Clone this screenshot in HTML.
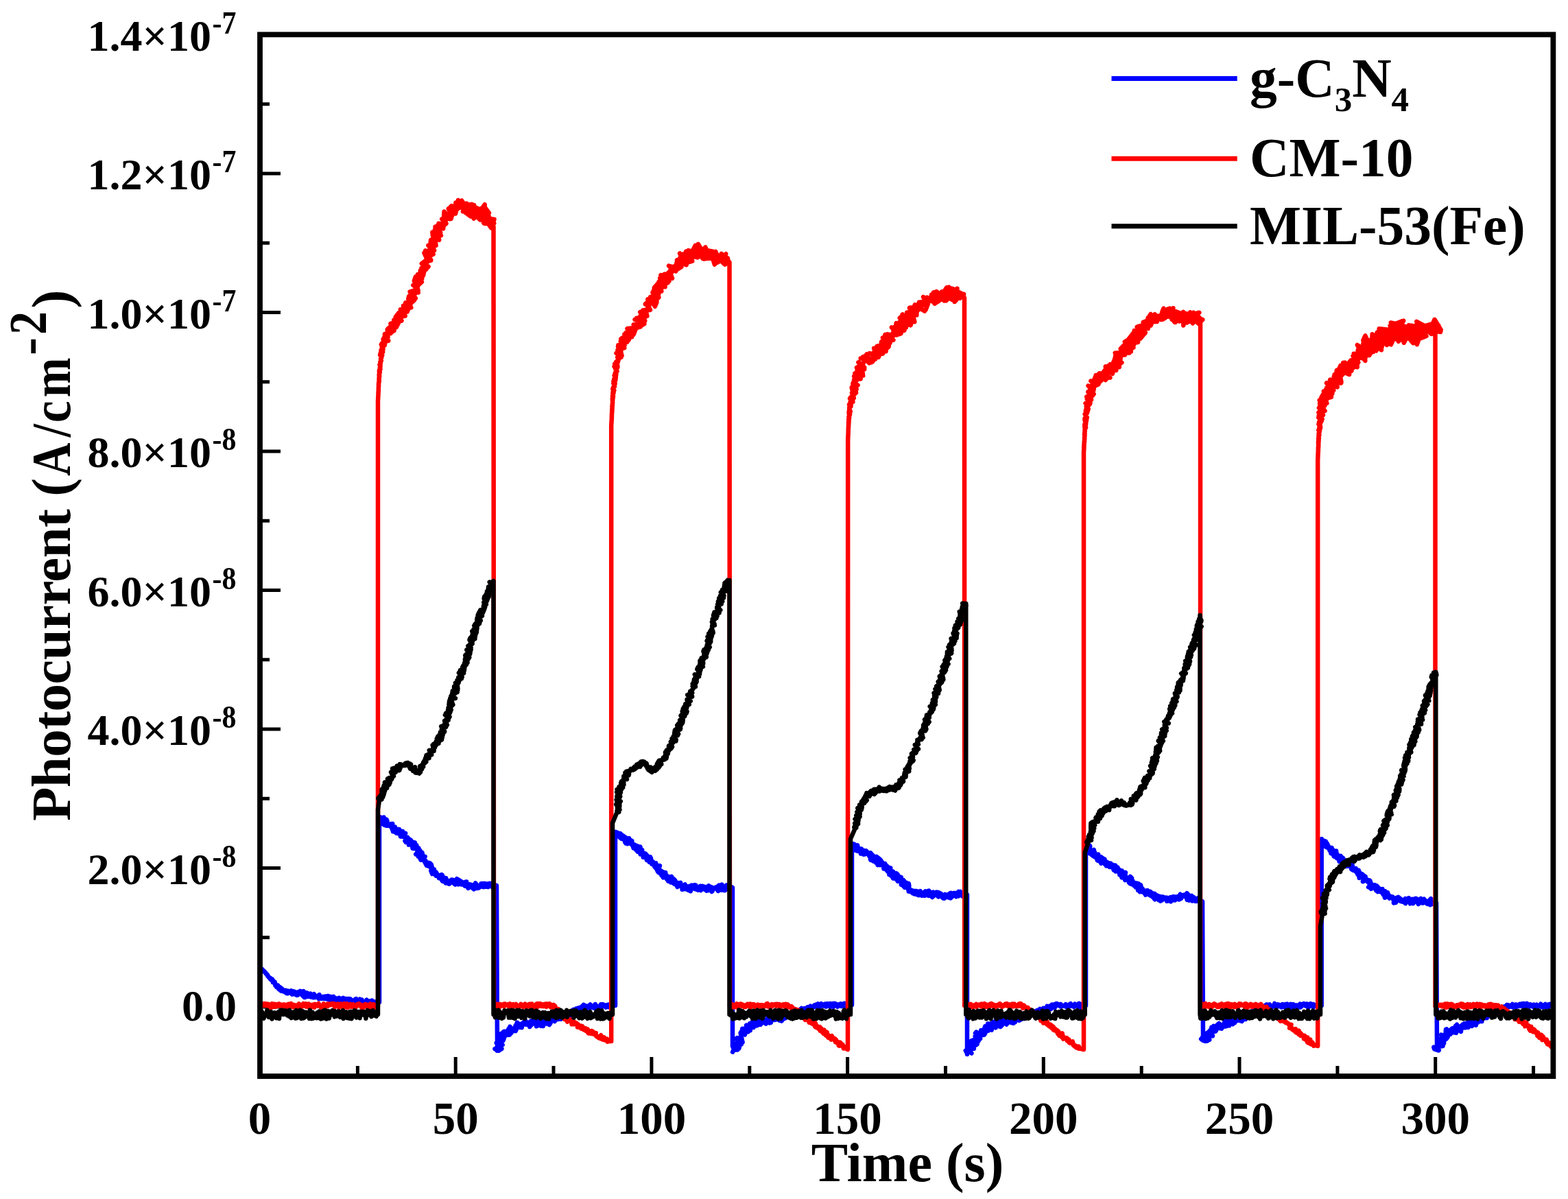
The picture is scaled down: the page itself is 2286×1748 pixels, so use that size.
<!DOCTYPE html>
<html><head><meta charset="utf-8"><title>Photocurrent</title>
<style>
html,body{margin:0;padding:0;background:#fff;}
svg{display:block;}
text{font-family:'Liberation Serif','Times New Roman',serif;font-weight:bold;fill:#000;}
</style></head><body>
<svg width="2286" height="1748" viewBox="0 0 2286 1748">
<rect width="2286" height="1748" fill="#fff"/>
<path d="M378.5 1569.0 V1541 M521.4 1569.0 V1554 M664.2 1569.0 V1541 M807.0 1569.0 V1554 M949.9 1569.0 V1541 M1092.8 1569.0 V1554 M1235.6 1569.0 V1541 M1378.5 1569.0 V1554 M1521.3 1569.0 V1541 M1664.2 1569.0 V1554 M1807.0 1569.0 V1541 M1949.9 1569.0 V1554 M2092.7 1569.0 V1541 M2235.6 1569.0 V1554 M379 1468.0 H409 M379 1366.8 H393 M379 1265.5 H409 M379 1164.2 H393 M379 1063.0 H409 M379 961.8 H393 M379 860.5 H409 M379 759.2 H393 M379 658.0 H409 M379 556.8 H393 M379 455.5 H409 M379 354.2 H393 M379 253.0 H409 M379 151.8 H393 M379 50.5 H409" stroke="#000" stroke-width="5" fill="none"/>
<defs><clipPath id="pc"><rect x="379" y="50" width="1886" height="1519"/></clipPath></defs>
<g fill="none" stroke-linejoin="round" stroke-linecap="butt" clip-path="url(#pc)">
<path d="M379.0 1410.0 L379.5 1410.7 L380.3 1411.4 L381.0 1411.9 L380.7 1412.5 L381.6 1412.5 L382.4 1413.1 L382.9 1413.9 L383.2 1414.7 L384.1 1414.9 L384.4 1416.2 L385.4 1416.0 L386.3 1417.7 L386.6 1418.0 L386.8 1417.7 L387.5 1418.4 L387.4 1419.4 L388.0 1419.6 L388.5 1420.4 L389.7 1420.8 L390.7 1422.5 L390.2 1422.9 L390.7 1423.0 L391.4 1424.2 L392.0 1424.9 L393.8 1425.5 L393.5 1425.5 L393.4 1426.4 L394.0 1427.5 L395.7 1427.5 L396.7 1427.6 L395.5 1428.8 L397.3 1429.5 L397.8 1428.8 L397.7 1431.2 L398.6 1429.9 L398.0 1432.4 L399.5 1431.6 L400.7 1431.8 L399.9 1433.2 L400.5 1432.5 L402.1 1435.6 L401.8 1434.9 L402.6 1435.5 L401.4 1436.8 L405.0 1436.4 L405.2 1438.7 L403.2 1439.1 L405.9 1438.6 L407.0 1440.6 L405.8 1440.7 L406.3 1441.8 L408.4 1439.2 L408.3 1440.0 L410.6 1441.0 L408.7 1444.1 L412.3 1443.6 L410.1 1441.5 L410.8 1445.0 L413.2 1443.9 L414.6 1446.0 L412.9 1443.2 L411.8 1444.5 L414.1 1444.3 L416.7 1443.8 L416.9 1447.4 L419.8 1444.8 L419.2 1447.6 L419.8 1447.6 L418.6 1447.7 L418.5 1448.4 L419.9 1448.2 L425.5 1444.9 L425.7 1445.7 L426.3 1446.7 L424.1 1444.5 L425.7 1449.6 L427.9 1446.3 L426.9 1445.1 L425.8 1447.0 L430.1 1449.3 L429.2 1445.6 L434.0 1447.9 L428.6 1449.4 L432.5 1449.1 L434.3 1446.4 L432.8 1451.0 L434.5 1450.4 L434.6 1450.3 L437.6 1444.8 L440.3 1446.3 L441.1 1451.1 L439.7 1449.7 L437.7 1448.6 L437.3 1447.1 L441.7 1452.2 L442.5 1445.0 L445.7 1450.3 L443.8 1454.1 L447.8 1452.5 L443.4 1452.7 L445.1 1454.0 L447.6 1451.6 L451.8 1449.9 L447.3 1447.4 L449.2 1452.9 L451.6 1450.7 L450.4 1450.4 L452.9 1453.4 L455.2 1450.0 L454.6 1453.1 L452.4 1448.7 L456.3 1454.3 L458.8 1454.3 L456.7 1453.6 L454.5 1452.5 L457.8 1449.2 L455.2 1453.1 L460.2 1451.7 L460.4 1453.1 L460.2 1451.8 L464.7 1455.4 L464.3 1451.3 L466.4 1455.2 L465.5 1450.1 L466.8 1455.4 L464.8 1456.4 L467.7 1454.8 L469.5 1455.5 L466.3 1453.0 L467.0 1455.6 L473.1 1455.9 L473.0 1453.2 L474.9 1452.5 L469.3 1453.6 L470.3 1453.0 L474.1 1455.9 L475.8 1453.9 L473.9 1456.0 L478.8 1456.6 L478.2 1452.0 L480.6 1452.9 L480.2 1457.0 L478.6 1452.3 L479.2 1457.4 L482.0 1454.3 L483.1 1453.4 L481.9 1457.8 L483.6 1453.3 L482.4 1458.8 L482.8 1457.9 L486.3 1452.9 L485.1 1458.5 L489.1 1455.3 L487.3 1459.7 L489.6 1457.7 L493.5 1457.7 L487.7 1456.4 L489.0 1456.4 L490.3 1456.4 L494.2 1456.8 L494.8 1458.3 L493.0 1455.3 L494.5 1454.7 L499.6 1458.9 L497.2 1458.2 L499.8 1460.5 L499.1 1455.5 L498.2 1457.9 L500.3 1454.9 L499.0 1458.5 L503.8 1457.8 L501.5 1455.5 L503.4 1456.5 L505.1 1456.1 L506.7 1457.1 L503.3 1459.4 L507.7 1456.1 L510.0 1458.0 L508.6 1458.5 L506.3 1458.9 L511.8 1461.3 L510.4 1456.9 L509.5 1461.0 L510.4 1456.2 L513.7 1459.4 L513.2 1458.6 L514.7 1460.9 L517.6 1460.1 L518.1 1456.5 L514.9 1460.0 L516.5 1458.2 L520.7 1459.0 L519.1 1456.2 L523.0 1460.8 L520.6 1460.4 L521.0 1460.0 L524.4 1456.8 L524.2 1462.7 L525.9 1459.9 L526.8 1460.3 L525.3 1462.0 L524.4 1458.8 L526.8 1462.2 L527.4 1457.4 L526.6 1460.4 L529.5 1462.1 L530.2 1460.2 L532.6 1462.4 L534.5 1458.1 L534.4 1457.6 L535.0 1462.2 L534.7 1458.7 L538.0 1462.3 L536.3 1460.6 L535.7 1459.4 L538.6 1459.6 L540.3 1459.6 L539.0 1462.3 L541.7 1460.4 L542.3 1458.6 L541.3 1460.5 L545.4 1460.5 L545.9 1462.6 L546.2 1460.9 L547.3 1460.4 L547.5 1461.2 L546.6 1463.5 L546.7 1462.2 L549.8 1460.5 L550.3 1460.1 L550.5 1460.6 L551.1 1461.0 L552.0 1461.0 L553.0 1461.0 L553.0 1192.0 L553.5 1197.2 L551.7 1191.6 L554.3 1191.2 L558.7 1196.2 L560.3 1196.5 L554.4 1198.3 L559.0 1196.4 L559.5 1191.4 L559.5 1193.4 L563.5 1194.9 L559.3 1201.0 L563.9 1197.6 L559.1 1194.9 L558.0 1201.4 L564.5 1196.6 L564.4 1198.3 L562.9 1200.3 L566.5 1203.8 L560.7 1203.0 L563.9 1202.9 L563.0 1203.8 L567.2 1202.8 L570.4 1206.1 L569.2 1201.3 L572.3 1201.0 L571.7 1204.5 L566.9 1202.5 L573.9 1205.7 L571.9 1208.9 L576.0 1205.8 L575.0 1207.7 L576.8 1209.6 L572.2 1208.4 L572.9 1212.3 L573.0 1208.9 L574.8 1210.0 L575.2 1212.9 L579.4 1213.7 L577.3 1209.1 L581.8 1209.1 L579.6 1209.6 L577.6 1214.4 L579.7 1210.9 L577.5 1213.2 L581.0 1209.9 L579.7 1215.1 L581.6 1214.2 L587.2 1212.1 L580.5 1213.0 L586.1 1217.8 L586.1 1211.8 L586.1 1213.8 L583.8 1219.6 L583.8 1219.0 L591.2 1214.9 L588.0 1220.1 L594.1 1220.8 L587.7 1219.9 L588.0 1217.1 L589.2 1216.6 L592.1 1221.4 L591.7 1222.2 L592.3 1222.3 L594.7 1226.7 L590.4 1225.9 L591.8 1227.9 L591.6 1223.8 L596.3 1223.0 L596.4 1226.3 L598.9 1224.7 L600.8 1227.9 L596.0 1226.1 L601.9 1231.0 L595.9 1231.6 L596.6 1231.1 L603.4 1229.9 L604.8 1228.4 L600.1 1227.3 L603.7 1232.2 L600.4 1228.5 L601.5 1236.5 L605.7 1232.5 L607.4 1234.7 L602.8 1237.2 L606.2 1235.5 L607.2 1232.1 L605.6 1237.1 L606.2 1236.0 L607.9 1234.1 L610.5 1241.9 L608.3 1239.9 L610.4 1236.4 L609.2 1244.3 L612.5 1244.6 L612.5 1242.2 L606.2 1245.3 L612.1 1239.5 L614.9 1243.9 L615.5 1243.0 L616.3 1247.8 L613.3 1250.3 L611.7 1249.1 L618.1 1249.2 L616.4 1250.4 L609.9 1248.9 L611.2 1248.9 L613.5 1253.7 L616.0 1247.7 L619.7 1248.8 L618.6 1249.9 L613.9 1250.9 L615.3 1252.1 L619.6 1254.8 L620.9 1256.6 L619.3 1254.3 L616.9 1253.3 L620.2 1254.5 L617.9 1254.3 L619.5 1257.0 L621.8 1261.5 L623.9 1257.7 L626.7 1258.2 L623.5 1262.4 L627.4 1262.2 L622.2 1261.0 L628.1 1260.5 L623.5 1260.1 L627.2 1259.9 L629.8 1264.1 L628.7 1260.2 L629.3 1266.5 L627.3 1264.1 L630.8 1266.8 L632.9 1267.4 L628.3 1269.5 L632.8 1268.5 L631.3 1271.6 L629.3 1271.1 L630.9 1272.9 L633.1 1270.4 L629.2 1271.8 L633.8 1272.5 L630.0 1274.1 L635.8 1271.5 L638.7 1277.3 L632.8 1273.5 L635.8 1276.9 L635.3 1272.7 L634.9 1273.8 L641.1 1278.1 L639.4 1276.8 L643.5 1275.2 L640.6 1276.9 L640.0 1280.2 L643.2 1277.4 L644.7 1275.7 L646.0 1278.8 L641.8 1279.2 L645.1 1284.7 L647.7 1283.0 L647.8 1285.6 L646.4 1283.8 L644.9 1279.6 L650.2 1280.2 L649.9 1287.4 L651.2 1286.9 L651.6 1286.1 L650.1 1285.8 L649.1 1281.4 L652.6 1287.0 L649.4 1285.3 L654.5 1286.4 L651.7 1283.8 L655.6 1284.5 L654.2 1284.6 L655.2 1288.7 L654.2 1288.6 L655.6 1284.9 L663.9 1285.3 L656.2 1284.6 L658.5 1282.4 L666.5 1284.6 L663.6 1289.5 L660.2 1286.7 L664.8 1283.1 L664.6 1283.1 L662.9 1286.7 L666.1 1281.2 L672.3 1285.1 L668.0 1289.4 L665.3 1285.2 L665.6 1286.5 L673.6 1285.8 L668.3 1285.0 L674.4 1287.6 L676.1 1287.7 L672.0 1287.3 L671.8 1286.9 L672.7 1289.5 L677.9 1287.7 L680.5 1287.2 L676.2 1290.2 L678.4 1285.8 L680.2 1285.6 L680.3 1289.4 L679.3 1291.1 L679.3 1291.8 L678.0 1291.8 L686.7 1289.6 L680.7 1288.6 L682.5 1294.8 L686.3 1291.1 L683.2 1290.0 L687.0 1290.8 L686.0 1289.7 L690.8 1290.6 L688.9 1294.7 L691.0 1296.3 L688.5 1292.0 L695.4 1294.9 L693.2 1289.5 L692.3 1292.3 L693.2 1287.4 L698.2 1294.4 L693.0 1295.0 L692.3 1292.2 L692.9 1292.0 L699.6 1293.3 L702.2 1292.3 L701.2 1289.8 L703.0 1288.4 L699.6 1291.3 L704.8 1293.1 L705.2 1289.8 L699.7 1290.7 L707.0 1288.0 L701.5 1288.2 L706.9 1290.0 L707.1 1292.7 L706.0 1290.6 L705.1 1291.6 L711.5 1293.1 L706.2 1289.6 L712.3 1288.2 L715.9 1288.3 L716.9 1292.4 L710.6 1291.3 L714.1 1287.9 L717.9 1293.7 L719.1 1289.5 L712.3 1291.5 L715.9 1290.5 L719.0 1286.7 L719.0 1290.0 L724.0 1291.0 L725.0 1530.0 L724.8 1531.8 L731.5 1528.9 L729.7 1530.3 L721.4 1529.2 L727.3 1531.7 L727.4 1530.8 L728.0 1525.1 L725.8 1524.8 L723.7 1527.6 L732.6 1523.2 L723.7 1520.3 L726.5 1519.6 L726.5 1523.3 L726.7 1513.8 L730.6 1519.4 L729.1 1518.7 L734.2 1515.6 L733.6 1511.3 L730.6 1513.0 L725.4 1515.3 L726.3 1510.4 L732.2 1515.3 L730.6 1511.3 L735.9 1508.4 L734.1 1511.6 L733.6 1516.9 L736.7 1508.1 L735.7 1507.9 L730.5 1507.1 L741.0 1508.8 L733.4 1505.0 L732.3 1506.9 L738.4 1508.9 L742.9 1508.7 L739.2 1507.7 L734.7 1503.7 L743.9 1503.8 L741.3 1508.6 L744.3 1499.9 L738.8 1504.3 L747.2 1501.9 L745.3 1506.1 L741.9 1505.3 L743.5 1496.6 L744.1 1500.0 L743.0 1497.7 L741.2 1500.5 L746.1 1503.7 L745.0 1498.6 L749.5 1502.8 L744.3 1498.2 L750.2 1501.5 L755.5 1494.4 L751.8 1503.1 L751.4 1495.8 L753.8 1496.0 L751.4 1500.6 L753.1 1492.5 L753.9 1497.6 L754.0 1490.7 L760.7 1498.0 L757.6 1497.7 L757.8 1493.8 L763.3 1492.2 L763.9 1491.8 L756.7 1493.5 L758.5 1494.5 L756.6 1494.2 L763.0 1493.9 L762.1 1491.7 L760.6 1494.2 L766.1 1487.7 L768.1 1493.7 L763.1 1490.4 L763.2 1493.2 L767.7 1493.5 L765.2 1489.8 L771.3 1493.8 L765.7 1491.3 L771.3 1490.5 L776.6 1488.4 L775.3 1488.1 L772.7 1493.0 L772.3 1497.0 L777.5 1490.7 L781.8 1492.6 L776.2 1491.7 L774.1 1488.2 L783.6 1495.5 L781.9 1496.1 L782.8 1494.7 L785.5 1493.0 L779.5 1487.9 L783.8 1486.0 L785.1 1490.4 L788.9 1489.8 L789.3 1493.5 L788.7 1495.8 L781.4 1489.8 L782.3 1491.5 L787.0 1488.2 L784.7 1492.3 L787.6 1492.5 L791.9 1495.9 L789.6 1491.0 L797.2 1492.7 L796.7 1490.1 L794.8 1487.5 L798.0 1492.2 L798.9 1487.3 L801.9 1491.9 L794.0 1486.8 L796.3 1486.6 L801.0 1494.0 L800.0 1490.0 L802.6 1491.6 L802.6 1488.0 L799.8 1488.9 L800.3 1488.9 L801.9 1487.9 L804.2 1488.6 L805.9 1487.9 L804.3 1485.1 L807.5 1486.3 L808.1 1485.4 L806.2 1485.1 L808.7 1489.1 L806.9 1485.3 L812.0 1483.4 L809.9 1486.4 L813.7 1486.1 L811.6 1482.1 L811.4 1484.0 L817.0 1485.6 L814.3 1482.2 L813.4 1483.7 L816.8 1485.0 L815.8 1485.3 L820.5 1481.0 L818.2 1485.6 L821.3 1483.6 L822.0 1482.8 L823.2 1481.0 L819.9 1483.4 L824.0 1480.3 L823.7 1480.1 L826.7 1481.6 L822.9 1477.6 L823.7 1480.7 L823.8 1479.1 L829.4 1477.4 L829.6 1479.0 L826.8 1476.3 L831.6 1479.5 L830.7 1477.5 L828.8 1477.9 L832.5 1480.2 L834.5 1477.8 L832.7 1474.0 L833.6 1474.8 L835.7 1472.8 L837.7 1474.3 L833.1 1474.1 L837.4 1471.7 L835.9 1471.9 L837.1 1474.8 L839.7 1471.9 L838.6 1475.6 L843.0 1473.7 L840.3 1472.8 L842.3 1471.4 L840.7 1472.6 L840.0 1470.3 L841.2 1471.5 L846.4 1469.6 L843.3 1469.5 L847.1 1471.1 L845.2 1468.9 L844.5 1469.8 L848.6 1467.9 L849.5 1467.0 L848.9 1466.8 L849.9 1468.2 L850.9 1464.9 L849.8 1468.0 L850.4 1466.7 L854.8 1466.4 L855.0 1467.9 L853.4 1468.8 L858.3 1467.5 L854.7 1468.8 L856.3 1469.8 L857.2 1468.7 L858.4 1469.1 L857.4 1468.2 L859.8 1469.4 L859.2 1466.0 L860.5 1464.5 L864.7 1467.8 L864.3 1467.6 L865.0 1467.9 L863.9 1468.9 L866.4 1469.7 L867.5 1468.1 L867.2 1465.5 L868.5 1469.0 L868.0 1464.0 L868.5 1465.2 L868.5 1467.5 L871.1 1467.2 L870.3 1468.7 L875.5 1467.8 L876.0 1464.3 L873.6 1467.9 L875.7 1468.7 L877.5 1467.5 L874.7 1466.2 L881.2 1465.6 L881.7 1465.3 L882.6 1466.8 L881.7 1466.1 L879.1 1464.3 L879.8 1467.3 L884.2 1467.9 L883.4 1468.6 L885.3 1465.4 L887.1 1464.5 L884.6 1465.4 L887.8 1464.7 L886.9 1465.0 L887.5 1468.3 L888.5 1466.2 L891.1 1464.0 L891.6 1467.4 L892.4 1464.4 L891.6 1464.9 L893.9 1466.3 L891.5 1466.1 L895.0 1466.0 L897.0 1466.0 L897.0 1213.0 L896.4 1213.6 L895.4 1216.6 L896.9 1215.7 L903.9 1215.4 L897.3 1212.8 L901.3 1218.3 L904.4 1215.2 L899.9 1219.5 L900.2 1215.8 L906.5 1217.9 L907.1 1221.5 L909.2 1218.9 L906.6 1219.6 L903.9 1217.0 L904.9 1216.0 L911.6 1220.8 L904.1 1221.3 L913.7 1222.7 L905.7 1222.7 L908.8 1223.7 L910.1 1222.4 L911.2 1221.4 L911.8 1222.1 L912.2 1220.8 L912.4 1229.5 L911.2 1227.9 L917.1 1222.0 L912.2 1224.0 L918.3 1225.7 L921.4 1226.0 L918.7 1225.5 L920.2 1225.2 L914.6 1230.2 L920.2 1226.6 L916.2 1229.0 L925.1 1231.4 L920.8 1231.1 L922.8 1230.2 L923.7 1231.0 L924.8 1234.2 L922.1 1229.3 L922.0 1231.8 L928.6 1232.9 L922.6 1233.7 L923.8 1236.7 L930.2 1238.1 L931.4 1234.3 L924.5 1235.4 L931.5 1238.6 L928.4 1237.1 L933.5 1234.6 L931.1 1236.4 L927.5 1239.5 L934.1 1243.6 L930.3 1239.8 L929.8 1241.8 L936.2 1239.0 L932.4 1243.0 L933.4 1242.2 L933.7 1245.6 L933.1 1243.2 L938.1 1243.5 L935.6 1243.4 L939.9 1249.3 L939.5 1246.5 L940.9 1244.4 L943.6 1247.4 L938.4 1246.9 L940.7 1249.6 L937.7 1249.8 L940.6 1247.5 L941.5 1249.2 L946.9 1252.1 L942.9 1253.9 L941.6 1248.5 L941.7 1248.9 L946.6 1254.3 L947.9 1249.2 L945.9 1254.2 L945.0 1254.7 L943.9 1253.1 L949.0 1251.2 L947.3 1254.2 L946.8 1257.0 L948.5 1254.0 L951.8 1256.0 L950.6 1260.0 L956.3 1258.4 L955.2 1258.6 L953.9 1259.7 L955.7 1261.0 L956.4 1264.7 L958.9 1261.8 L954.3 1263.5 L954.6 1263.0 L956.3 1260.5 L960.4 1263.1 L959.8 1268.3 L961.9 1262.1 L955.3 1264.9 L958.6 1267.9 L960.8 1268.7 L958.9 1270.5 L957.4 1265.9 L965.5 1270.6 L958.0 1268.6 L963.2 1273.2 L960.2 1272.2 L960.6 1268.4 L964.2 1272.7 L969.5 1272.0 L962.2 1271.1 L964.6 1276.3 L963.8 1273.7 L971.4 1275.6 L968.0 1277.8 L968.6 1278.6 L969.7 1277.6 L967.0 1279.4 L970.2 1272.0 L969.0 1276.2 L972.4 1277.3 L975.5 1280.5 L969.8 1278.6 L973.0 1282.8 L971.3 1276.3 L975.8 1278.8 L974.4 1284.8 L979.1 1277.9 L981.3 1283.4 L977.9 1286.4 L976.8 1278.5 L981.8 1281.1 L984.1 1283.3 L976.3 1281.9 L979.1 1280.9 L978.7 1285.0 L983.2 1288.8 L984.5 1284.0 L982.3 1282.3 L980.4 1286.7 L983.2 1284.4 L985.3 1288.1 L987.6 1293.0 L989.9 1290.5 L988.8 1287.2 L988.8 1288.8 L992.2 1286.8 L992.3 1289.3 L988.0 1291.6 L987.1 1289.7 L995.4 1293.9 L993.1 1292.0 L994.6 1290.6 L996.9 1291.7 L996.8 1296.4 L994.5 1296.7 L1000.0 1294.9 L998.7 1289.4 L997.1 1290.6 L1001.1 1296.3 L999.8 1291.9 L1003.1 1297.7 L999.1 1295.7 L1002.8 1295.8 L1005.1 1298.4 L1006.9 1299.1 L1005.8 1291.7 L1002.8 1294.9 L1002.7 1292.2 L1010.0 1294.8 L1010.2 1294.5 L1006.3 1296.3 L1007.9 1292.7 L1008.6 1290.5 L1013.1 1294.4 L1007.8 1294.3 L1016.2 1297.0 L1014.4 1290.5 L1012.4 1290.3 L1014.0 1294.0 L1014.0 1292.2 L1013.9 1294.4 L1014.6 1291.6 L1017.5 1297.7 L1020.2 1295.4 L1020.9 1291.7 L1024.0 1296.4 L1024.0 1291.7 L1026.8 1292.8 L1021.7 1298.1 L1024.1 1295.0 L1028.2 1294.2 L1023.3 1294.4 L1028.7 1297.4 L1026.5 1295.8 L1029.1 1295.4 L1029.4 1293.1 L1034.1 1295.9 L1032.9 1291.3 L1030.1 1298.7 L1035.9 1297.3 L1033.9 1295.0 L1035.7 1294.3 L1038.6 1296.8 L1034.5 1294.5 L1035.3 1294.3 L1037.5 1299.9 L1038.6 1299.1 L1035.6 1292.6 L1036.5 1293.0 L1041.1 1294.9 L1036.8 1295.2 L1038.1 1295.7 L1038.6 1294.6 L1040.9 1295.1 L1046.5 1295.3 L1047.4 1292.6 L1046.9 1299.0 L1043.7 1293.3 L1043.9 1295.8 L1047.0 1291.7 L1044.6 1294.3 L1048.1 1290.8 L1050.6 1296.2 L1049.9 1296.6 L1051.4 1297.6 L1052.6 1289.6 L1053.0 1291.5 L1057.2 1298.1 L1059.2 1293.1 L1058.4 1292.0 L1055.3 1297.8 L1058.6 1292.1 L1056.9 1296.3 L1059.1 1290.4 L1064.3 1291.3 L1063.1 1297.3 L1064.9 1293.5 L1061.6 1295.1 L1061.6 1293.6 L1063.4 1291.7 L1065.3 1296.2 L1066.0 1293.0 L1068.0 1294.0 L1068.0 1525.0 L1070.0 1530.0 L1068.1 1533.7 L1071.3 1527.8 L1075.0 1524.3 L1071.4 1530.5 L1075.1 1530.5 L1069.1 1521.0 L1077.1 1526.6 L1070.5 1525.9 L1077.4 1528.4 L1078.2 1525.2 L1074.5 1516.4 L1075.0 1516.3 L1075.6 1523.5 L1074.7 1519.9 L1076.9 1521.2 L1078.9 1517.7 L1075.9 1523.4 L1080.7 1522.5 L1076.3 1518.3 L1082.7 1519.2 L1073.6 1514.0 L1076.4 1519.3 L1080.6 1514.7 L1074.9 1513.1 L1082.1 1517.6 L1081.6 1515.0 L1079.6 1506.0 L1081.3 1508.2 L1080.9 1510.1 L1082.8 1506.1 L1080.9 1503.8 L1085.9 1508.5 L1082.1 1502.6 L1084.5 1505.9 L1080.9 1510.0 L1082.5 1501.5 L1082.2 1499.8 L1086.8 1499.6 L1091.0 1504.2 L1083.7 1505.1 L1085.4 1504.4 L1087.7 1504.4 L1093.3 1497.8 L1092.3 1497.3 L1088.5 1499.9 L1092.3 1494.5 L1093.7 1502.3 L1088.0 1494.8 L1090.4 1502.0 L1091.9 1496.6 L1097.3 1494.4 L1095.2 1491.4 L1095.7 1491.3 L1098.4 1495.2 L1093.1 1492.1 L1099.7 1495.6 L1097.4 1488.6 L1098.6 1498.0 L1099.8 1488.4 L1104.0 1489.4 L1101.1 1490.0 L1101.1 1491.1 L1106.3 1493.4 L1101.2 1487.9 L1108.9 1493.7 L1105.9 1486.8 L1107.1 1489.4 L1103.1 1495.4 L1108.8 1492.5 L1105.4 1491.5 L1113.3 1488.0 L1113.8 1488.5 L1108.1 1486.3 L1111.0 1489.5 L1112.5 1489.9 L1116.7 1492.6 L1110.2 1488.3 L1118.5 1489.5 L1114.1 1486.7 L1119.0 1490.4 L1113.7 1491.1 L1123.1 1489.7 L1120.4 1488.9 L1123.3 1486.5 L1123.8 1490.8 L1117.8 1490.6 L1119.7 1481.3 L1121.9 1491.5 L1119.0 1486.0 L1120.3 1485.0 L1122.9 1487.2 L1120.5 1489.6 L1126.1 1481.7 L1126.4 1480.3 L1126.7 1482.0 L1126.4 1483.6 L1129.5 1485.9 L1128.5 1487.0 L1135.9 1485.5 L1136.3 1487.7 L1138.0 1482.6 L1135.7 1480.2 L1128.5 1485.9 L1140.2 1485.0 L1132.4 1479.3 L1139.5 1487.7 L1135.5 1482.9 L1136.2 1478.7 L1136.5 1481.7 L1139.5 1488.5 L1145.7 1481.1 L1136.6 1484.0 L1138.2 1482.8 L1144.7 1482.8 L1145.1 1484.4 L1140.7 1485.7 L1140.0 1479.0 L1150.5 1477.6 L1142.0 1482.4 L1144.9 1479.4 L1150.0 1477.4 L1148.4 1479.3 L1150.0 1480.0 L1149.1 1480.5 L1153.9 1479.0 L1150.3 1481.3 L1156.1 1477.6 L1151.7 1477.2 L1155.0 1476.3 L1155.6 1475.1 L1154.0 1474.8 L1154.4 1475.7 L1156.6 1476.4 L1158.8 1476.5 L1156.9 1477.6 L1158.9 1475.5 L1160.2 1474.3 L1161.8 1476.0 L1164.6 1473.2 L1163.0 1473.7 L1161.4 1474.0 L1166.7 1473.8 L1163.5 1473.1 L1168.0 1473.1 L1168.0 1471.4 L1168.5 1469.9 L1166.2 1472.5 L1171.4 1474.2 L1171.5 1472.1 L1168.6 1472.4 L1174.4 1470.2 L1170.3 1471.4 L1173.1 1470.0 L1175.0 1472.9 L1177.5 1471.4 L1174.0 1470.6 L1178.2 1472.6 L1177.3 1468.3 L1179.4 1468.9 L1178.5 1469.9 L1180.3 1467.8 L1179.5 1468.1 L1183.7 1468.3 L1184.3 1469.4 L1182.7 1470.5 L1183.1 1469.2 L1181.4 1466.6 L1184.4 1468.7 L1186.1 1467.0 L1183.4 1467.6 L1190.0 1466.5 L1187.7 1468.1 L1187.5 1465.5 L1186.8 1465.9 L1187.2 1465.5 L1189.9 1464.4 L1194.6 1466.9 L1193.8 1467.7 L1190.7 1467.1 L1192.6 1463.4 L1192.1 1464.4 L1198.1 1465.5 L1194.9 1468.3 L1198.2 1465.4 L1198.8 1465.5 L1197.2 1463.2 L1197.2 1463.9 L1198.2 1464.2 L1202.6 1466.5 L1199.5 1466.6 L1201.9 1465.3 L1203.6 1467.4 L1202.3 1463.7 L1206.5 1463.2 L1204.1 1466.3 L1205.6 1467.3 L1209.9 1463.8 L1208.1 1463.9 L1210.8 1465.7 L1210.6 1463.0 L1212.8 1465.5 L1210.6 1468.0 L1214.1 1463.2 L1214.4 1464.9 L1213.9 1467.6 L1213.1 1465.1 L1215.2 1467.7 L1216.1 1464.9 L1216.5 1462.9 L1219.5 1463.9 L1219.3 1465.7 L1219.4 1465.3 L1221.0 1467.7 L1223.8 1465.4 L1222.8 1465.2 L1225.8 1466.6 L1221.3 1465.2 L1225.9 1463.3 L1227.9 1464.4 L1228.6 1463.9 L1227.6 1464.3 L1229.5 1464.4 L1231.5 1464.6 L1227.4 1467.0 L1230.8 1462.9 L1230.4 1465.0 L1231.5 1462.8 L1231.3 1464.0 L1231.5 1467.0 L1236.5 1463.6 L1233.2 1464.8 L1237.1 1463.2 L1236.4 1466.7 L1236.4 1463.4 L1239.6 1464.9 L1238.9 1462.8 L1240.0 1465.0 L1242.0 1465.0 L1242.0 1230.0 L1245.7 1231.0 L1240.6 1229.7 L1245.4 1231.3 L1241.1 1232.9 L1245.4 1233.2 L1244.4 1230.6 L1244.7 1233.6 L1245.0 1232.9 L1244.0 1233.9 L1245.7 1231.9 L1248.6 1234.1 L1250.2 1232.4 L1247.9 1240.0 L1251.9 1241.1 L1255.9 1237.4 L1248.6 1239.2 L1250.1 1238.2 L1254.4 1241.6 L1251.9 1236.3 L1255.2 1240.7 L1255.0 1244.6 L1254.4 1239.4 L1260.1 1240.1 L1261.3 1245.0 L1259.8 1244.0 L1258.7 1245.6 L1263.0 1240.4 L1262.0 1243.6 L1260.8 1245.3 L1260.5 1245.0 L1262.4 1241.8 L1268.2 1244.4 L1262.3 1243.1 L1263.6 1244.8 L1269.1 1243.4 L1267.3 1248.3 L1265.6 1242.9 L1271.6 1249.3 L1272.2 1248.5 L1270.3 1244.5 L1272.6 1248.9 L1274.7 1249.2 L1268.8 1252.5 L1273.1 1247.5 L1269.6 1254.0 L1275.7 1250.9 L1271.2 1252.4 L1274.5 1249.1 L1270.9 1253.1 L1272.7 1255.2 L1278.0 1250.0 L1277.8 1248.8 L1280.1 1250.5 L1283.3 1253.3 L1276.8 1257.4 L1279.7 1255.6 L1283.6 1256.2 L1279.7 1261.2 L1286.6 1257.7 L1283.2 1255.0 L1281.4 1254.8 L1286.7 1260.7 L1284.8 1255.0 L1282.1 1258.6 L1281.4 1260.6 L1283.1 1261.3 L1286.6 1257.4 L1288.1 1259.3 L1286.9 1260.0 L1291.3 1261.3 L1290.3 1259.0 L1288.4 1266.5 L1288.2 1262.8 L1290.5 1265.0 L1296.3 1267.6 L1288.6 1264.3 L1292.4 1262.1 L1294.0 1263.3 L1296.8 1270.0 L1298.3 1265.3 L1296.6 1272.9 L1293.0 1269.2 L1294.1 1270.2 L1300.8 1270.1 L1302.0 1270.5 L1300.9 1275.7 L1296.4 1275.0 L1296.7 1271.2 L1299.5 1277.1 L1298.7 1276.6 L1297.8 1274.4 L1306.5 1274.7 L1305.8 1275.4 L1299.4 1275.1 L1306.4 1273.0 L1301.7 1279.9 L1302.1 1280.5 L1308.4 1274.4 L1304.5 1279.9 L1306.0 1281.5 L1310.0 1277.0 L1310.1 1280.0 L1305.5 1279.1 L1308.9 1284.8 L1313.7 1278.7 L1308.4 1282.2 L1312.0 1285.0 L1309.8 1279.8 L1311.2 1281.3 L1315.9 1284.4 L1311.9 1283.6 L1313.1 1284.9 L1315.5 1288.7 L1313.7 1289.6 L1317.0 1282.9 L1320.5 1288.1 L1314.0 1286.7 L1317.3 1285.3 L1322.3 1287.3 L1320.4 1289.7 L1317.4 1292.4 L1324.8 1288.1 L1325.4 1291.7 L1319.1 1294.0 L1324.7 1289.4 L1324.5 1291.7 L1324.1 1296.3 L1325.4 1294.8 L1322.9 1294.3 L1328.1 1299.4 L1324.7 1297.7 L1324.7 1299.5 L1330.0 1300.2 L1327.4 1297.1 L1331.6 1301.2 L1328.9 1297.7 L1331.1 1298.7 L1332.8 1303.2 L1334.1 1301.4 L1331.0 1302.0 L1336.2 1299.0 L1330.3 1298.8 L1330.1 1301.8 L1330.7 1302.2 L1337.0 1299.5 L1334.0 1303.6 L1340.9 1301.3 L1335.2 1303.4 L1339.4 1305.2 L1340.1 1299.5 L1338.1 1302.7 L1338.7 1301.2 L1345.0 1305.2 L1343.9 1305.6 L1341.7 1299.1 L1344.5 1304.8 L1343.8 1304.9 L1349.0 1299.4 L1343.2 1305.3 L1348.4 1305.8 L1351.3 1301.8 L1347.9 1303.7 L1351.0 1301.1 L1348.0 1303.1 L1351.0 1301.9 L1353.3 1299.7 L1352.9 1298.9 L1353.8 1305.6 L1358.1 1304.3 L1354.5 1298.7 L1354.0 1306.0 L1355.7 1303.1 L1360.9 1306.4 L1358.0 1302.3 L1360.3 1300.6 L1363.3 1303.6 L1359.1 1308.0 L1358.8 1302.3 L1363.9 1301.3 L1365.1 1300.6 L1361.8 1304.3 L1361.9 1302.7 L1366.0 1304.0 L1368.3 1307.4 L1363.2 1303.3 L1367.9 1300.8 L1372.2 1303.1 L1369.2 1306.1 L1369.3 1303.7 L1373.6 1305.7 L1373.0 1307.0 L1369.6 1306.5 L1377.1 1305.9 L1374.5 1309.2 L1376.8 1306.3 L1374.7 1307.0 L1375.1 1306.4 L1377.6 1304.0 L1376.6 1309.9 L1380.7 1305.5 L1379.4 1304.5 L1376.9 1306.0 L1384.6 1309.1 L1386.1 1303.2 L1386.1 1301.7 L1381.1 1305.0 L1381.9 1308.2 L1388.3 1305.6 L1388.1 1306.7 L1385.9 1309.3 L1391.2 1304.4 L1385.5 1306.4 L1388.9 1305.9 L1393.2 1303.8 L1394.7 1304.0 L1394.8 1305.2 L1397.3 1306.4 L1390.5 1301.9 L1396.1 1302.0 L1398.8 1303.8 L1399.8 1302.8 L1394.0 1307.2 L1397.5 1299.9 L1402.7 1304.4 L1400.0 1299.8 L1402.3 1304.8 L1400.1 1303.2 L1403.0 1302.2 L1406.0 1303.3 L1400.1 1305.1 L1402.7 1304.2 L1407.8 1300.3 L1404.1 1307.1 L1407.0 1303.0 L1410.0 1304.0 L1410.0 1537.0 L1409.9 1535.5 L1407.8 1531.6 L1413.2 1529.9 L1413.6 1529.9 L1414.0 1532.7 L1416.4 1535.5 L1411.2 1530.1 L1416.2 1530.0 L1410.4 1530.9 L1417.9 1528.3 L1416.9 1527.1 L1410.1 1526.3 L1419.5 1523.9 L1410.5 1525.6 L1416.2 1527.6 L1419.9 1528.9 L1414.0 1528.9 L1418.8 1520.9 L1417.4 1518.0 L1414.0 1521.9 L1423.6 1519.4 L1422.8 1523.6 L1424.5 1522.3 L1418.4 1518.2 L1419.9 1516.6 L1422.8 1522.8 L1426.4 1517.8 L1425.9 1516.6 L1416.2 1517.3 L1426.9 1513.6 L1426.6 1517.5 L1421.6 1510.8 L1424.8 1516.7 L1426.0 1516.0 L1427.2 1514.5 L1425.4 1516.4 L1429.1 1514.3 L1422.0 1506.3 L1423.8 1507.6 L1423.0 1506.1 L1424.4 1508.9 L1423.5 1504.4 L1426.7 1510.1 L1434.2 1508.9 L1425.4 1506.3 L1434.1 1506.2 L1431.9 1504.0 L1430.4 1509.1 L1435.9 1506.0 L1433.6 1502.7 L1435.1 1508.7 L1437.0 1504.8 L1431.3 1502.3 L1430.1 1502.1 L1441.5 1501.7 L1441.0 1502.5 L1436.2 1498.9 L1439.6 1499.0 L1439.9 1500.3 L1434.2 1502.7 L1436.2 1496.3 L1439.4 1500.2 L1440.9 1494.3 L1440.0 1492.4 L1439.9 1497.5 L1445.7 1501.6 L1441.1 1493.6 L1450.3 1496.4 L1440.2 1496.2 L1448.1 1491.1 L1445.0 1493.5 L1447.4 1491.0 L1443.7 1496.7 L1449.1 1491.6 L1445.0 1491.7 L1455.4 1491.8 L1450.1 1490.5 L1451.5 1498.4 L1450.6 1498.0 L1448.5 1489.7 L1458.8 1488.4 L1451.5 1496.0 L1452.4 1489.8 L1452.0 1494.4 L1458.6 1497.0 L1460.9 1494.6 L1458.4 1493.4 L1458.6 1490.2 L1456.8 1493.4 L1456.2 1488.8 L1466.4 1492.6 L1466.3 1490.3 L1465.1 1487.7 L1462.6 1488.2 L1463.5 1486.0 L1468.7 1484.1 L1472.5 1487.5 L1471.3 1488.3 L1467.4 1493.5 L1465.7 1487.6 L1474.4 1491.1 L1468.0 1482.7 L1467.6 1490.0 L1469.1 1489.3 L1468.2 1488.8 L1477.4 1483.2 L1476.3 1486.8 L1477.4 1491.8 L1471.6 1489.2 L1479.7 1486.1 L1474.5 1483.4 L1479.8 1485.5 L1481.6 1483.0 L1479.8 1490.2 L1477.5 1486.6 L1480.5 1489.4 L1478.8 1484.1 L1480.5 1485.2 L1478.8 1483.5 L1483.9 1484.6 L1486.0 1487.7 L1482.8 1481.5 L1488.6 1485.9 L1493.0 1484.6 L1493.4 1485.3 L1485.2 1480.6 L1487.6 1478.8 L1488.7 1486.4 L1492.3 1482.5 L1488.1 1477.5 L1489.4 1483.9 L1493.0 1477.1 L1495.0 1480.0 L1497.9 1478.5 L1495.9 1480.5 L1499.6 1477.7 L1498.7 1476.8 L1498.3 1477.9 L1499.1 1476.7 L1501.2 1479.8 L1501.0 1476.3 L1504.4 1476.2 L1504.8 1478.2 L1503.6 1480.0 L1501.8 1477.0 L1507.4 1477.0 L1506.0 1474.8 L1508.4 1474.6 L1504.8 1475.2 L1511.6 1475.6 L1507.2 1474.8 L1510.5 1474.5 L1509.7 1474.2 L1510.3 1475.7 L1511.8 1476.4 L1512.4 1472.9 L1516.1 1475.1 L1517.1 1475.6 L1515.1 1474.9 L1514.2 1473.3 L1519.4 1474.7 L1516.0 1471.0 L1517.5 1473.7 L1520.8 1470.8 L1517.2 1472.4 L1520.2 1472.4 L1518.9 1472.7 L1521.0 1469.8 L1522.7 1470.6 L1525.9 1472.6 L1525.9 1469.0 L1523.8 1470.1 L1524.4 1469.5 L1525.8 1471.6 L1526.6 1466.8 L1526.8 1472.2 L1527.8 1470.9 L1528.0 1471.2 L1531.9 1471.1 L1531.2 1470.9 L1530.3 1470.6 L1530.2 1466.8 L1532.1 1467.3 L1533.5 1464.7 L1532.7 1466.2 L1537.8 1469.1 L1535.1 1464.7 L1536.8 1469.1 L1535.7 1466.0 L1541.0 1466.1 L1538.8 1463.5 L1539.8 1463.2 L1543.5 1465.5 L1541.0 1463.3 L1541.1 1466.0 L1544.5 1465.6 L1542.4 1464.4 L1546.4 1463.9 L1546.1 1466.3 L1546.0 1465.0 L1546.5 1464.8 L1546.3 1467.6 L1550.7 1466.1 L1547.6 1466.6 L1553.3 1466.4 L1553.1 1466.0 L1555.8 1466.9 L1551.9 1466.3 L1554.9 1468.4 L1553.6 1464.0 L1558.7 1467.8 L1558.3 1467.0 L1558.1 1467.7 L1558.7 1465.5 L1559.2 1464.3 L1560.9 1463.2 L1560.5 1465.7 L1559.7 1463.8 L1560.3 1467.1 L1560.5 1465.4 L1562.2 1466.0 L1565.8 1468.0 L1567.1 1463.7 L1569.1 1466.2 L1567.5 1464.0 L1567.0 1466.0 L1566.4 1465.4 L1571.6 1466.2 L1571.9 1468.3 L1568.9 1465.6 L1574.2 1467.8 L1572.9 1462.8 L1575.0 1468.7 L1572.6 1467.9 L1574.5 1463.5 L1578.1 1465.3 L1574.9 1466.4 L1579.4 1468.2 L1577.1 1468.6 L1581.2 1468.4 L1579.2 1465.4 L1581.0 1466.0 L1583.0 1466.0 L1583.0 1233.0 L1581.4 1234.4 L1583.8 1232.0 L1583.1 1230.9 L1586.9 1235.8 L1589.0 1237.6 L1582.5 1235.2 L1588.9 1232.8 L1589.3 1234.1 L1587.2 1241.4 L1588.3 1237.5 L1586.6 1236.3 L1586.5 1240.8 L1587.1 1243.6 L1592.6 1240.4 L1594.8 1239.0 L1587.7 1243.9 L1590.7 1242.7 L1590.6 1245.4 L1593.8 1248.0 L1595.4 1248.9 L1596.1 1242.7 L1595.1 1243.2 L1593.9 1247.4 L1596.7 1249.9 L1601.2 1245.6 L1600.2 1251.6 L1597.6 1248.6 L1594.9 1247.7 L1604.1 1249.1 L1599.7 1254.0 L1603.5 1251.6 L1601.4 1247.8 L1603.1 1253.7 L1605.6 1249.5 L1606.4 1254.5 L1604.6 1255.6 L1601.1 1255.0 L1607.8 1251.1 L1603.8 1254.5 L1605.3 1258.6 L1605.5 1251.7 L1606.4 1252.9 L1610.5 1252.6 L1609.2 1252.2 L1609.2 1252.7 L1612.9 1259.0 L1610.4 1259.5 L1612.5 1256.8 L1609.7 1258.2 L1617.5 1259.8 L1614.2 1257.0 L1615.9 1258.3 L1619.3 1258.7 L1612.9 1262.3 L1614.7 1261.4 L1613.9 1261.7 L1622.8 1260.9 L1615.2 1261.1 L1615.9 1262.1 L1617.6 1264.1 L1626.1 1262.3 L1618.8 1261.8 L1621.4 1262.9 L1623.8 1268.6 L1624.1 1268.6 L1624.1 1268.7 L1626.2 1261.5 L1626.8 1264.9 L1627.1 1269.5 L1625.1 1265.6 L1630.1 1270.8 L1629.0 1268.9 L1626.4 1270.3 L1629.5 1264.5 L1628.3 1267.6 L1630.0 1268.6 L1632.3 1274.1 L1635.1 1273.8 L1628.7 1269.9 L1631.6 1267.8 L1634.3 1270.2 L1632.4 1275.5 L1636.0 1269.5 L1637.2 1277.8 L1641.0 1272.0 L1640.5 1273.6 L1635.6 1279.5 L1639.0 1278.2 L1641.6 1279.3 L1639.9 1274.8 L1640.2 1277.3 L1640.6 1275.2 L1639.6 1279.1 L1644.8 1279.5 L1640.3 1283.1 L1646.3 1279.3 L1641.7 1280.1 L1643.6 1282.4 L1647.8 1277.9 L1650.1 1280.3 L1649.2 1283.7 L1646.6 1282.1 L1645.8 1286.6 L1649.6 1288.5 L1646.3 1286.9 L1650.4 1283.7 L1651.4 1284.0 L1647.5 1288.1 L1652.9 1290.1 L1652.0 1285.8 L1650.6 1286.9 L1653.6 1291.4 L1654.7 1287.1 L1656.9 1292.1 L1658.3 1293.7 L1657.6 1292.4 L1657.6 1287.5 L1658.4 1291.1 L1660.2 1288.5 L1656.0 1293.7 L1659.4 1294.5 L1659.1 1297.9 L1663.0 1290.1 L1664.3 1298.1 L1663.6 1292.3 L1662.7 1298.2 L1662.6 1295.9 L1664.7 1300.0 L1662.9 1295.2 L1665.6 1295.6 L1661.8 1300.2 L1664.8 1297.8 L1669.1 1300.6 L1664.0 1297.9 L1668.5 1302.2 L1672.8 1298.1 L1667.5 1299.0 L1668.5 1301.3 L1670.2 1304.7 L1668.6 1300.6 L1673.7 1302.6 L1675.5 1304.8 L1671.5 1300.7 L1678.0 1300.6 L1676.4 1299.7 L1677.8 1302.6 L1673.5 1301.7 L1674.0 1303.2 L1680.5 1307.6 L1678.8 1302.1 L1683.7 1303.0 L1684.3 1304.9 L1684.7 1306.8 L1679.5 1306.0 L1683.7 1311.3 L1683.9 1306.8 L1686.0 1306.2 L1687.9 1311.0 L1686.7 1305.2 L1689.2 1308.4 L1688.5 1310.0 L1687.0 1305.8 L1692.8 1307.4 L1692.4 1309.8 L1689.0 1312.0 L1689.5 1311.1 L1691.8 1313.6 L1689.9 1307.6 L1696.6 1308.0 L1694.5 1311.7 L1695.4 1307.4 L1694.2 1312.4 L1696.3 1308.5 L1695.9 1308.6 L1703.2 1309.6 L1700.6 1308.6 L1704.8 1311.9 L1699.8 1310.7 L1701.0 1313.8 L1707.4 1312.3 L1708.5 1311.3 L1708.7 1309.1 L1709.4 1307.7 L1709.4 1309.1 L1706.8 1314.4 L1712.0 1307.8 L1707.5 1311.4 L1706.2 1308.1 L1706.6 1311.7 L1713.2 1312.4 L1714.2 1307.6 L1715.2 1307.7 L1710.2 1307.2 L1717.5 1308.9 L1716.4 1307.2 L1721.0 1307.4 L1719.6 1307.3 L1715.9 1310.4 L1720.8 1303.8 L1718.8 1311.6 L1721.2 1309.0 L1722.2 1309.6 L1720.7 1310.5 L1724.5 1305.4 L1726.7 1306.8 L1724.1 1306.4 L1724.6 1306.1 L1725.4 1306.3 L1723.3 1305.1 L1728.9 1304.3 L1730.4 1302.1 L1733.9 1305.9 L1727.3 1306.1 L1731.5 1304.2 L1731.9 1309.3 L1729.3 1306.7 L1730.7 1312.0 L1733.7 1308.3 L1738.4 1310.9 L1732.6 1306.5 L1734.1 1312.7 L1740.5 1307.9 L1733.4 1307.4 L1736.9 1307.2 L1737.5 1306.0 L1737.1 1312.6 L1738.4 1313.5 L1743.4 1311.8 L1744.0 1313.8 L1742.3 1313.3 L1741.3 1312.6 L1740.0 1310.6 L1742.5 1313.7 L1747.6 1308.6 L1743.5 1311.8 L1748.8 1314.9 L1750.3 1313.7 L1751.7 1313.4 L1750.0 1313.0 L1753.0 1314.0 L1754.0 1517.0 L1751.1 1514.7 L1755.2 1513.8 L1752.8 1512.4 L1757.3 1510.9 L1760.3 1517.5 L1756.9 1517.9 L1754.3 1516.7 L1761.2 1512.9 L1763.3 1515.8 L1762.2 1509.9 L1758.9 1511.3 L1758.9 1506.4 L1766.4 1508.5 L1764.6 1510.5 L1765.1 1508.3 L1760.6 1505.5 L1768.0 1510.3 L1766.3 1504.5 L1760.8 1508.6 L1766.5 1505.8 L1763.5 1502.8 L1764.7 1504.1 L1772.1 1503.6 L1764.5 1504.6 L1767.4 1497.7 L1763.8 1503.7 L1766.5 1498.7 L1773.1 1498.8 L1766.3 1497.8 L1765.9 1500.2 L1769.3 1495.8 L1776.9 1499.1 L1769.7 1498.9 L1776.1 1493.0 L1773.0 1502.4 L1773.0 1499.2 L1772.4 1499.2 L1773.7 1497.6 L1781.1 1499.7 L1777.0 1492.0 L1779.0 1499.0 L1778.5 1496.3 L1776.2 1498.4 L1777.5 1492.6 L1783.1 1495.6 L1786.5 1492.9 L1778.6 1496.2 L1786.2 1496.5 L1785.3 1489.2 L1788.9 1495.6 L1785.5 1490.3 L1782.8 1496.1 L1783.5 1496.4 L1788.9 1493.3 L1787.8 1486.7 L1789.7 1493.6 L1787.1 1492.0 L1792.4 1490.8 L1791.9 1495.3 L1792.1 1490.2 L1792.7 1484.6 L1798.5 1486.1 L1799.9 1491.4 L1793.1 1487.8 L1797.6 1492.9 L1798.6 1487.6 L1796.8 1493.2 L1801.9 1485.3 L1798.2 1486.3 L1802.9 1486.0 L1806.3 1485.6 L1798.3 1486.8 L1800.7 1489.4 L1809.3 1485.3 L1809.3 1482.9 L1802.8 1482.3 L1800.6 1487.9 L1808.3 1479.7 L1805.3 1487.4 L1810.7 1488.9 L1809.9 1487.2 L1811.3 1483.0 L1813.0 1478.3 L1811.1 1479.2 L1807.3 1485.0 L1815.7 1486.0 L1811.8 1485.0 L1812.3 1479.3 L1815.0 1482.0 L1815.9 1483.2 L1817.1 1478.4 L1817.8 1477.9 L1816.6 1480.7 L1819.8 1477.5 L1818.0 1480.1 L1822.7 1479.7 L1820.9 1477.6 L1819.3 1479.7 L1820.1 1478.1 L1824.9 1479.1 L1824.4 1475.1 L1825.0 1475.4 L1824.5 1474.4 L1829.1 1476.1 L1827.6 1476.2 L1828.1 1473.9 L1830.7 1477.3 L1831.3 1476.7 L1828.6 1477.3 L1830.5 1476.6 L1829.7 1472.1 L1832.1 1472.3 L1833.4 1472.4 L1834.0 1470.9 L1836.9 1472.8 L1832.6 1473.3 L1833.7 1471.3 L1836.1 1473.6 L1838.6 1469.1 L1836.9 1468.4 L1837.1 1472.4 L1838.0 1468.5 L1840.3 1467.2 L1840.8 1472.0 L1842.0 1469.0 L1840.9 1470.6 L1842.6 1469.0 L1843.6 1471.7 L1845.0 1465.6 L1843.4 1466.5 L1845.6 1466.2 L1849.4 1466.8 L1846.4 1468.8 L1846.4 1464.5 L1848.2 1464.8 L1850.5 1467.2 L1847.9 1466.7 L1852.2 1468.8 L1852.6 1468.2 L1850.9 1464.4 L1852.5 1467.3 L1855.2 1467.4 L1854.6 1468.5 L1855.7 1466.7 L1859.4 1465.8 L1856.4 1467.1 L1858.3 1462.9 L1857.9 1467.3 L1861.3 1467.2 L1859.9 1464.3 L1861.0 1466.2 L1861.8 1465.2 L1862.7 1464.4 L1862.1 1467.6 L1867.0 1466.9 L1865.0 1465.0 L1868.7 1468.2 L1870.4 1464.4 L1866.6 1465.5 L1868.1 1468.3 L1869.8 1464.1 L1868.9 1466.9 L1873.5 1467.6 L1871.9 1468.1 L1872.0 1465.8 L1871.5 1465.6 L1873.8 1464.0 L1877.8 1465.8 L1878.0 1466.1 L1876.5 1463.7 L1876.6 1467.2 L1879.0 1467.9 L1881.6 1463.8 L1879.0 1465.3 L1882.8 1467.6 L1879.5 1465.5 L1885.7 1464.3 L1883.6 1469.0 L1885.0 1465.0 L1885.0 1465.0 L1885.8 1464.7 L1887.6 1466.4 L1884.8 1465.7 L1890.7 1465.6 L1889.8 1468.8 L1888.2 1467.8 L1890.2 1468.0 L1891.3 1467.4 L1893.3 1467.5 L1891.3 1468.1 L1895.1 1463.8 L1896.5 1468.2 L1898.7 1464.7 L1895.2 1468.6 L1895.6 1463.7 L1897.9 1466.4 L1896.5 1465.3 L1900.7 1463.0 L1903.6 1465.6 L1903.0 1465.0 L1902.3 1465.8 L1902.1 1466.0 L1905.8 1466.9 L1905.3 1463.5 L1905.5 1467.5 L1903.5 1465.5 L1907.0 1466.4 L1907.4 1469.1 L1907.1 1466.5 L1910.6 1463.2 L1909.3 1464.3 L1911.6 1466.2 L1910.6 1464.5 L1913.9 1466.3 L1914.7 1468.7 L1915.0 1466.4 L1915.0 1466.9 L1914.6 1464.0 L1915.1 1465.8 L1915.9 1465.1 L1917.6 1465.3 L1919.2 1466.0 L1918.6 1465.5 L1919.5 1466.5 L1920.5 1464.7 L1924.0 1463.7 L1920.2 1466.9 L1924.0 1466.0 L1926.7 1466.0 L1926.7 1223.0 L1925.1 1226.5 L1925.1 1224.2 L1932.7 1226.6 L1926.9 1229.3 L1928.9 1230.0 L1925.7 1227.0 L1927.7 1228.4 L1931.1 1228.4 L1935.3 1231.1 L1930.4 1226.9 L1933.2 1229.8 L1935.0 1230.3 L1930.6 1229.9 L1937.0 1234.1 L1934.4 1229.4 L1934.5 1229.2 L1938.1 1237.0 L1932.8 1234.6 L1936.5 1234.5 L1935.5 1235.5 L1938.7 1238.8 L1934.5 1234.2 L1935.2 1235.5 L1941.5 1236.1 L1938.6 1240.2 L1938.2 1238.7 L1943.3 1239.1 L1941.0 1243.3 L1941.0 1237.0 L1940.3 1244.2 L1945.6 1245.8 L1944.3 1247.0 L1948.2 1245.4 L1948.0 1240.5 L1946.0 1245.1 L1948.2 1240.8 L1947.7 1243.0 L1947.6 1249.7 L1944.7 1248.5 L1949.8 1245.5 L1949.5 1251.6 L1948.7 1245.1 L1950.5 1251.4 L1954.6 1247.9 L1951.9 1251.0 L1955.8 1249.7 L1957.9 1250.8 L1956.2 1253.9 L1955.8 1253.1 L1958.4 1251.9 L1952.5 1256.0 L1954.6 1248.8 L1957.9 1252.7 L1960.0 1253.7 L1959.5 1253.5 L1955.3 1254.7 L1957.3 1255.7 L1956.1 1254.6 L1956.0 1255.5 L1964.3 1260.5 L1958.5 1255.2 L1960.2 1262.0 L1964.4 1255.6 L1962.1 1260.9 L1961.7 1256.2 L1968.3 1260.6 L1962.0 1262.9 L1964.5 1262.8 L1967.8 1260.3 L1971.7 1261.5 L1970.2 1266.2 L1971.9 1263.4 L1969.3 1264.1 L1970.9 1266.1 L1968.8 1263.3 L1972.1 1264.6 L1973.3 1268.9 L1971.0 1266.4 L1970.3 1267.1 L1972.8 1268.9 L1977.3 1269.9 L1976.8 1265.9 L1978.2 1272.0 L1979.6 1271.7 L1978.7 1270.5 L1979.0 1274.0 L1980.0 1273.1 L1981.5 1275.5 L1980.7 1268.8 L1977.2 1271.4 L1981.7 1271.0 L1984.7 1276.0 L1984.3 1277.8 L1983.7 1278.3 L1981.1 1273.0 L1981.7 1280.0 L1983.0 1277.3 L1980.4 1276.0 L1985.7 1274.3 L1989.5 1277.4 L1986.1 1274.5 L1989.8 1283.1 L1987.0 1277.9 L1990.6 1278.0 L1986.8 1285.1 L1988.3 1280.3 L1988.4 1282.6 L1988.5 1284.5 L1988.6 1280.7 L1995.3 1285.6 L1991.1 1280.4 L1989.5 1282.3 L1996.5 1283.4 L1991.4 1283.3 L1995.7 1287.1 L1997.6 1284.2 L1996.6 1291.0 L1998.2 1286.0 L1999.9 1292.3 L1998.2 1291.8 L1998.2 1294.5 L1995.0 1293.3 L1997.6 1292.5 L2001.3 1290.8 L2000.1 1292.8 L2004.3 1293.5 L2004.4 1293.1 L1998.9 1295.8 L2007.3 1291.6 L2003.6 1290.1 L2001.4 1294.7 L2002.4 1292.9 L2008.4 1300.0 L2007.2 1291.6 L2009.6 1294.0 L2006.5 1298.6 L2012.8 1296.7 L2011.3 1295.9 L2014.0 1296.4 L2010.0 1296.4 L2015.4 1296.1 L2014.9 1296.1 L2009.8 1298.7 L2012.1 1300.1 L2019.3 1299.2 L2015.3 1302.1 L2017.6 1299.6 L2017.2 1300.0 L2016.6 1304.2 L2021.7 1306.2 L2018.5 1306.9 L2023.6 1305.4 L2020.3 1308.1 L2018.9 1308.7 L2025.7 1305.7 L2019.5 1302.0 L2023.1 1301.3 L2023.9 1305.2 L2025.6 1309.6 L2023.0 1303.3 L2028.6 1308.9 L2030.3 1309.5 L2029.7 1309.2 L2028.1 1307.0 L2031.3 1309.2 L2030.3 1307.4 L2027.7 1307.0 L2033.3 1313.6 L2035.5 1309.1 L2033.6 1314.8 L2032.9 1313.4 L2031.9 1316.4 L2032.1 1311.7 L2035.6 1311.3 L2034.7 1316.1 L2037.7 1311.7 L2038.2 1307.9 L2040.7 1311.7 L2043.2 1313.1 L2038.7 1307.9 L2042.6 1311.1 L2039.4 1309.6 L2042.8 1313.3 L2047.7 1312.9 L2046.1 1313.5 L2047.4 1315.4 L2041.7 1313.9 L2050.2 1310.5 L2049.1 1317.1 L2049.0 1310.0 L2051.6 1311.8 L2047.9 1310.9 L2050.2 1310.5 L2049.1 1314.1 L2054.1 1309.4 L2053.8 1314.6 L2054.0 1310.8 L2053.8 1309.2 L2055.9 1317.4 L2059.6 1313.3 L2054.7 1311.5 L2058.5 1310.9 L2056.6 1314.1 L2060.2 1317.2 L2057.1 1315.7 L2061.9 1314.1 L2063.6 1310.0 L2065.3 1310.5 L2064.2 1309.7 L2060.7 1311.1 L2067.0 1316.6 L2067.9 1314.9 L2065.5 1314.7 L2065.2 1312.8 L2067.8 1318.1 L2071.5 1309.9 L2068.2 1312.8 L2072.7 1314.8 L2072.2 1316.1 L2072.8 1314.1 L2076.1 1310.8 L2078.0 1316.1 L2075.3 1313.6 L2074.0 1316.6 L2072.5 1313.5 L2078.9 1316.5 L2077.7 1312.7 L2083.3 1315.5 L2077.4 1314.1 L2078.0 1314.6 L2081.0 1317.9 L2080.7 1315.3 L2085.7 1317.9 L2085.0 1311.3 L2082.5 1317.6 L2086.2 1310.2 L2084.7 1319.3 L2083.8 1315.8 L2084.6 1311.8 L2085.0 1314.5 L2086.6 1318.5 L2091.0 1316.5 L2091.0 1315.0 L2094.0 1316.0 L2095.0 1530.0 L2097.9 1531.0 L2090.3 1526.6 L2091.1 1529.4 L2097.3 1531.5 L2092.1 1529.2 L2097.3 1522.0 L2103.5 1525.1 L2094.6 1526.4 L2093.9 1526.2 L2096.5 1523.4 L2099.4 1525.7 L2096.9 1526.0 L2098.9 1525.5 L2101.2 1518.3 L2099.8 1514.5 L2103.8 1523.1 L2104.2 1514.5 L2098.0 1514.6 L2105.2 1521.0 L2104.1 1515.0 L2103.7 1516.2 L2103.0 1511.1 L2107.9 1510.3 L2104.2 1519.1 L2107.6 1514.7 L2108.6 1514.0 L2101.0 1508.6 L2110.6 1512.0 L2107.3 1515.6 L2109.0 1514.2 L2109.9 1510.8 L2107.4 1512.1 L2107.8 1502.7 L2111.1 1508.5 L2106.1 1508.2 L2107.3 1508.0 L2112.5 1506.4 L2108.1 1500.6 L2109.1 1500.3 L2114.5 1507.9 L2108.2 1502.4 L2114.3 1507.4 L2119.0 1502.6 L2117.4 1499.1 L2115.1 1501.2 L2117.9 1505.3 L2115.7 1503.9 L2115.1 1504.3 L2123.0 1505.9 L2115.5 1503.2 L2117.2 1504.0 L2124.6 1498.6 L2122.1 1495.5 L2122.6 1495.7 L2124.1 1493.8 L2121.8 1504.1 L2128.4 1496.9 L2130.9 1495.3 L2124.1 1500.5 L2130.0 1503.8 L2130.2 1500.1 L2126.9 1499.3 L2126.9 1498.3 L2130.7 1498.0 L2136.1 1498.2 L2136.3 1494.2 L2138.2 1494.6 L2128.8 1496.2 L2135.9 1496.0 L2138.4 1491.6 L2139.0 1497.7 L2132.3 1493.6 L2141.0 1497.5 L2134.9 1492.3 L2143.8 1491.1 L2141.2 1492.3 L2138.3 1495.1 L2143.2 1489.8 L2146.3 1494.6 L2145.9 1495.9 L2145.0 1492.5 L2141.5 1493.1 L2145.9 1491.8 L2141.0 1489.8 L2141.5 1489.4 L2145.9 1485.1 L2152.3 1491.4 L2150.1 1487.7 L2148.8 1494.2 L2149.5 1487.3 L2151.8 1494.6 L2146.6 1487.2 L2154.4 1490.6 L2158.6 1485.6 L2155.0 1490.1 L2156.1 1489.3 L2153.8 1488.2 L2155.5 1483.9 L2157.4 1489.0 L2160.4 1489.1 L2160.4 1486.1 L2160.0 1485.0 L2160.6 1484.5 L2160.8 1484.4 L2160.0 1482.0 L2161.6 1484.6 L2162.8 1485.1 L2164.9 1483.5 L2165.6 1483.7 L2167.5 1483.3 L2167.5 1484.2 L2166.7 1479.4 L2168.1 1478.9 L2166.3 1481.7 L2171.2 1480.8 L2168.7 1482.1 L2172.7 1480.6 L2173.1 1478.5 L2174.0 1477.2 L2173.5 1481.6 L2175.4 1477.4 L2173.7 1477.1 L2172.7 1478.3 L2178.5 1476.7 L2179.9 1475.6 L2178.4 1479.2 L2179.4 1476.3 L2176.4 1475.1 L2183.0 1474.7 L2182.4 1474.9 L2182.3 1476.3 L2184.0 1474.4 L2181.2 1476.6 L2184.8 1471.8 L2186.9 1471.7 L2185.5 1475.0 L2188.1 1471.8 L2188.5 1470.5 L2186.1 1471.9 L2185.5 1470.3 L2190.0 1468.6 L2188.9 1469.0 L2188.0 1471.6 L2192.0 1468.1 L2194.9 1469.6 L2191.8 1467.8 L2194.8 1467.3 L2192.6 1469.1 L2195.4 1466.9 L2198.3 1468.2 L2197.0 1468.6 L2197.4 1465.0 L2199.4 1468.0 L2196.7 1465.1 L2199.0 1468.4 L2200.2 1467.9 L2198.7 1468.0 L2199.0 1465.2 L2202.1 1467.5 L2204.9 1464.0 L2205.8 1468.5 L2206.2 1467.0 L2204.6 1466.9 L2208.8 1464.6 L2208.7 1467.9 L2209.3 1467.5 L2207.3 1465.2 L2210.7 1468.0 L2211.8 1465.0 L2209.2 1464.5 L2211.5 1467.7 L2215.7 1466.3 L2216.2 1465.3 L2216.9 1466.8 L2215.4 1465.4 L2214.9 1466.6 L2215.7 1463.7 L2217.0 1464.4 L2215.5 1466.6 L2218.5 1464.1 L2219.0 1463.2 L2221.5 1463.0 L2221.7 1469.1 L2223.2 1468.5 L2222.8 1466.9 L2223.3 1469.0 L2226.6 1465.2 L2225.9 1462.8 L2227.4 1464.3 L2228.2 1466.1 L2227.8 1466.7 L2230.0 1464.8 L2231.1 1464.3 L2229.0 1467.6 L2233.2 1466.5 L2234.3 1465.3 L2235.9 1464.7 L2232.9 1466.4 L2236.3 1468.4 L2235.7 1466.8 L2236.2 1465.1 L2239.7 1465.8 L2237.6 1465.3 L2239.9 1468.6 L2240.3 1465.9 L2242.8 1467.2 L2240.3 1464.8 L2240.7 1466.5 L2243.7 1466.7 L2241.3 1465.4 L2247.2 1466.1 L2246.8 1466.8 L2247.1 1468.0 L2248.5 1465.6 L2246.2 1463.8 L2249.1 1468.4 L2251.7 1465.5 L2250.4 1465.2 L2251.3 1467.8 L2253.1 1463.9 L2252.8 1467.2 L2253.8 1468.2 L2256.2 1465.9 L2254.3 1466.2 L2256.3 1467.2 L2258.7 1465.2 L2255.1 1465.2 L2259.7 1463.9 L2257.2 1468.7 L2260.8 1465.3 L2262.2 1464.3 L2261.5 1464.8 L2262.0 1466.0" stroke="#0000ff" stroke-width="6.5"/>
<path d="M379.0 1466.0 L379.8 1464.9 L380.6 1463.9 L381.4 1466.9 L382.2 1463.4 L383.0 1466.2 L383.8 1465.2 L384.6 1463.3 L385.4 1466.0 L386.2 1463.2 L387.0 1465.6 L387.8 1463.4 L388.6 1463.5 L389.4 1465.5 L390.2 1468.0 L391.0 1463.7 L391.8 1464.3 L392.6 1466.8 L393.4 1468.7 L394.2 1466.5 L395.0 1465.4 L395.8 1468.9 L396.6 1463.3 L397.4 1468.2 L398.2 1464.7 L399.0 1463.9 L399.8 1463.7 L400.6 1464.9 L401.4 1467.9 L402.2 1464.1 L403.0 1466.5 L403.8 1466.8 L404.6 1465.2 L405.4 1466.3 L406.2 1463.4 L407.0 1463.4 L407.8 1464.2 L408.6 1467.1 L409.4 1465.6 L410.2 1464.9 L411.0 1466.5 L411.8 1465.7 L412.6 1464.8 L413.4 1467.8 L414.2 1467.2 L415.0 1464.5 L415.8 1466.4 L416.6 1466.2 L417.4 1468.3 L418.2 1467.4 L419.0 1464.7 L419.8 1468.9 L420.6 1463.7 L421.4 1465.5 L422.2 1467.5 L423.0 1463.9 L423.8 1465.9 L424.6 1463.2 L425.4 1467.0 L426.2 1467.6 L427.0 1466.4 L427.8 1468.3 L428.6 1464.9 L429.4 1467.2 L430.2 1466.6 L431.0 1466.5 L431.8 1465.7 L432.6 1468.0 L433.4 1468.7 L434.2 1465.8 L435.0 1467.0 L435.8 1463.4 L436.6 1467.2 L437.4 1466.9 L438.2 1469.0 L439.0 1467.9 L439.8 1464.7 L440.6 1465.3 L441.4 1467.0 L442.2 1463.1 L443.0 1465.8 L443.8 1464.0 L444.6 1463.7 L445.4 1463.4 L446.2 1467.6 L447.0 1463.8 L447.8 1464.5 L448.6 1465.3 L449.4 1468.2 L450.2 1463.5 L451.0 1465.7 L451.8 1466.3 L452.6 1468.3 L453.4 1467.9 L454.2 1468.2 L455.0 1464.7 L455.8 1465.5 L456.6 1465.2 L457.4 1468.3 L458.2 1468.7 L459.0 1463.9 L459.8 1464.1 L460.6 1464.4 L461.4 1464.4 L462.2 1465.9 L463.0 1466.5 L463.8 1464.6 L464.6 1463.0 L465.4 1465.5 L466.2 1465.2 L467.0 1466.4 L467.8 1468.7 L468.6 1467.1 L469.4 1466.1 L470.2 1466.7 L471.0 1467.1 L471.8 1463.3 L472.6 1468.4 L473.4 1467.7 L474.2 1468.2 L475.0 1467.8 L475.8 1465.4 L476.6 1465.4 L477.4 1463.6 L478.2 1466.8 L479.0 1463.4 L479.8 1463.4 L480.6 1464.3 L481.4 1464.0 L482.2 1465.0 L483.0 1463.3 L483.8 1463.0 L484.6 1463.9 L485.4 1463.6 L486.2 1465.2 L487.0 1463.2 L487.8 1468.2 L488.6 1466.7 L489.4 1463.9 L490.2 1464.5 L491.0 1465.1 L491.8 1465.2 L492.6 1463.7 L493.4 1468.1 L494.2 1469.0 L495.0 1465.8 L495.8 1465.9 L496.6 1463.5 L497.4 1463.6 L498.2 1465.1 L499.0 1464.6 L499.8 1468.0 L500.6 1464.0 L501.4 1463.1 L502.2 1468.7 L503.0 1466.2 L503.8 1463.9 L504.6 1466.3 L505.4 1463.2 L506.2 1466.2 L507.0 1468.9 L507.8 1468.2 L508.6 1467.2 L509.4 1464.6 L510.2 1465.2 L511.0 1464.0 L511.8 1467.6 L512.6 1466.2 L513.4 1467.7 L514.2 1465.0 L515.0 1464.3 L515.8 1467.9 L516.6 1468.9 L517.4 1468.1 L518.2 1467.8 L519.0 1467.9 L519.8 1467.4 L520.6 1464.4 L521.4 1466.1 L522.2 1465.1 L523.0 1463.2 L523.8 1463.2 L524.6 1464.7 L525.4 1464.6 L526.2 1467.2 L527.0 1468.7 L527.8 1465.7 L528.6 1468.6 L529.4 1468.9 L530.2 1468.7 L531.0 1465.2 L531.8 1464.3 L532.6 1464.4 L533.4 1464.2 L534.2 1464.2 L535.0 1466.7 L535.8 1468.4 L536.6 1468.0 L537.4 1465.9 L538.2 1466.9 L539.0 1467.8 L539.8 1463.5 L540.6 1467.0 L541.4 1468.5 L542.2 1467.7 L543.0 1467.5 L543.8 1465.9 L544.6 1464.1 L545.4 1467.7 L546.2 1465.0 L547.0 1467.8 L547.8 1468.8 L548.6 1465.4 L549.4 1465.4 L550.2 1468.7 L551.0 1466.0 L551.0 620.0 L551.0 585.0 L551.0 584.2 L551.1 583.4 L551.1 582.6 L551.2 581.8 L551.2 581.0 L551.2 580.2 L551.3 579.4 L551.3 578.5 L551.4 577.8 L551.4 577.0 L551.5 576.3 L551.5 575.5 L551.5 574.6 L551.5 573.8 L551.6 573.0 L551.5 572.2 L551.8 571.3 L551.8 570.5 L551.6 569.8 L551.9 569.0 L551.9 568.3 L551.9 567.4 L551.8 566.6 L551.8 565.7 L551.9 565.0 L552.1 564.0 L552.0 563.4 L552.1 562.7 L551.9 561.8 L552.2 560.8 L552.0 560.3 L552.0 559.4 L552.2 558.4 L552.1 557.8 L552.6 556.9 L552.7 556.0 L552.5 555.8 L552.8 554.5 L552.8 554.1 L552.5 553.0 L552.6 552.3 L552.6 551.3 L553.0 550.4 L552.7 549.6 L553.0 549.3 L553.3 548.1 L553.1 547.3 L552.6 546.6 L553.2 545.4 L552.8 545.1 L552.9 544.5 L553.1 543.6 L553.8 542.6 L552.9 541.9 L553.4 541.0 L552.9 540.1 L553.8 539.3 L554.4 538.4 L553.7 538.0 L553.8 536.7 L554.2 536.4 L554.5 534.9 L554.0 535.4 L554.5 533.4 L554.0 532.0 L554.6 532.1 L553.5 531.7 L554.8 530.3 L554.9 528.6 L554.9 528.5 L554.9 527.7 L554.3 528.0 L555.8 525.9 L555.5 526.1 L555.1 525.8 L555.4 524.4 L555.3 523.4 L555.0 523.2 L555.0 522.9 L556.0 521.8 L556.5 520.0 L556.5 519.1 L554.2 517.7 L554.9 517.6 L557.3 517.8 L554.3 516.5 L556.7 513.8 L554.9 514.2 L558.2 513.2 L557.3 511.5 L555.5 510.3 L556.1 512.4 L557.7 510.7 L557.4 508.7 L558.4 509.9 L558.4 507.2 L556.7 504.6 L558.4 508.0 L556.8 506.0 L557.5 505.2 L560.7 503.5 L555.8 502.1 L561.1 502.0 L558.3 503.2 L559.7 500.9 L557.2 500.0 L558.5 499.2 L560.7 498.8 L560.0 498.6 L562.2 497.2 L562.0 498.8 L558.6 495.0 L560.2 491.6 L565.6 491.4 L561.7 496.1 L566.3 496.7 L561.1 488.7 L564.6 490.4 L561.0 487.0 L566.5 485.6 L563.1 488.8 L567.4 485.0 L568.1 483.2 L569.5 484.2 L564.8 481.7 L569.6 486.0 L565.8 486.4 L568.5 482.3 L564.8 480.1 L566.4 478.3 L573.0 482.1 L569.2 475.9 L565.6 479.7 L574.6 481.9 L570.6 484.4 L570.9 480.2 L572.9 482.8 L577.1 476.4 L569.3 479.4 L571.2 472.1 L569.4 471.7 L578.0 476.8 L574.1 476.1 L572.9 478.0 L579.6 472.8 L575.4 473.3 L574.2 466.5 L575.2 475.2 L572.7 470.7 L580.3 471.8 L579.5 473.8 L583.7 465.4 L577.9 467.2 L584.4 465.3 L579.1 469.7 L582.6 464.1 L578.1 463.0 L578.8 463.4 L585.5 467.5 L576.7 462.2 L581.0 456.5 L585.4 459.5 L587.8 461.3 L583.8 460.0 L583.4 463.2 L584.0 460.6 L587.5 455.3 L586.3 457.2 L590.8 460.6 L586.0 450.6 L586.4 461.1 L585.5 457.3 L583.8 451.2 L586.1 455.3 L592.9 454.1 L591.4 450.9 L593.9 450.6 L591.2 454.2 L593.6 454.6 L596.0 449.0 L595.0 444.0 L597.3 446.0 L587.9 446.0 L598.7 448.6 L589.1 447.9 L591.2 441.4 L598.0 445.8 L599.3 448.4 L593.1 446.9 L595.6 439.2 L595.7 448.1 L594.8 446.0 L593.0 443.3 L598.5 441.9 L599.9 437.3 L598.6 442.7 L604.2 437.3 L601.2 440.1 L601.2 437.5 L602.3 437.3 L599.2 437.7 L603.5 430.6 L595.2 436.0 L596.2 431.7 L598.6 435.1 L600.8 432.5 L606.0 434.8 L598.4 425.9 L603.4 434.8 L602.4 431.4 L598.6 428.6 L606.9 421.0 L609.7 426.6 L603.4 423.7 L597.6 425.3 L609.7 423.5 L608.6 420.8 L608.9 417.0 L605.4 428.1 L606.9 422.4 L603.8 415.1 L605.0 412.3 L607.0 412.6 L602.3 415.9 L607.4 415.3 L610.3 414.3 L605.8 420.4 L607.9 416.9 L606.5 408.3 L610.7 413.9 L604.5 409.6 L609.9 415.6 L614.9 410.9 L606.0 410.7 L605.8 403.6 L603.9 409.3 L610.7 410.9 L609.0 400.2 L615.1 406.5 L609.3 400.8 L611.6 409.0 L617.2 401.1 L615.7 403.7 L609.2 404.1 L614.9 406.9 L612.9 394.4 L615.0 404.7 L611.3 405.5 L615.0 404.7 L614.7 394.3 L618.5 395.7 L617.0 400.6 L612.5 397.0 L621.1 392.8 L613.9 395.5 L619.5 392.5 L619.1 393.1 L615.6 392.6 L622.1 386.3 L623.5 389.9 L614.6 395.2 L620.8 387.3 L624.3 388.9 L614.5 390.9 L616.8 390.0 L622.0 385.5 L617.2 387.7 L624.6 388.8 L621.8 389.8 L622.1 378.7 L614.8 384.3 L619.3 381.2 L624.8 378.1 L619.4 381.7 L628.2 379.9 L623.6 373.8 L628.2 378.7 L623.7 376.9 L622.5 382.4 L627.9 371.3 L622.8 378.2 L618.5 368.8 L623.1 369.1 L623.5 375.8 L624.5 370.7 L620.3 365.4 L631.7 370.6 L621.9 369.4 L632.1 366.1 L625.8 371.7 L621.5 366.8 L629.1 372.0 L626.2 358.8 L627.9 358.0 L624.7 368.4 L624.9 365.8 L633.2 365.0 L628.1 358.2 L631.5 361.9 L627.4 359.4 L632.9 358.5 L635.7 357.8 L632.6 359.3 L627.5 356.8 L624.4 357.9 L627.4 357.0 L628.1 349.6 L634.5 348.8 L635.4 357.0 L629.9 358.5 L628.3 355.4 L634.2 356.6 L632.7 353.6 L635.0 347.5 L630.8 353.4 L638.0 347.7 L634.5 352.1 L630.7 341.3 L640.2 349.9 L637.0 340.6 L640.8 340.9 L635.2 344.8 L636.8 345.0 L630.3 338.6 L631.9 346.1 L630.7 342.6 L637.9 336.3 L642.9 343.3 L634.0 334.6 L636.0 340.0 L639.3 339.4 L636.0 334.0 L640.8 340.8 L639.2 335.3 L642.2 339.2 L641.3 336.9 L634.6 330.6 L642.3 332.7 L637.0 329.6 L646.2 333.2 L640.9 326.8 L641.2 333.1 L646.2 326.9 L639.4 325.7 L639.8 328.8 L650.6 325.9 L645.8 329.5 L646.7 330.6 L645.8 323.8 L647.9 319.1 L649.8 319.6 L649.4 326.4 L646.5 321.2 L652.8 317.6 L646.7 318.6 L644.2 319.4 L648.6 321.7 L654.6 315.7 L647.7 317.7 L657.4 315.5 L653.5 318.7 L659.1 314.4 L657.2 316.7 L646.9 319.1 L647.6 308.5 L657.4 319.0 L655.3 319.2 L657.4 307.5 L658.0 317.6 L652.5 312.6 L651.8 313.6 L656.7 311.9 L662.5 304.6 L656.3 307.4 L664.8 308.9 L664.0 311.5 L653.7 304.3 L657.8 311.2 L656.2 302.5 L658.3 300.2 L656.9 305.6 L661.2 302.3 L663.1 307.6 L664.4 295.6 L665.8 305.7 L668.1 303.8 L662.4 301.1 L663.3 300.2 L670.8 300.1 L671.3 301.0 L668.0 291.7 L672.2 298.7 L664.6 300.8 L673.7 303.0 L676.7 297.8 L673.2 292.4 L674.7 298.2 L677.4 297.4 L676.8 305.7 L680.2 296.5 L673.3 301.5 L679.2 306.2 L674.9 308.3 L681.6 306.8 L683.0 298.1 L678.1 305.4 L676.6 307.4 L680.7 303.6 L684.2 300.9 L687.7 297.9 L683.1 299.2 L679.6 302.8 L678.5 310.0 L675.3 300.8 L691.1 299.0 L689.4 304.7 L679.7 310.6 L686.4 315.6 L677.9 300.5 L689.5 299.2 L693.1 313.8 L700.4 310.1 L690.8 318.6 L701.9 306.6 L687.4 299.5 L700.6 308.3 L695.5 310.3 L685.4 312.8 L703.1 303.0 L697.1 313.7 L707.9 310.6 L697.5 309.9 L696.0 312.9 L694.0 306.5 L703.3 319.9 L690.4 311.8 L706.5 308.3 L706.7 315.9 L700.7 307.3 L706.8 298.1 L704.2 319.8 L704.6 310.5 L700.0 320.5 L696.4 316.7 L705.7 300.8 L712.9 310.5 L705.3 314.3 L709.1 323.5 L709.5 313.1 L708.2 316.3 L717.4 326.6 L706.3 314.6 L705.7 312.1 L716.3 328.6 L710.0 326.0 L714.4 319.0 L710.9 311.6 L714.0 321.1 L705.0 324.5 L705.8 325.8 L718.9 326.8 L720.3 325.5 L716.0 319.2 L720.5 319.8 L716.4 332.4 L713.6 328.8 L714.2 327.3 L717.6 327.4 L719.3 330.7 L719.5 330.0 L720.0 1466.0 L723.6 1466.3 L721.7 1467.5 L724.8 1465.1 L722.0 1468.3 L722.7 1468.5 L726.0 1465.2 L724.8 1463.8 L728.9 1465.7 L728.3 1464.3 L729.6 1464.0 L728.5 1464.0 L728.8 1468.1 L729.5 1465.0 L732.0 1465.6 L733.2 1466.2 L733.7 1465.6 L734.8 1467.4 L735.0 1466.1 L733.6 1464.1 L735.9 1463.5 L736.2 1465.6 L738.4 1464.4 L740.6 1464.3 L739.8 1465.4 L742.8 1465.0 L741.2 1466.9 L742.7 1466.2 L743.6 1463.4 L744.4 1463.9 L743.6 1468.3 L745.7 1466.5 L746.4 1468.5 L745.0 1466.8 L747.3 1466.4 L747.8 1464.4 L748.2 1467.6 L746.8 1465.9 L748.5 1464.1 L750.9 1466.3 L752.4 1464.0 L752.5 1464.3 L754.2 1468.2 L756.9 1467.5 L756.7 1468.4 L756.2 1466.1 L759.6 1465.6 L757.6 1466.0 L759.2 1464.0 L758.1 1466.0 L761.1 1464.5 L762.4 1465.5 L762.1 1467.6 L760.1 1466.0 L762.8 1465.2 L764.4 1465.2 L765.6 1463.6 L764.3 1467.9 L765.1 1467.2 L769.8 1467.5 L771.0 1466.4 L768.9 1467.4 L767.0 1466.0 L772.0 1464.8 L770.0 1466.4 L772.3 1463.8 L771.5 1463.9 L773.0 1467.6 L775.3 1465.0 L775.3 1463.6 L775.1 1466.5 L774.7 1464.7 L776.8 1466.3 L778.9 1468.8 L779.1 1467.2 L781.7 1463.9 L781.7 1467.0 L781.2 1467.3 L783.8 1467.8 L784.1 1467.6 L783.9 1463.1 L786.0 1465.8 L785.2 1466.6 L787.5 1463.1 L785.2 1467.0 L787.5 1465.0 L789.4 1466.9 L791.8 1466.4 L791.2 1464.2 L789.0 1466.0 L790.0 1466.5 L792.2 1465.3 L793.8 1464.1 L792.2 1467.2 L795.5 1463.7 L796.6 1467.9 L799.0 1464.3 L797.1 1463.5 L797.6 1463.5 L797.3 1466.7 L799.2 1464.8 L800.4 1466.5 L801.4 1463.4 L802.8 1468.4 L801.7 1466.5 L802.4 1467.3 L807.4 1465.0 L805.3 1464.9 L804.6 1468.3 L809.2 1466.8 L807.2 1467.5 L808.6 1467.1 L806.0 1468.5 L808.7 1468.9 L809.6 1467.8 L809.3 1468.8 L808.6 1470.7 L813.7 1471.0 L811.9 1470.9 L813.2 1470.9 L814.7 1473.2 L815.9 1474.5 L813.5 1475.3 L815.1 1475.1 L815.3 1473.7 L816.4 1477.9 L817.0 1475.2 L814.8 1476.7 L818.7 1476.4 L819.3 1480.2 L819.6 1477.8 L818.3 1477.4 L818.7 1479.2 L822.6 1480.3 L820.7 1479.8 L823.5 1479.2 L822.4 1484.2 L825.1 1484.4 L822.5 1485.6 L824.4 1486.7 L825.3 1486.4 L826.7 1486.9 L826.5 1485.5 L827.1 1487.8 L826.0 1487.0 L827.0 1485.8 L827.2 1489.7 L831.2 1486.1 L830.3 1488.4 L831.3 1486.6 L832.0 1488.8 L834.5 1490.3 L833.2 1490.4 L833.6 1493.3 L834.9 1492.0 L835.3 1490.2 L836.8 1493.4 L837.2 1489.6 L838.1 1492.0 L838.4 1490.8 L840.6 1492.0 L840.8 1491.6 L839.6 1493.0 L840.7 1492.4 L843.0 1493.7 L842.0 1497.6 L843.9 1496.9 L845.6 1496.9 L845.6 1498.1 L843.0 1496.9 L847.2 1495.6 L846.7 1497.4 L845.4 1497.2 L849.3 1496.3 L847.1 1499.6 L852.0 1500.5 L848.6 1497.7 L850.5 1499.6 L853.8 1499.2 L854.0 1500.4 L850.9 1501.2 L856.5 1502.0 L852.7 1499.9 L856.3 1500.7 L854.1 1502.7 L856.9 1500.6 L856.1 1503.6 L856.2 1502.8 L858.1 1506.4 L857.3 1505.7 L860.0 1506.6 L863.1 1504.5 L862.3 1502.9 L861.7 1507.1 L861.7 1505.1 L864.4 1503.9 L864.5 1506.0 L862.6 1506.2 L865.8 1507.9 L866.9 1507.9 L865.3 1506.2 L868.8 1506.0 L866.8 1506.9 L868.0 1507.4 L868.3 1508.0 L871.7 1512.2 L869.5 1510.7 L874.7 1512.0 L874.5 1511.1 L876.3 1509.8 L873.1 1513.3 L876.1 1509.2 L876.1 1514.4 L875.5 1513.3 L876.1 1513.6 L880.6 1512.3 L878.5 1513.3 L880.3 1514.4 L878.1 1513.1 L878.6 1515.6 L881.7 1515.2 L884.9 1514.5 L880.6 1516.1 L885.9 1517.2 L885.7 1518.7 L887.1 1516.8 L886.6 1516.8 L888.5 1517.1 L888.8 1517.0 L889.0 1518.0 L891.2 1518.0 L891.2 620.0 L891.3 619.2 L891.3 618.4 L891.4 617.6 L891.4 616.7 L891.5 615.9 L891.5 615.1 L891.5 614.2 L891.6 613.5 L891.7 612.7 L891.8 611.9 L891.7 611.0 L891.8 610.3 L891.8 609.3 L891.9 608.6 L892.0 607.8 L891.8 606.9 L891.9 606.0 L892.0 605.3 L891.9 604.4 L891.9 603.8 L892.1 602.8 L892.2 601.9 L892.1 601.5 L892.3 600.5 L892.4 599.4 L892.2 598.7 L892.5 597.8 L892.3 597.4 L892.6 596.3 L892.4 595.4 L892.7 594.6 L892.5 594.3 L892.6 593.2 L892.4 592.2 L893.0 591.3 L892.8 590.6 L893.0 589.6 L892.7 589.4 L893.0 587.9 L893.2 587.2 L893.2 586.8 L893.1 585.5 L893.0 584.8 L893.1 584.7 L892.9 583.0 L893.3 583.0 L893.3 581.4 L892.8 581.1 L893.5 579.9 L893.6 580.0 L894.0 578.1 L892.9 577.6 L893.2 576.5 L893.9 576.4 L893.7 574.9 L893.4 574.2 L893.4 573.5 L894.4 572.9 L893.4 572.7 L893.9 570.9 L894.8 571.2 L893.8 570.3 L895.3 568.8 L894.7 567.9 L893.4 567.2 L894.5 567.3 L893.6 566.0 L894.9 563.3 L896.1 563.5 L895.6 563.2 L895.2 562.8 L895.4 561.5 L895.9 559.7 L896.2 559.4 L896.7 559.6 L894.3 558.9 L895.9 557.2 L894.6 556.2 L896.9 555.3 L894.4 555.8 L896.3 555.1 L897.5 553.2 L896.7 552.7 L895.3 552.4 L897.5 549.8 L897.8 550.5 L895.7 547.4 L898.0 548.2 L896.7 548.0 L898.3 546.0 L896.1 547.8 L896.9 543.3 L896.5 545.1 L897.9 544.4 L898.0 544.3 L898.1 542.9 L899.6 541.3 L898.3 542.5 L898.2 539.3 L899.1 538.2 L900.1 536.1 L897.0 537.5 L899.1 535.9 L896.3 533.4 L897.3 536.5 L895.6 534.3 L900.4 535.1 L900.3 532.8 L896.2 530.5 L900.0 529.7 L897.6 530.8 L899.2 530.5 L897.7 531.2 L898.1 527.5 L901.5 525.4 L901.2 525.6 L900.8 524.4 L901.0 527.4 L899.8 526.2 L901.3 524.7 L903.5 521.7 L905.0 519.1 L901.1 521.6 L905.6 521.0 L900.8 522.4 L906.6 518.4 L900.1 520.7 L904.3 516.4 L898.5 514.9 L901.1 515.7 L904.2 518.6 L905.9 516.1 L904.0 510.4 L905.4 515.8 L905.4 511.7 L900.4 510.3 L905.4 512.0 L903.8 504.6 L901.0 505.4 L907.6 508.0 L901.7 508.8 L910.3 507.1 L903.5 509.0 L909.8 500.0 L910.6 503.5 L901.3 503.2 L906.5 507.0 L908.5 498.5 L909.4 503.1 L904.9 497.3 L908.0 498.6 L904.8 497.6 L908.9 495.2 L913.6 492.4 L909.4 492.5 L910.8 491.3 L912.3 493.5 L905.2 494.2 L907.4 492.4 L917.5 493.3 L914.2 498.7 L915.9 493.1 L915.4 487.5 L915.5 490.7 L916.9 495.0 L914.6 488.1 L910.3 487.2 L921.3 491.1 L915.3 479.8 L918.4 487.1 L912.3 485.3 L921.1 487.5 L921.8 487.8 L923.0 478.7 L916.8 481.3 L923.5 487.9 L927.3 478.6 L916.8 483.2 L914.5 479.1 L927.1 477.9 L919.3 485.1 L921.6 481.9 L929.4 477.4 L930.9 473.7 L929.5 471.0 L924.1 476.1 L933.7 472.6 L923.6 477.0 L923.5 479.4 L933.6 476.5 L923.7 473.3 L930.3 473.7 L931.4 464.5 L925.5 466.0 L936.7 466.4 L939.3 472.2 L931.9 476.4 L932.0 475.8 L938.6 465.9 L933.8 474.2 L928.9 469.6 L932.8 474.1 L932.4 462.3 L933.2 463.6 L928.2 463.8 L932.3 464.7 L940.3 467.8 L939.2 464.5 L934.1 464.1 L938.3 465.3 L936.3 459.7 L933.3 455.0 L935.9 454.1 L938.9 454.8 L935.1 456.0 L934.5 458.1 L941.3 460.7 L937.8 455.2 L937.7 452.3 L941.9 454.8 L943.4 460.9 L937.3 453.1 L948.0 451.7 L944.7 447.1 L947.5 452.0 L938.1 452.7 L943.9 450.6 L945.3 443.3 L946.5 450.4 L946.0 439.3 L945.3 449.0 L945.1 441.4 L951.3 439.8 L940.8 443.4 L948.1 436.6 L941.9 443.8 L947.3 435.2 L954.9 446.8 L957.4 440.7 L944.3 436.2 L956.2 437.8 L945.8 441.3 L956.4 432.6 L947.3 441.2 L947.0 437.6 L950.8 442.0 L948.3 433.0 L951.2 438.5 L957.9 427.5 L948.8 434.5 L953.3 435.1 L952.1 429.7 L960.4 433.6 L952.2 436.5 L959.8 422.7 L958.6 435.7 L961.2 424.7 L957.9 427.0 L951.5 426.1 L959.1 417.7 L964.3 424.6 L953.0 423.3 L954.0 427.6 L955.6 419.8 L964.7 420.3 L953.8 420.1 L959.1 422.3 L956.5 417.8 L966.4 414.8 L954.0 419.1 L958.7 413.8 L958.4 424.1 L966.0 410.7 L962.5 418.9 L968.3 407.5 L969.6 418.2 L962.3 406.0 L973.5 412.4 L958.9 416.1 L965.7 414.9 L960.7 410.6 L969.0 413.6 L962.3 405.2 L973.5 408.6 L975.6 409.9 L970.5 401.8 L967.8 402.1 L969.8 406.5 L963.4 401.1 L973.4 411.7 L965.3 401.9 L969.0 399.6 L979.0 402.5 L966.9 405.7 L975.0 404.0 L980.1 405.7 L975.6 402.6 L977.6 393.3 L977.7 391.8 L977.9 398.2 L972.3 404.8 L971.6 403.1 L976.5 399.9 L979.9 393.6 L973.6 400.6 L973.5 398.3 L980.5 391.9 L986.5 390.8 L975.0 387.6 L984.9 392.7 L986.5 383.1 L985.6 386.7 L978.6 397.8 L989.5 386.7 L989.2 385.8 L979.3 390.7 L985.3 395.4 L988.4 382.5 L986.9 379.2 L988.0 390.0 L988.6 390.7 L984.3 394.4 L993.3 389.1 L982.4 388.5 L994.9 385.7 L991.1 379.2 L990.2 388.3 L989.6 386.1 L996.3 382.1 L987.1 387.9 L991.3 375.9 L992.7 382.8 L1000.7 386.2 L998.1 372.3 L1000.3 386.3 L994.6 371.1 L1002.9 375.4 L1001.9 375.1 L998.9 384.0 L1003.5 381.2 L998.5 384.6 L991.0 369.4 L1000.7 381.1 L1003.3 382.3 L1009.3 380.7 L995.0 371.0 L1004.1 367.0 L1000.3 366.5 L1001.6 379.5 L1011.3 374.9 L1008.9 367.2 L1003.6 365.1 L1004.1 368.6 L1001.7 369.7 L1014.6 371.8 L1010.7 375.1 L1009.8 364.9 L1006.6 371.8 L1013.8 357.8 L1019.6 359.9 L1013.1 371.4 L1013.7 365.5 L1010.0 374.1 L1012.3 360.6 L1017.0 375.4 L1011.6 374.0 L1022.1 373.6 L1022.4 363.4 L1017.8 355.8 L1022.8 366.0 L1022.8 370.0 L1017.8 370.3 L1022.0 368.7 L1027.0 374.8 L1015.6 363.6 L1024.6 376.8 L1022.9 362.4 L1032.2 369.0 L1028.4 360.5 L1032.7 371.3 L1021.4 364.8 L1029.1 372.9 L1030.5 368.2 L1034.1 369.5 L1038.0 376.2 L1025.8 377.3 L1036.2 366.2 L1037.4 375.8 L1026.1 377.5 L1031.6 365.1 L1039.6 366.6 L1029.1 376.2 L1036.5 372.0 L1031.5 373.8 L1045.4 381.4 L1048.0 377.1 L1043.3 366.8 L1036.0 373.5 L1035.2 367.4 L1042.7 383.3 L1041.8 377.7 L1046.3 382.5 L1049.0 380.6 L1041.3 368.1 L1046.8 381.9 L1039.9 379.4 L1041.8 385.6 L1053.4 373.3 L1045.9 375.9 L1053.0 371.9 L1051.8 369.9 L1049.8 374.3 L1044.6 380.6 L1058.3 370.3 L1053.5 382.6 L1056.9 385.6 L1055.4 382.2 L1055.3 375.1 L1063.1 384.8 L1053.1 381.3 L1061.5 384.7 L1061.8 381.0 L1060.9 376.4 L1061.6 380.5 L1061.2 381.1 L1063.5 382.0 L1064.0 1466.0 L1063.8 1466.1 L1066.3 1467.8 L1068.6 1466.1 L1065.4 1463.7 L1070.2 1465.1 L1068.8 1468.4 L1070.6 1467.1 L1070.5 1465.5 L1070.4 1468.6 L1071.2 1465.0 L1075.3 1464.8 L1073.9 1464.8 L1074.3 1463.3 L1075.9 1467.6 L1074.9 1468.5 L1075.1 1465.4 L1078.6 1464.4 L1079.9 1466.4 L1077.7 1464.4 L1079.3 1463.4 L1083.6 1465.0 L1079.6 1466.0 L1082.1 1467.1 L1085.3 1467.1 L1085.4 1468.1 L1086.9 1465.6 L1086.6 1466.2 L1087.2 1467.9 L1089.9 1466.0 L1089.8 1463.8 L1086.5 1467.2 L1088.9 1464.6 L1088.6 1467.0 L1089.7 1466.7 L1093.3 1463.8 L1094.4 1468.5 L1092.2 1466.6 L1093.2 1467.8 L1096.5 1466.7 L1094.5 1466.4 L1099.4 1464.4 L1100.5 1465.6 L1096.4 1464.0 L1101.9 1467.0 L1098.3 1464.4 L1099.5 1465.3 L1098.9 1466.4 L1101.8 1468.3 L1104.7 1464.8 L1104.4 1466.5 L1102.7 1466.8 L1105.3 1465.3 L1105.0 1465.1 L1105.5 1465.6 L1106.4 1467.4 L1109.4 1466.9 L1107.1 1465.2 L1111.3 1465.2 L1112.7 1466.8 L1112.2 1468.2 L1111.0 1465.3 L1112.6 1465.4 L1113.6 1465.9 L1117.5 1467.1 L1118.0 1466.9 L1118.3 1464.5 L1117.4 1463.8 L1120.6 1467.7 L1118.9 1463.1 L1120.7 1465.2 L1122.0 1467.7 L1119.2 1464.9 L1124.4 1468.0 L1125.9 1466.9 L1123.3 1467.0 L1124.8 1465.8 L1125.5 1467.3 L1124.4 1467.1 L1125.4 1464.0 L1125.7 1464.9 L1131.1 1463.9 L1129.9 1464.8 L1130.9 1464.3 L1132.6 1463.8 L1131.6 1466.8 L1135.6 1465.2 L1136.4 1466.7 L1136.6 1467.4 L1136.3 1463.9 L1137.2 1465.5 L1137.1 1468.5 L1136.7 1466.4 L1136.4 1464.7 L1140.6 1466.1 L1140.7 1465.1 L1139.9 1465.6 L1141.3 1464.5 L1143.9 1467.5 L1140.8 1465.3 L1145.3 1463.7 L1148.1 1466.3 L1147.0 1467.4 L1148.3 1464.5 L1150.2 1466.6 L1148.9 1464.8 L1147.3 1467.5 L1151.1 1467.7 L1148.5 1468.2 L1149.2 1465.2 L1151.6 1468.2 L1153.7 1467.0 L1155.5 1469.0 L1153.1 1469.8 L1152.8 1468.4 L1154.1 1471.3 L1155.7 1470.2 L1158.3 1471.0 L1159.2 1471.1 L1158.3 1472.2 L1158.2 1474.6 L1157.6 1472.7 L1158.4 1472.5 L1162.6 1473.0 L1164.1 1474.7 L1162.1 1472.3 L1162.9 1472.3 L1161.5 1473.7 L1163.4 1477.8 L1166.3 1474.5 L1163.9 1474.3 L1165.9 1475.8 L1163.8 1477.7 L1165.6 1480.3 L1165.9 1480.1 L1168.0 1479.9 L1170.7 1479.7 L1168.3 1481.8 L1170.5 1482.2 L1172.2 1482.5 L1171.8 1481.5 L1170.4 1482.8 L1172.2 1484.8 L1174.7 1483.6 L1173.7 1485.1 L1172.5 1483.3 L1174.0 1487.0 L1173.7 1483.6 L1177.3 1486.3 L1179.8 1485.8 L1178.5 1484.7 L1180.2 1485.5 L1178.7 1487.5 L1179.7 1490.7 L1182.3 1488.6 L1181.3 1490.0 L1182.6 1491.8 L1183.4 1491.6 L1185.0 1488.5 L1184.9 1493.0 L1187.3 1490.6 L1187.5 1492.8 L1188.0 1490.2 L1187.9 1493.9 L1186.1 1492.8 L1186.2 1491.4 L1189.4 1496.9 L1189.3 1492.8 L1188.0 1496.4 L1189.3 1497.6 L1190.6 1496.4 L1191.4 1496.0 L1190.8 1497.1 L1193.0 1499.8 L1195.8 1498.2 L1191.7 1497.4 L1197.8 1500.0 L1195.2 1497.2 L1197.7 1501.0 L1197.6 1501.4 L1199.7 1502.4 L1195.7 1502.8 L1196.9 1500.8 L1198.1 1500.6 L1198.9 1505.0 L1200.5 1506.1 L1201.5 1501.5 L1200.9 1507.0 L1205.1 1504.6 L1202.8 1507.5 L1205.8 1505.2 L1205.5 1506.6 L1203.8 1505.3 L1203.9 1509.5 L1206.7 1511.0 L1209.1 1509.9 L1207.8 1509.4 L1207.4 1509.5 L1209.7 1512.0 L1207.4 1512.7 L1210.5 1512.0 L1212.9 1510.3 L1212.4 1512.2 L1212.0 1515.1 L1209.5 1513.0 L1211.8 1515.5 L1211.1 1514.7 L1215.8 1513.5 L1214.9 1514.0 L1215.2 1514.9 L1217.5 1514.6 L1216.2 1516.2 L1219.2 1516.1 L1216.1 1515.4 L1218.7 1519.4 L1218.0 1519.1 L1220.4 1520.4 L1219.0 1517.5 L1222.9 1519.9 L1220.6 1519.9 L1223.3 1520.1 L1222.8 1524.3 L1224.9 1519.7 L1223.6 1523.9 L1226.6 1521.7 L1225.1 1522.4 L1224.0 1524.7 L1228.6 1523.0 L1228.5 1524.1 L1228.5 1523.7 L1229.9 1528.5 L1232.2 1526.4 L1230.0 1527.0 L1236.0 1530.0 L1236.2 640.0 L1236.3 639.2 L1236.3 638.4 L1236.4 637.6 L1236.4 636.7 L1236.4 636.0 L1236.5 635.2 L1236.5 634.3 L1236.6 633.5 L1236.7 632.7 L1236.6 631.8 L1236.7 631.1 L1236.7 630.4 L1236.8 629.5 L1236.7 628.6 L1236.8 627.8 L1236.7 627.0 L1236.7 626.3 L1236.8 625.3 L1236.9 624.5 L1237.1 623.9 L1236.8 623.0 L1236.8 622.4 L1237.2 621.3 L1237.0 620.2 L1237.2 619.9 L1237.3 619.0 L1237.1 618.1 L1237.0 617.2 L1237.5 616.5 L1237.1 615.4 L1237.0 614.8 L1237.7 614.0 L1237.3 612.8 L1237.3 612.7 L1237.7 611.6 L1237.2 611.0 L1237.7 610.3 L1238.2 609.2 L1238.1 608.2 L1237.5 607.4 L1237.9 607.3 L1238.3 606.2 L1238.3 604.4 L1239.0 604.7 L1237.9 604.3 L1237.6 602.5 L1239.1 601.9 L1238.6 601.2 L1237.6 600.3 L1239.8 599.6 L1238.5 598.3 L1238.1 598.8 L1238.1 598.0 L1238.4 595.7 L1238.7 596.8 L1238.1 594.5 L1238.9 593.5 L1240.4 592.7 L1239.5 591.2 L1238.5 591.8 L1240.5 591.5 L1238.1 589.7 L1238.7 589.0 L1240.5 590.4 L1241.0 586.8 L1239.7 585.6 L1242.7 584.6 L1243.4 585.9 L1242.1 583.0 L1243.3 585.5 L1241.6 584.1 L1241.2 582.9 L1239.1 581.0 L1244.0 581.7 L1244.5 579.7 L1239.7 579.9 L1243.4 575.8 L1244.8 580.0 L1240.9 579.0 L1243.4 578.7 L1242.1 577.1 L1246.1 574.6 L1242.0 572.7 L1244.4 573.7 L1243.5 575.7 L1244.4 573.7 L1248.1 572.7 L1247.1 566.6 L1242.9 569.8 L1241.7 565.0 L1248.2 568.0 L1243.2 569.0 L1244.5 569.9 L1243.9 562.0 L1243.3 568.0 L1243.4 561.6 L1248.7 567.5 L1245.6 556.0 L1245.4 557.7 L1250.6 561.5 L1243.9 562.8 L1243.5 558.5 L1248.5 551.6 L1247.6 556.2 L1244.5 557.0 L1243.8 558.3 L1252.8 551.5 L1245.0 553.8 L1252.0 548.4 L1249.7 546.3 L1254.6 552.4 L1245.1 548.6 L1251.7 543.6 L1251.7 551.4 L1252.3 546.4 L1253.8 548.7 L1246.4 544.2 L1251.7 544.4 L1246.6 545.8 L1252.4 542.8 L1249.2 541.3 L1256.6 536.2 L1258.2 547.6 L1250.0 540.9 L1255.1 540.6 L1254.5 543.8 L1255.0 543.3 L1248.9 536.0 L1251.0 540.2 L1255.5 538.5 L1258.6 529.4 L1256.4 542.4 L1260.2 535.7 L1253.3 537.9 L1252.3 533.4 L1253.9 536.7 L1260.3 538.2 L1251.4 528.2 L1258.1 531.7 L1254.2 532.4 L1256.7 533.9 L1260.9 523.8 L1258.9 522.8 L1254.7 522.6 L1266.3 523.9 L1265.8 521.9 L1260.9 525.9 L1269.4 526.6 L1270.6 527.4 L1267.2 529.3 L1258.1 520.3 L1258.8 522.8 L1263.6 516.4 L1268.3 526.0 L1272.4 527.1 L1270.6 528.2 L1271.3 521.8 L1276.6 517.7 L1267.7 515.1 L1274.6 516.7 L1275.6 523.9 L1271.9 516.2 L1274.0 516.0 L1274.2 521.3 L1271.8 522.0 L1278.5 520.9 L1272.1 522.3 L1280.7 520.9 L1284.3 513.2 L1282.6 514.7 L1274.8 509.0 L1274.9 511.4 L1276.8 512.5 L1273.4 514.5 L1286.0 515.5 L1286.9 515.8 L1290.3 509.5 L1274.1 507.8 L1280.4 512.5 L1276.0 508.3 L1291.6 512.3 L1289.1 502.3 L1278.7 504.6 L1287.6 507.7 L1290.0 502.0 L1288.0 512.5 L1295.7 505.4 L1294.5 501.5 L1293.1 500.4 L1295.5 503.8 L1284.1 502.5 L1289.2 495.7 L1290.8 495.8 L1294.8 500.9 L1296.4 502.0 L1292.8 491.0 L1285.0 498.5 L1290.5 496.0 L1290.9 493.2 L1290.2 493.2 L1289.7 497.9 L1297.7 499.7 L1297.8 491.4 L1297.7 487.7 L1286.9 492.4 L1298.6 492.6 L1302.4 495.7 L1290.4 487.9 L1294.0 489.3 L1293.9 487.2 L1293.8 492.3 L1295.4 489.3 L1302.3 489.5 L1303.1 482.7 L1305.7 481.3 L1302.3 484.6 L1303.5 478.2 L1299.8 477.4 L1303.1 479.0 L1303.4 486.7 L1303.1 483.5 L1303.2 488.7 L1313.5 486.1 L1307.0 488.3 L1308.5 473.1 L1315.1 483.1 L1304.2 476.7 L1318.2 481.5 L1306.6 471.2 L1305.1 485.6 L1301.8 479.6 L1320.9 477.5 L1303.4 481.5 L1317.9 479.1 L1312.5 470.1 L1318.5 481.5 L1318.0 478.7 L1315.6 478.0 L1321.3 472.0 L1318.7 462.2 L1309.3 471.8 L1325.0 466.0 L1311.7 463.6 L1315.0 466.6 L1321.2 459.8 L1318.9 465.7 L1323.5 473.7 L1315.7 458.3 L1327.5 474.2 L1331.1 462.7 L1322.2 455.5 L1326.2 455.9 L1315.8 468.1 L1326.2 454.5 L1321.5 473.1 L1314.7 460.8 L1333.4 469.2 L1328.6 451.4 L1329.5 456.4 L1328.8 465.2 L1328.3 466.9 L1334.4 455.1 L1326.6 450.1 L1330.7 451.5 L1326.0 448.8 L1334.9 447.7 L1336.5 459.4 L1335.6 448.3 L1326.9 451.4 L1334.9 445.1 L1332.2 453.5 L1334.4 453.7 L1326.0 456.7 L1326.9 453.7 L1336.3 456.6 L1339.0 445.6 L1334.3 457.6 L1336.6 452.5 L1329.8 452.1 L1341.1 441.0 L1337.5 445.0 L1340.5 445.9 L1339.7 451.5 L1334.6 454.2 L1345.2 443.2 L1348.4 441.0 L1336.6 445.3 L1333.8 444.4 L1347.9 453.6 L1349.6 451.7 L1352.8 443.4 L1350.1 441.5 L1349.3 436.2 L1344.5 446.0 L1345.3 440.7 L1339.9 440.7 L1355.3 438.6 L1346.0 433.0 L1349.5 438.9 L1358.4 438.8 L1349.9 435.4 L1348.4 445.3 L1351.5 433.6 L1346.4 439.6 L1361.6 438.4 L1358.0 437.1 L1350.5 436.1 L1358.5 432.4 L1358.1 429.8 L1367.6 439.7 L1364.1 441.5 L1368.3 431.5 L1359.1 434.8 L1369.5 438.2 L1363.4 430.0 L1362.7 442.7 L1362.8 442.8 L1359.4 437.8 L1360.7 426.4 L1363.1 425.9 L1373.4 431.7 L1365.4 425.1 L1371.7 436.6 L1373.1 425.2 L1365.4 438.5 L1367.4 430.5 L1376.7 438.4 L1376.6 437.5 L1378.6 431.6 L1370.0 433.2 L1384.6 426.9 L1374.0 433.1 L1379.7 438.2 L1371.7 430.7 L1377.7 431.7 L1373.8 432.3 L1378.4 438.1 L1384.3 424.9 L1384.8 421.1 L1383.4 418.6 L1386.2 431.7 L1374.1 428.3 L1380.3 419.1 L1383.5 435.4 L1391.5 423.1 L1384.6 434.5 L1386.7 435.8 L1397.3 429.9 L1379.5 423.7 L1395.5 425.7 L1390.4 434.1 L1388.1 428.0 L1387.4 420.6 L1394.9 422.9 L1391.8 433.3 L1402.5 428.4 L1391.4 422.4 L1387.7 436.9 L1395.5 420.6 L1391.7 435.7 L1391.7 440.0 L1401.3 429.1 L1392.8 431.5 L1405.2 428.9 L1399.6 434.8 L1400.5 433.7 L1404.5 430.7 L1401.1 432.1 L1403.0 433.0 L1405.5 433.3 L1406.0 434.0 L1406.2 1466.0 L1408.5 1463.7 L1407.3 1465.0 L1406.1 1466.0 L1411.8 1464.3 L1411.4 1463.7 L1412.8 1464.3 L1411.6 1465.0 L1410.8 1464.4 L1414.9 1466.6 L1415.4 1463.9 L1415.5 1467.5 L1417.1 1466.8 L1419.2 1465.6 L1415.8 1468.1 L1420.6 1467.1 L1417.9 1468.4 L1419.8 1465.9 L1420.6 1467.1 L1420.9 1466.2 L1423.1 1463.9 L1423.4 1465.5 L1424.1 1467.0 L1423.5 1468.0 L1424.0 1465.3 L1426.8 1464.7 L1427.9 1464.8 L1425.4 1465.4 L1428.9 1465.5 L1429.1 1466.0 L1432.2 1466.8 L1430.8 1463.6 L1430.2 1467.3 L1431.0 1464.9 L1434.6 1464.9 L1435.4 1463.2 L1433.8 1468.6 L1438.7 1467.3 L1438.2 1467.5 L1436.8 1464.2 L1436.0 1466.7 L1439.9 1467.6 L1439.7 1467.9 L1440.8 1464.7 L1439.7 1466.8 L1442.1 1464.7 L1443.2 1467.3 L1443.4 1463.9 L1444.9 1463.0 L1448.3 1464.6 L1446.0 1463.5 L1447.5 1466.7 L1448.3 1465.7 L1447.2 1464.1 L1448.8 1467.2 L1449.7 1465.1 L1450.3 1468.8 L1452.4 1466.6 L1454.4 1464.9 L1451.2 1466.7 L1455.3 1466.6 L1455.6 1464.8 L1458.2 1465.9 L1457.8 1463.2 L1458.7 1464.1 L1459.4 1466.7 L1457.2 1465.9 L1460.2 1467.4 L1461.4 1465.8 L1464.2 1465.1 L1459.9 1467.1 L1461.5 1467.7 L1465.7 1463.7 L1466.1 1466.1 L1464.6 1465.3 L1468.5 1466.1 L1468.1 1463.3 L1470.2 1466.5 L1466.3 1465.4 L1469.5 1466.7 L1472.5 1464.4 L1470.1 1464.4 L1472.3 1467.4 L1471.0 1467.9 L1473.1 1465.5 L1475.0 1467.0 L1473.8 1465.0 L1475.7 1463.7 L1478.9 1466.8 L1480.3 1466.8 L1477.1 1467.2 L1479.0 1463.6 L1479.5 1464.8 L1478.7 1466.4 L1482.9 1465.4 L1484.9 1466.9 L1485.0 1465.9 L1483.2 1466.9 L1486.4 1463.6 L1485.8 1463.6 L1487.3 1466.3 L1488.5 1463.2 L1488.9 1466.2 L1490.5 1465.4 L1489.3 1464.8 L1488.8 1464.3 L1491.1 1469.8 L1493.1 1467.6 L1494.7 1469.5 L1492.5 1465.5 L1494.4 1467.6 L1493.4 1469.2 L1495.5 1468.9 L1498.3 1468.9 L1496.6 1470.6 L1498.2 1469.2 L1496.3 1470.3 L1499.2 1470.0 L1500.0 1472.9 L1499.3 1475.3 L1502.4 1473.7 L1503.7 1474.5 L1502.8 1472.0 L1503.9 1476.4 L1503.8 1477.8 L1505.3 1477.2 L1501.6 1475.6 L1506.6 1477.9 L1507.2 1475.3 L1508.6 1479.5 L1506.5 1480.1 L1509.3 1480.9 L1510.7 1479.0 L1511.6 1479.9 L1510.3 1480.8 L1508.3 1479.3 L1508.9 1481.8 L1510.2 1480.5 L1514.4 1481.0 L1513.7 1480.2 L1515.1 1480.7 L1516.8 1484.1 L1516.4 1482.1 L1517.0 1483.2 L1517.4 1484.6 L1516.3 1483.6 L1517.1 1487.4 L1517.4 1488.0 L1518.0 1487.2 L1517.8 1484.9 L1520.4 1485.0 L1523.6 1488.2 L1521.1 1491.4 L1520.9 1490.1 L1522.8 1490.2 L1525.9 1488.9 L1524.3 1489.0 L1526.8 1489.5 L1522.8 1491.1 L1526.5 1491.3 L1525.5 1491.4 L1525.6 1492.7 L1529.6 1496.1 L1527.4 1492.3 L1531.4 1493.7 L1531.6 1494.0 L1533.1 1495.0 L1531.5 1496.9 L1533.2 1495.6 L1532.5 1497.3 L1535.7 1497.3 L1532.7 1498.5 L1533.5 1496.2 L1535.1 1496.4 L1535.7 1501.0 L1536.2 1499.5 L1536.9 1501.9 L1535.8 1498.7 L1537.0 1499.6 L1538.1 1499.8 L1541.1 1503.1 L1541.0 1503.1 L1541.9 1504.9 L1540.4 1504.0 L1541.0 1501.8 L1542.9 1503.4 L1544.4 1506.2 L1542.6 1506.9 L1542.3 1507.3 L1547.4 1508.4 L1544.3 1509.9 L1549.2 1508.5 L1547.6 1511.2 L1548.7 1506.4 L1548.0 1511.9 L1549.2 1510.3 L1551.3 1512.9 L1548.3 1509.7 L1552.0 1513.7 L1552.6 1512.7 L1550.1 1514.5 L1550.7 1512.0 L1554.8 1514.1 L1554.4 1513.7 L1555.9 1514.3 L1555.1 1513.2 L1556.4 1514.4 L1555.7 1517.1 L1559.0 1517.9 L1558.4 1515.6 L1557.5 1518.6 L1559.7 1520.6 L1560.2 1519.8 L1559.3 1520.4 L1558.8 1519.9 L1564.5 1520.9 L1563.7 1518.4 L1564.5 1521.3 L1565.2 1522.8 L1563.9 1520.0 L1565.7 1523.1 L1566.6 1524.8 L1564.9 1524.0 L1567.8 1524.4 L1565.8 1524.8 L1565.4 1524.0 L1569.0 1526.3 L1567.1 1525.0 L1572.8 1525.8 L1572.9 1528.8 L1568.5 1527.0 L1572.0 1528.0 L1580.0 1530.0 L1580.0 660.0 L1580.0 659.2 L1580.1 658.4 L1580.1 657.6 L1580.1 656.8 L1580.3 656.0 L1580.2 655.2 L1580.3 654.3 L1580.4 653.6 L1580.2 652.7 L1580.5 651.9 L1580.3 651.1 L1580.5 650.3 L1580.4 649.4 L1580.5 648.6 L1580.5 647.7 L1580.7 646.9 L1580.7 646.0 L1580.6 645.6 L1580.9 644.8 L1580.7 643.7 L1581.1 643.1 L1581.0 642.2 L1581.1 641.5 L1581.0 640.4 L1581.3 639.6 L1581.0 638.7 L1581.1 638.1 L1581.0 637.3 L1581.4 636.4 L1581.5 635.7 L1581.3 635.2 L1581.4 634.4 L1580.9 633.4 L1581.6 632.4 L1581.2 631.8 L1581.3 630.6 L1581.4 630.1 L1581.7 629.0 L1581.6 628.4 L1581.4 627.7 L1581.6 626.2 L1581.9 626.3 L1582.2 625.1 L1582.2 624.6 L1581.4 623.1 L1583.1 623.1 L1582.5 622.4 L1581.3 621.4 L1583.0 619.7 L1583.1 618.6 L1582.3 620.1 L1581.3 618.6 L1582.9 616.8 L1583.2 616.3 L1582.5 616.3 L1584.0 613.3 L1581.7 613.6 L1583.5 611.3 L1581.4 612.0 L1583.1 612.1 L1581.6 609.7 L1584.8 608.6 L1584.0 611.0 L1583.8 607.7 L1584.1 608.9 L1583.4 608.5 L1582.7 606.6 L1582.8 603.2 L1583.6 603.3 L1581.6 603.6 L1584.5 600.2 L1583.6 601.7 L1583.3 598.5 L1585.0 602.2 L1584.8 596.3 L1582.9 599.1 L1585.3 600.7 L1586.7 596.3 L1585.1 599.3 L1583.1 597.6 L1585.4 591.6 L1585.5 595.0 L1585.2 594.6 L1586.0 592.6 L1583.6 592.5 L1584.9 590.0 L1582.6 587.9 L1585.5 586.6 L1587.6 590.6 L1589.5 587.7 L1588.6 589.6 L1589.5 585.2 L1589.0 581.6 L1584.7 581.5 L1591.1 582.6 L1587.7 580.5 L1587.5 584.5 L1584.2 578.4 L1591.2 577.0 L1589.3 583.1 L1587.6 578.5 L1587.8 582.3 L1590.0 577.1 L1588.0 574.2 L1588.9 575.9 L1588.4 572.0 L1594.7 574.6 L1591.1 572.4 L1592.9 576.9 L1586.3 571.1 L1586.9 572.5 L1589.8 574.1 L1591.6 570.0 L1592.8 569.9 L1589.5 563.1 L1592.4 563.8 L1588.9 570.9 L1594.0 569.8 L1586.6 562.4 L1593.9 565.3 L1589.1 567.0 L1594.5 568.4 L1596.2 555.7 L1592.6 559.9 L1594.0 557.2 L1597.0 553.1 L1598.6 560.7 L1590.3 555.5 L1597.4 559.9 L1601.4 560.2 L1597.5 562.0 L1593.9 556.9 L1597.2 548.7 L1598.7 552.7 L1598.6 557.5 L1597.8 546.9 L1606.4 548.9 L1600.2 556.0 L1601.9 559.0 L1603.6 554.9 L1607.4 544.0 L1611.9 548.6 L1602.1 557.8 L1604.9 544.5 L1604.8 547.8 L1609.9 549.6 L1611.9 554.0 L1615.4 541.3 L1611.5 553.8 L1606.5 546.9 L1605.8 551.9 L1602.7 544.2 L1618.5 550.6 L1610.1 546.2 L1612.5 550.8 L1614.6 551.3 L1608.1 543.4 L1615.2 533.6 L1608.9 543.4 L1624.0 536.9 L1621.9 544.9 L1611.8 534.4 L1621.9 540.1 L1625.6 532.9 L1614.3 538.4 L1615.9 544.5 L1618.9 533.8 L1611.3 539.1 L1617.6 536.9 L1623.4 533.8 L1620.4 536.1 L1627.3 539.8 L1624.9 534.0 L1618.5 531.2 L1627.4 539.3 L1623.8 526.6 L1620.6 535.5 L1624.6 532.8 L1631.9 535.1 L1625.1 523.2 L1633.2 522.4 L1632.6 525.0 L1625.1 533.1 L1626.0 519.3 L1633.2 530.5 L1632.1 523.1 L1629.9 520.8 L1629.3 528.0 L1625.3 523.1 L1635.4 528.6 L1627.2 528.1 L1631.0 516.7 L1633.5 524.2 L1634.5 514.0 L1625.7 514.7 L1633.1 516.8 L1638.7 513.2 L1630.3 523.3 L1637.6 508.9 L1632.3 518.1 L1632.6 518.3 L1640.0 517.0 L1639.9 511.1 L1633.7 508.5 L1638.0 504.0 L1641.9 509.3 L1646.5 510.3 L1639.6 502.7 L1639.7 517.4 L1635.2 513.8 L1646.5 514.4 L1638.1 513.4 L1637.4 513.9 L1647.5 499.6 L1648.8 512.6 L1643.4 496.2 L1639.8 498.3 L1646.2 502.5 L1638.5 505.4 L1647.0 497.3 L1652.4 495.9 L1644.5 505.5 L1651.5 503.9 L1653.7 501.3 L1649.9 508.5 L1651.5 500.3 L1652.4 506.6 L1644.8 501.8 L1659.1 494.9 L1647.7 492.8 L1642.9 497.8 L1651.5 486.5 L1656.7 491.1 L1659.2 498.8 L1657.5 487.3 L1647.8 493.8 L1659.5 488.3 L1657.6 499.2 L1652.5 495.5 L1653.7 482.1 L1660.1 488.4 L1656.4 488.5 L1657.2 482.9 L1663.9 491.5 L1662.3 481.7 L1655.0 493.3 L1660.4 482.1 L1662.5 493.6 L1669.8 484.7 L1657.7 488.4 L1669.2 480.6 L1661.7 486.9 L1662.9 477.5 L1660.4 480.8 L1661.5 475.9 L1668.1 479.7 L1657.6 476.8 L1669.1 486.3 L1658.8 476.1 L1672.0 472.6 L1672.0 475.1 L1671.8 477.3 L1673.2 472.6 L1676.5 473.3 L1674.9 472.4 L1673.8 479.0 L1672.6 467.4 L1666.8 469.8 L1670.8 476.3 L1666.8 471.2 L1677.1 474.0 L1672.8 471.0 L1673.7 463.2 L1674.3 473.5 L1677.8 474.4 L1681.1 465.0 L1673.2 466.2 L1677.1 460.6 L1676.0 460.3 L1680.8 463.0 L1686.8 468.9 L1671.9 468.7 L1682.7 466.4 L1677.6 457.9 L1678.5 465.2 L1689.4 463.8 L1683.6 458.3 L1685.1 467.1 L1681.3 464.4 L1682.7 468.7 L1686.5 465.3 L1687.5 464.0 L1682.3 461.1 L1684.3 461.5 L1694.8 459.7 L1695.6 458.4 L1692.5 466.1 L1695.5 465.5 L1695.3 461.4 L1700.2 457.9 L1690.1 463.8 L1690.9 463.7 L1689.3 463.4 L1698.2 455.9 L1703.5 458.5 L1696.4 449.8 L1694.6 454.1 L1692.0 463.1 L1698.2 463.8 L1697.2 452.1 L1709.3 455.5 L1700.1 460.7 L1705.6 449.6 L1700.9 451.4 L1710.3 456.1 L1700.0 462.1 L1709.8 460.8 L1710.4 449.2 L1707.6 459.4 L1702.3 458.2 L1714.8 454.3 L1704.8 457.3 L1705.0 451.4 L1708.4 465.6 L1707.6 455.8 L1712.7 469.7 L1709.0 465.0 L1720.1 458.0 L1714.0 469.6 L1718.7 456.6 L1714.9 458.6 L1717.8 464.8 L1718.8 461.1 L1719.2 468.5 L1719.0 467.4 L1718.0 455.4 L1731.1 461.9 L1728.9 461.9 L1725.0 464.9 L1725.3 474.4 L1729.8 458.6 L1730.3 470.5 L1725.1 454.9 L1734.8 464.4 L1728.6 466.2 L1731.4 465.7 L1721.1 457.4 L1730.9 467.9 L1725.6 461.0 L1740.0 462.0 L1738.2 462.6 L1725.8 468.3 L1733.3 468.9 L1745.3 462.2 L1738.8 471.3 L1737.9 466.2 L1735.2 455.2 L1733.6 462.1 L1746.9 465.1 L1740.0 455.6 L1730.0 466.4 L1730.3 457.3 L1734.6 468.6 L1748.3 455.7 L1731.0 460.7 L1744.4 469.4 L1740.4 458.7 L1744.1 465.2 L1733.9 465.3 L1745.5 465.8 L1742.3 460.2 L1745.6 460.0 L1752.3 466.7 L1753.3 466.0 L1747.4 471.9 L1749.2 470.7 L1750.0 470.0 L1750.0 1466.0 L1751.6 1463.2 L1752.8 1463.6 L1751.3 1463.2 L1753.3 1464.3 L1752.8 1465.0 L1755.6 1465.1 L1755.3 1468.1 L1758.9 1467.4 L1757.4 1463.1 L1758.1 1464.8 L1760.7 1464.7 L1757.6 1467.0 L1762.9 1467.5 L1763.4 1467.6 L1763.2 1467.0 L1760.2 1467.0 L1763.6 1468.6 L1762.9 1463.9 L1764.3 1466.0 L1766.6 1468.5 L1766.5 1468.4 L1769.3 1465.1 L1771.4 1466.0 L1767.5 1465.1 L1770.2 1463.3 L1772.2 1464.5 L1773.5 1465.4 L1774.0 1467.4 L1774.9 1468.1 L1776.4 1466.8 L1772.0 1465.2 L1777.5 1467.9 L1774.8 1467.7 L1777.9 1464.6 L1777.6 1466.1 L1779.5 1465.3 L1782.5 1466.6 L1778.5 1466.4 L1781.0 1463.5 L1783.7 1465.3 L1783.8 1467.0 L1785.7 1467.9 L1783.3 1466.0 L1786.3 1467.5 L1783.3 1466.5 L1787.0 1468.7 L1788.3 1468.8 L1786.4 1464.1 L1789.8 1463.1 L1787.8 1465.5 L1788.4 1467.0 L1792.6 1465.5 L1791.5 1463.5 L1793.7 1468.6 L1795.1 1464.2 L1797.6 1464.6 L1795.3 1464.9 L1794.8 1467.3 L1798.2 1466.9 L1796.2 1466.1 L1798.0 1467.1 L1800.0 1463.8 L1801.8 1468.0 L1799.5 1468.1 L1805.2 1465.7 L1802.1 1465.4 L1801.6 1468.0 L1803.8 1468.0 L1805.6 1466.5 L1806.0 1467.0 L1804.9 1465.1 L1806.7 1463.3 L1810.4 1465.4 L1807.2 1465.4 L1808.9 1463.6 L1809.6 1464.9 L1813.5 1465.7 L1814.1 1465.7 L1814.2 1466.0 L1814.9 1468.1 L1816.7 1467.4 L1814.6 1463.6 L1818.9 1464.9 L1816.2 1463.3 L1820.8 1466.0 L1818.5 1466.3 L1818.8 1468.7 L1823.0 1466.1 L1823.1 1464.9 L1823.4 1463.9 L1823.2 1466.3 L1824.6 1464.9 L1825.6 1465.6 L1826.7 1464.9 L1825.4 1467.9 L1824.7 1467.7 L1830.2 1467.0 L1831.5 1465.7 L1829.5 1465.0 L1831.3 1467.2 L1830.2 1464.5 L1834.9 1465.9 L1830.6 1463.9 L1834.9 1468.1 L1832.0 1465.2 L1836.6 1464.9 L1836.9 1467.2 L1837.5 1467.0 L1838.3 1463.8 L1837.2 1466.0 L1837.1 1465.2 L1838.1 1465.5 L1841.0 1466.6 L1841.5 1468.9 L1842.1 1470.0 L1842.8 1470.6 L1842.4 1468.5 L1843.0 1470.5 L1845.0 1471.9 L1846.5 1467.7 L1843.9 1470.2 L1844.3 1469.0 L1848.4 1471.8 L1847.4 1472.5 L1848.0 1471.5 L1848.5 1474.5 L1851.8 1472.3 L1851.3 1474.8 L1850.4 1475.6 L1851.0 1471.8 L1853.4 1476.7 L1853.6 1476.0 L1852.1 1473.8 L1853.6 1475.6 L1854.4 1476.9 L1857.1 1478.5 L1855.9 1475.4 L1858.1 1480.2 L1855.5 1479.8 L1860.4 1480.6 L1861.9 1479.9 L1858.5 1481.1 L1861.5 1481.4 L1863.5 1481.1 L1861.5 1483.4 L1862.7 1484.6 L1862.2 1480.9 L1864.7 1484.7 L1863.5 1483.4 L1867.5 1482.6 L1864.6 1484.5 L1867.0 1487.0 L1864.4 1485.6 L1866.8 1488.6 L1869.3 1483.8 L1870.2 1488.5 L1871.0 1488.9 L1869.4 1485.5 L1873.1 1488.0 L1871.3 1488.2 L1874.2 1491.0 L1874.4 1490.3 L1873.1 1488.0 L1873.5 1489.1 L1874.3 1489.4 L1877.0 1491.5 L1878.1 1492.2 L1876.6 1491.7 L1875.6 1491.0 L1878.9 1492.7 L1880.6 1495.7 L1878.5 1492.9 L1880.2 1495.0 L1881.9 1494.2 L1880.0 1498.7 L1882.5 1493.7 L1880.1 1495.5 L1881.3 1495.2 L1881.1 1496.8 L1883.1 1498.3 L1883.9 1500.8 L1883.8 1499.4 L1886.6 1502.3 L1885.3 1500.5 L1885.6 1502.0 L1889.1 1503.7 L1888.4 1504.2 L1888.6 1500.0 L1887.4 1502.7 L1892.0 1502.8 L1889.7 1505.5 L1890.6 1505.4 L1893.6 1502.7 L1892.9 1503.4 L1892.4 1506.4 L1893.8 1508.2 L1895.1 1505.2 L1896.3 1510.0 L1896.6 1506.6 L1895.8 1506.3 L1896.7 1506.8 L1899.6 1510.1 L1900.5 1510.4 L1896.5 1510.0 L1902.4 1510.5 L1901.0 1514.2 L1902.6 1513.1 L1901.7 1509.8 L1901.1 1514.5 L1901.6 1513.6 L1905.8 1512.5 L1906.2 1512.5 L1903.3 1515.9 L1907.3 1515.2 L1907.0 1517.1 L1908.3 1515.8 L1906.1 1519.4 L1910.3 1515.7 L1909.4 1519.8 L1907.5 1520.4 L1910.8 1518.4 L1909.0 1520.7 L1911.2 1522.3 L1911.5 1520.8 L1914.3 1521.1 L1913.3 1519.7 L1913.0 1520.4 L1915.3 1524.7 L1915.0 1523.0 L1921.2 1525.0 L1921.2 670.0 L1921.3 669.2 L1921.3 668.4 L1921.4 667.6 L1921.4 666.8 L1921.4 665.9 L1921.5 665.1 L1921.5 664.3 L1921.4 663.5 L1921.6 662.7 L1921.5 661.9 L1921.7 661.0 L1921.7 660.3 L1921.7 659.4 L1921.6 658.6 L1921.9 657.9 L1921.9 656.8 L1921.8 656.1 L1922.0 655.4 L1921.8 654.6 L1921.8 653.7 L1922.1 652.8 L1921.8 652.3 L1922.2 651.5 L1922.1 650.4 L1922.3 649.7 L1922.0 648.9 L1922.3 648.1 L1922.3 647.4 L1922.0 646.6 L1922.2 646.0 L1921.9 644.8 L1922.5 644.4 L1922.0 643.3 L1922.6 642.2 L1922.6 641.5 L1922.3 641.1 L1922.1 639.8 L1922.8 639.3 L1922.2 638.8 L1922.6 637.4 L1922.5 637.3 L1923.1 635.5 L1922.4 635.4 L1922.4 635.1 L1923.4 634.1 L1922.6 631.9 L1922.5 632.3 L1923.4 630.5 L1923.7 629.5 L1923.3 628.6 L1923.5 628.9 L1922.9 626.5 L1922.3 627.1 L1924.0 627.3 L1923.3 624.8 L1923.7 626.1 L1924.8 624.9 L1924.6 624.3 L1923.4 623.5 L1925.1 622.5 L1923.0 619.6 L1923.9 620.5 L1922.5 618.4 L1924.7 616.3 L1924.7 619.1 L1925.2 615.1 L1924.6 613.8 L1923.1 615.4 L1925.8 611.7 L1926.5 614.6 L1926.9 612.9 L1927.6 611.1 L1924.7 613.3 L1926.2 612.5 L1922.3 608.8 L1925.6 608.1 L1926.6 605.6 L1922.7 606.2 L1926.8 609.3 L1924.0 608.4 L1925.8 604.9 L1927.3 604.0 L1929.0 605.2 L1926.1 603.7 L1929.0 599.9 L1930.2 596.9 L1922.4 601.4 L1926.4 603.3 L1929.4 593.1 L1928.2 601.8 L1929.3 595.5 L1924.6 592.6 L1931.6 599.1 L1923.2 595.0 L1922.9 594.6 L1931.3 591.5 L1928.6 587.9 L1929.0 596.9 L1924.4 593.4 L1929.9 592.4 L1924.5 593.5 L1924.1 587.4 L1929.7 585.4 L1934.7 581.0 L1931.2 589.6 L1929.8 579.5 L1925.2 587.2 L1934.5 587.7 L1923.7 583.4 L1933.2 575.5 L1931.6 576.9 L1934.5 575.1 L1932.5 581.7 L1926.5 579.1 L1929.0 575.0 L1930.3 578.4 L1934.6 575.7 L1937.0 571.4 L1929.8 570.6 L1940.6 579.0 L1933.8 581.0 L1938.2 564.0 L1939.7 564.6 L1934.2 565.4 L1940.9 578.8 L1935.2 571.0 L1942.2 574.2 L1941.6 564.6 L1942.5 572.1 L1935.5 564.5 L1935.4 566.4 L1933.2 567.7 L1944.1 558.3 L1942.1 563.1 L1945.7 564.0 L1933.9 558.5 L1943.8 568.8 L1939.7 569.2 L1944.3 568.7 L1939.1 553.5 L1938.0 559.6 L1943.0 556.2 L1949.7 564.3 L1944.7 549.4 L1947.6 553.4 L1955.2 558.4 L1951.1 557.3 L1951.6 556.7 L1947.7 560.4 L1942.9 554.0 L1950.1 546.1 L1955.5 556.9 L1954.3 550.9 L1954.5 553.6 L1952.2 541.2 L1953.7 558.6 L1951.8 546.3 L1958.2 544.9 L1950.4 553.0 L1956.0 545.6 L1947.1 548.6 L1955.3 538.5 L1945.7 546.1 L1952.0 546.5 L1948.0 548.9 L1948.8 539.8 L1951.0 539.1 L1953.0 539.9 L1967.2 545.9 L1963.9 536.1 L1970.3 540.8 L1954.4 533.0 L1951.0 540.6 L1960.1 541.9 L1960.7 528.4 L1959.4 533.1 L1958.2 528.9 L1962.2 536.4 L1959.1 531.6 L1969.4 539.4 L1963.4 543.1 L1962.6 543.0 L1969.7 525.2 L1966.8 528.6 L1970.6 530.7 L1968.2 529.5 L1972.0 537.0 L1962.4 530.1 L1975.6 534.8 L1968.2 537.0 L1962.9 536.2 L1973.1 535.5 L1967.6 537.7 L1977.9 518.4 L1974.1 518.7 L1979.3 529.6 L1972.7 525.8 L1978.8 535.2 L1976.7 515.7 L1980.3 528.4 L1969.2 526.5 L1987.2 514.6 L1972.5 519.0 L1986.6 522.3 L1986.5 515.7 L1973.7 515.8 L1990.2 522.9 L1990.3 526.0 L1979.7 510.5 L1980.5 518.2 L1977.7 517.0 L1983.8 517.0 L1988.8 518.1 L1985.2 518.2 L1990.7 521.1 L1974.2 519.3 L1985.8 519.3 L1998.0 515.5 L1996.2 518.1 L1975.6 518.0 L1994.6 501.8 L1992.3 511.3 L1978.8 502.9 L1987.4 520.4 L1994.0 517.3 L1988.9 516.9 L1988.1 517.6 L1987.4 500.8 L1994.1 502.2 L1994.8 515.8 L1989.2 505.0 L1992.8 494.6 L1987.8 509.0 L1994.0 517.6 L2008.1 494.2 L2011.2 497.8 L2001.0 495.5 L2002.0 513.1 L1990.4 489.5 L1987.4 496.2 L2003.6 497.5 L2001.2 506.7 L2006.5 511.3 L2000.8 489.6 L2001.4 495.4 L1999.8 499.9 L2000.7 487.3 L2007.4 501.5 L1995.2 507.8 L2000.6 505.1 L2007.8 484.5 L1999.0 504.6 L1998.3 495.8 L2017.5 494.5 L2014.4 480.9 L1996.9 499.4 L2014.0 510.2 L2010.8 481.6 L2022.2 481.2 L2013.5 509.0 L2001.8 495.8 L2010.4 499.7 L2025.0 480.7 L2010.6 479.3 L2022.1 497.2 L2021.9 503.0 L2027.2 496.4 L2019.1 484.2 L2025.4 483.7 L2027.1 481.9 L2021.4 497.6 L2033.1 489.2 L2016.0 495.2 L2025.5 486.1 L2034.8 487.0 L2027.9 502.3 L2034.6 487.7 L2026.1 481.3 L2015.7 485.7 L2027.1 493.6 L2018.5 497.1 L2042.8 474.6 L2034.6 480.2 L2031.4 482.4 L2027.8 470.4 L2038.4 472.8 L2028.0 482.4 L2028.2 488.9 L2034.0 476.4 L2039.1 470.6 L2026.6 475.1 L2044.6 468.1 L2033.3 494.6 L2028.7 495.3 L2038.1 488.2 L2054.6 477.7 L2035.4 472.2 L2046.2 467.7 L2033.1 486.8 L2038.9 497.7 L2041.7 480.5 L2046.8 499.8 L2058.5 475.8 L2052.3 489.3 L2043.1 495.2 L2066.6 484.7 L2053.9 474.1 L2057.9 497.1 L2060.2 500.1 L2048.9 486.6 L2051.9 485.6 L2065.5 482.3 L2062.2 476.6 L2043.8 477.8 L2054.7 493.4 L2048.9 493.0 L2045.5 485.3 L2052.4 479.8 L2065.8 502.1 L2071.5 486.7 L2067.4 487.8 L2069.0 476.3 L2077.9 482.5 L2051.5 477.3 L2078.5 486.0 L2065.6 495.2 L2079.5 489.9 L2059.1 493.1 L2058.9 490.7 L2068.9 478.4 L2057.9 474.7 L2066.4 479.9 L2087.7 481.7 L2086.9 486.9 L2065.3 468.8 L2082.1 477.9 L2087.2 472.5 L2068.3 477.8 L2073.6 491.5 L2066.4 471.4 L2068.8 478.4 L2064.2 474.2 L2065.1 474.1 L2096.7 483.3 L2070.7 476.4 L2095.8 477.0 L2070.0 481.3 L2070.9 476.5 L2097.3 474.5 L2084.3 480.5 L2100.0 484.0 L2100.7 481.0 L2091.5 465.8 L2083.6 482.8 L2087.7 473.8 L2085.4 475.4 L2088.2 477.8 L2092.1 477.1 L2092.5 480.0 L2092.5 478.0 L2092.5 1466.0 L2093.4 1468.9 L2092.5 1467.4 L2095.5 1464.3 L2094.6 1465.5 L2099.0 1465.0 L2097.3 1466.4 L2100.1 1465.2 L2099.6 1465.0 L2098.0 1465.4 L2103.2 1467.1 L2102.3 1467.4 L2101.8 1467.0 L2100.8 1464.8 L2104.1 1465.0 L2105.9 1467.7 L2106.6 1463.5 L2107.5 1465.5 L2107.4 1468.7 L2107.9 1465.9 L2110.9 1467.6 L2109.8 1463.4 L2111.4 1463.9 L2109.6 1468.6 L2114.3 1464.7 L2112.0 1464.5 L2114.9 1464.0 L2113.9 1468.2 L2113.6 1465.6 L2116.6 1465.1 L2116.8 1468.8 L2116.3 1463.8 L2118.5 1465.0 L2118.2 1468.5 L2119.7 1466.9 L2118.1 1466.5 L2123.0 1468.3 L2121.8 1466.8 L2124.6 1468.4 L2124.0 1465.2 L2124.3 1465.2 L2125.6 1466.9 L2128.1 1464.3 L2125.3 1466.6 L2127.7 1466.4 L2129.1 1464.6 L2130.1 1463.5 L2129.7 1463.9 L2130.4 1466.7 L2131.7 1467.6 L2133.4 1468.5 L2133.3 1467.7 L2132.6 1463.9 L2133.7 1467.4 L2138.7 1464.9 L2135.0 1465.2 L2137.5 1468.8 L2139.7 1466.9 L2139.5 1463.9 L2139.0 1466.5 L2137.9 1466.4 L2142.7 1464.4 L2140.5 1468.0 L2142.6 1465.2 L2146.4 1464.8 L2144.0 1468.3 L2145.2 1468.1 L2144.6 1466.4 L2149.7 1464.4 L2145.3 1466.4 L2150.8 1468.3 L2147.9 1463.8 L2148.2 1467.5 L2154.3 1466.5 L2153.3 1463.5 L2153.8 1464.4 L2153.8 1464.6 L2152.8 1467.1 L2155.8 1464.7 L2158.4 1467.4 L2157.5 1468.9 L2156.2 1466.9 L2160.4 1464.6 L2157.5 1463.8 L2161.6 1467.1 L2160.3 1465.9 L2159.7 1466.7 L2160.1 1467.5 L2161.9 1466.9 L2165.4 1465.5 L2162.8 1465.4 L2165.9 1468.0 L2165.0 1466.1 L2169.5 1465.7 L2168.9 1468.2 L2169.5 1466.6 L2170.3 1464.3 L2171.0 1468.8 L2169.0 1467.0 L2170.2 1465.5 L2173.7 1466.3 L2173.0 1463.7 L2176.4 1465.1 L2174.7 1468.6 L2175.6 1465.7 L2177.6 1468.4 L2177.3 1466.1 L2178.7 1465.4 L2179.1 1468.3 L2180.6 1468.0 L2181.7 1467.2 L2179.4 1466.8 L2181.2 1468.5 L2181.1 1465.3 L2182.1 1468.8 L2185.5 1469.8 L2184.0 1465.5 L2184.7 1466.9 L2186.3 1469.8 L2188.2 1468.2 L2187.8 1470.0 L2189.4 1467.5 L2188.7 1473.1 L2189.7 1469.8 L2190.5 1470.0 L2191.6 1470.2 L2193.1 1470.3 L2190.7 1474.9 L2196.5 1473.5 L2197.0 1474.2 L2193.2 1475.6 L2194.5 1477.0 L2196.5 1473.7 L2197.0 1473.2 L2199.7 1476.3 L2198.8 1478.9 L2201.0 1476.7 L2198.9 1475.8 L2198.6 1475.6 L2200.8 1476.0 L2202.3 1480.8 L2200.6 1477.6 L2203.9 1481.7 L2202.8 1481.1 L2203.9 1480.9 L2202.8 1479.4 L2205.6 1479.8 L2206.4 1480.4 L2208.1 1482.5 L2206.3 1482.1 L2209.6 1481.7 L2208.5 1486.0 L2209.0 1481.1 L2210.4 1486.2 L2214.0 1483.6 L2211.7 1485.2 L2213.1 1486.9 L2214.8 1484.5 L2214.1 1485.7 L2216.2 1486.7 L2214.9 1489.8 L2217.0 1488.4 L2217.9 1489.1 L2217.3 1489.6 L2215.8 1489.5 L2217.0 1488.9 L2218.9 1487.0 L2221.5 1489.1 L2218.2 1489.5 L2220.3 1492.8 L2222.7 1490.8 L2224.4 1493.4 L2225.3 1490.7 L2223.6 1492.5 L2223.0 1493.2 L2223.4 1496.3 L2224.6 1492.7 L2225.3 1494.1 L2228.8 1495.4 L2227.2 1494.8 L2228.1 1497.2 L2229.4 1497.9 L2230.4 1499.6 L2232.2 1499.6 L2232.2 1496.8 L2231.5 1500.2 L2229.3 1500.1 L2231.0 1502.6 L2235.0 1500.2 L2235.5 1500.8 L2235.3 1504.4 L2237.1 1501.4 L2236.3 1501.9 L2236.3 1500.6 L2238.8 1505.1 L2239.9 1506.0 L2237.7 1502.1 L2238.1 1503.7 L2239.4 1503.8 L2240.6 1506.0 L2241.3 1505.0 L2242.1 1505.3 L2240.4 1507.3 L2242.1 1508.3 L2243.7 1508.1 L2241.6 1510.4 L2247.2 1508.8 L2247.6 1511.8 L2245.3 1508.3 L2248.7 1511.5 L2244.3 1512.9 L2248.5 1510.2 L2249.8 1513.1 L2248.5 1516.2 L2249.9 1514.3 L2249.9 1511.4 L2251.5 1516.0 L2249.9 1512.9 L2253.5 1517.6 L2254.4 1515.8 L2253.1 1517.0 L2254.6 1517.4 L2255.4 1517.6 L2254.8 1515.7 L2255.5 1518.3 L2254.3 1519.5 L2255.8 1519.9 L2259.4 1522.4 L2255.8 1522.3 L2259.0 1523.0 L2258.3 1520.3 L2261.9 1521.0 L2258.6 1522.8 L2262.0 1526.4 L2262.0 1524.0" stroke="#ff0000" stroke-width="6.5"/>
<path d="M379.0 1479.0 L379.8 1474.0 L380.6 1474.2 L381.4 1474.1 L382.2 1477.2 L383.0 1477.9 L383.8 1481.0 L384.6 1484.7 L385.4 1478.1 L386.2 1480.0 L387.0 1477.8 L387.8 1477.5 L388.6 1475.9 L389.4 1472.6 L390.2 1475.8 L391.0 1481.9 L391.8 1482.9 L392.6 1481.4 L393.4 1478.2 L394.2 1477.8 L395.0 1475.0 L395.8 1475.7 L396.6 1485.5 L397.4 1480.1 L398.2 1477.8 L399.0 1479.5 L399.8 1478.9 L400.6 1476.3 L401.4 1477.9 L402.2 1478.1 L403.0 1484.2 L403.8 1484.1 L404.6 1476.2 L405.4 1478.4 L406.2 1475.4 L407.0 1484.9 L407.8 1474.3 L408.6 1478.8 L409.4 1472.7 L410.2 1478.5 L411.0 1478.5 L411.8 1472.7 L412.6 1474.5 L413.4 1479.0 L414.2 1478.7 L415.0 1476.4 L415.8 1473.2 L416.6 1476.7 L417.4 1477.0 L418.2 1473.8 L419.0 1480.3 L419.8 1475.4 L420.6 1479.4 L421.4 1481.7 L422.2 1472.7 L423.0 1479.0 L423.8 1480.8 L424.6 1484.1 L425.4 1481.5 L426.2 1483.4 L427.0 1481.1 L427.8 1475.4 L428.6 1483.1 L429.4 1482.3 L430.2 1478.8 L431.0 1484.5 L431.8 1473.1 L432.6 1484.3 L433.4 1477.1 L434.2 1479.6 L435.0 1482.9 L435.8 1474.7 L436.6 1478.9 L437.4 1472.7 L438.2 1473.0 L439.0 1484.9 L439.8 1475.4 L440.6 1478.0 L441.4 1474.1 L442.2 1484.6 L443.0 1479.1 L443.8 1483.6 L444.6 1476.0 L445.4 1478.5 L446.2 1475.7 L447.0 1480.2 L447.8 1481.7 L448.6 1480.0 L449.4 1480.1 L450.2 1476.5 L451.0 1484.9 L451.8 1472.8 L452.6 1474.7 L453.4 1481.2 L454.2 1485.1 L455.0 1483.5 L455.8 1475.7 L456.6 1484.8 L457.4 1478.4 L458.2 1479.9 L459.0 1480.9 L459.8 1480.5 L460.6 1483.9 L461.4 1484.2 L462.2 1476.6 L463.0 1484.1 L463.8 1476.6 L464.6 1481.4 L465.4 1474.6 L466.2 1480.8 L467.0 1476.4 L467.8 1485.4 L468.6 1481.1 L469.4 1477.5 L470.2 1485.0 L471.0 1474.0 L471.8 1482.2 L472.6 1480.9 L473.4 1472.7 L474.2 1478.5 L475.0 1474.0 L475.8 1485.5 L476.6 1473.8 L477.4 1480.8 L478.2 1479.6 L479.0 1474.1 L479.8 1484.6 L480.6 1480.0 L481.4 1480.5 L482.2 1475.9 L483.0 1474.5 L483.8 1476.7 L484.6 1473.0 L485.4 1475.1 L486.2 1478.9 L487.0 1477.6 L487.8 1482.4 L488.6 1474.3 L489.4 1475.2 L490.2 1479.3 L491.0 1481.4 L491.8 1476.6 L492.6 1475.2 L493.4 1474.1 L494.2 1477.2 L495.0 1477.4 L495.8 1482.9 L496.6 1475.6 L497.4 1476.9 L498.2 1482.2 L499.0 1475.2 L499.8 1473.0 L500.6 1485.1 L501.4 1484.4 L502.2 1476.6 L503.0 1476.2 L503.8 1478.5 L504.6 1475.2 L505.4 1482.7 L506.2 1484.0 L507.0 1481.8 L507.8 1477.7 L508.6 1483.4 L509.4 1484.7 L510.2 1474.9 L511.0 1481.2 L511.8 1474.7 L512.6 1485.3 L513.4 1482.8 L514.2 1477.8 L515.0 1482.1 L515.8 1476.3 L516.6 1473.3 L517.4 1479.2 L518.2 1473.5 L519.0 1478.4 L519.8 1483.6 L520.6 1480.0 L521.4 1476.0 L522.2 1475.3 L523.0 1479.8 L523.8 1479.1 L524.6 1484.2 L525.4 1474.7 L526.2 1478.6 L527.0 1478.3 L527.8 1477.4 L528.6 1474.9 L529.4 1477.5 L530.2 1479.6 L531.0 1475.0 L531.8 1476.7 L532.6 1479.3 L533.4 1484.7 L534.2 1478.8 L535.0 1477.0 L535.8 1472.9 L536.6 1479.2 L537.4 1477.0 L538.2 1474.0 L539.0 1478.7 L539.8 1480.5 L540.6 1477.1 L541.4 1482.1 L542.2 1480.7 L543.0 1473.3 L543.8 1473.1 L544.6 1479.3 L545.4 1480.4 L546.2 1479.7 L547.0 1475.5 L547.8 1477.0 L548.6 1481.8 L549.4 1477.7 L550.2 1479.4 L551.0 1479.0 L551.0 1180.0 L553.0 1167.0 L552.0 1164.8 L556.4 1165.5 L555.1 1161.4 L558.0 1162.5 L551.3 1163.8 L554.3 1160.4 L554.1 1163.9 L554.5 1160.0 L556.3 1156.7 L556.6 1160.8 L558.7 1160.8 L560.2 1156.1 L556.9 1160.1 L557.8 1153.2 L556.4 1153.5 L560.7 1153.0 L556.7 1150.8 L561.0 1151.2 L557.9 1149.4 L561.1 1152.9 L560.2 1153.7 L560.7 1153.9 L558.5 1152.6 L559.2 1147.8 L563.5 1147.8 L564.1 1149.0 L563.7 1147.9 L559.6 1145.2 L561.7 1143.0 L564.3 1141.9 L563.4 1146.9 L567.5 1143.6 L566.3 1142.5 L560.9 1140.6 L568.8 1140.5 L566.5 1139.3 L565.7 1138.8 L563.6 1141.0 L567.1 1134.2 L566.6 1140.0 L568.9 1137.2 L565.0 1135.3 L566.6 1134.7 L568.3 1135.4 L571.0 1136.3 L571.4 1135.1 L570.8 1135.9 L573.6 1129.6 L569.9 1134.7 L574.0 1131.5 L570.0 1125.7 L572.3 1129.3 L571.5 1129.0 L573.6 1123.5 L573.9 1124.4 L573.0 1125.7 L576.0 1126.3 L572.1 1121.2 L572.1 1120.6 L577.2 1125.3 L577.9 1120.9 L574.5 1119.9 L575.5 1123.9 L578.0 1121.8 L580.0 1121.9 L579.4 1119.7 L578.8 1116.4 L581.7 1123.3 L578.8 1121.9 L582.5 1122.7 L580.8 1118.2 L583.5 1120.1 L585.2 1114.5 L582.8 1114.1 L583.5 1117.5 L584.0 1114.9 L583.7 1114.6 L584.1 1116.3 L591.3 1115.9 L587.1 1115.2 L589.7 1114.8 L590.7 1115.6 L594.8 1111.9 L591.1 1112.7 L595.6 1113.9 L591.5 1113.0 L591.9 1112.9 L594.2 1113.8 L596.8 1117.9 L599.0 1114.3 L594.1 1113.5 L597.6 1113.6 L597.5 1114.4 L596.6 1116.7 L596.6 1116.3 L597.9 1120.6 L599.5 1117.0 L599.0 1120.5 L601.5 1122.4 L605.1 1118.3 L602.4 1119.6 L602.2 1119.3 L602.1 1123.9 L605.2 1122.8 L604.1 1120.9 L604.6 1120.3 L605.5 1126.6 L610.5 1127.1 L604.9 1125.2 L608.4 1123.0 L612.9 1125.9 L611.7 1125.8 L611.2 1127.6 L613.1 1123.8 L610.8 1125.9 L612.3 1124.7 L613.6 1123.1 L612.3 1116.9 L614.9 1121.7 L616.5 1116.9 L614.7 1117.8 L617.2 1117.7 L612.2 1118.3 L614.7 1116.3 L616.8 1114.4 L617.2 1113.8 L617.0 1112.1 L619.6 1112.2 L615.0 1115.2 L617.5 1114.2 L617.3 1112.6 L619.1 1108.6 L618.1 1109.9 L620.4 1111.6 L620.1 1111.7 L621.3 1110.7 L618.6 1110.5 L621.2 1107.3 L622.2 1107.0 L623.6 1104.6 L620.0 1105.8 L625.5 1105.2 L623.7 1102.1 L624.4 1104.4 L623.7 1100.0 L621.1 1103.3 L621.5 1101.1 L624.5 1101.3 L625.7 1101.3 L629.2 1100.3 L626.4 1095.2 L627.9 1096.8 L625.8 1093.8 L628.6 1097.3 L632.2 1094.4 L629.2 1093.9 L631.1 1094.5 L632.6 1094.7 L632.5 1089.3 L632.2 1093.3 L631.3 1088.1 L631.6 1089.5 L631.2 1090.5 L634.1 1089.7 L632.2 1091.0 L636.7 1085.3 L630.6 1086.5 L632.9 1088.9 L632.3 1084.6 L632.9 1085.6 L639.5 1083.8 L638.4 1080.7 L638.7 1083.7 L635.3 1082.0 L637.3 1077.8 L638.8 1076.8 L640.6 1080.6 L637.6 1081.6 L642.5 1076.4 L640.3 1074.9 L636.9 1076.7 L643.3 1075.7 L638.0 1074.2 L644.0 1078.3 L638.8 1073.3 L644.1 1075.3 L645.1 1070.8 L644.6 1071.2 L644.8 1075.2 L640.7 1071.0 L645.6 1071.5 L646.1 1068.4 L647.9 1067.3 L641.8 1067.6 L644.0 1067.3 L648.1 1066.0 L644.8 1064.5 L646.4 1064.4 L645.2 1062.1 L646.9 1066.1 L643.9 1063.5 L645.1 1062.5 L646.5 1059.8 L643.2 1058.9 L644.7 1059.0 L647.3 1056.9 L650.3 1059.7 L649.7 1058.6 L651.5 1056.4 L651.8 1056.8 L649.9 1058.0 L648.1 1051.0 L651.8 1050.3 L649.0 1050.8 L650.8 1053.8 L652.3 1049.7 L649.8 1049.5 L652.4 1047.2 L650.5 1051.2 L653.6 1050.0 L650.0 1050.1 L651.6 1047.0 L653.4 1048.5 L653.9 1047.7 L655.5 1045.1 L648.9 1042.4 L655.1 1040.9 L654.5 1041.5 L653.9 1038.0 L655.0 1040.0 L649.9 1039.9 L654.8 1037.2 L656.7 1037.5 L653.9 1033.2 L655.9 1039.1 L653.6 1031.9 L655.8 1035.2 L655.1 1035.1 L655.5 1029.6 L653.1 1034.8 L657.8 1034.7 L654.0 1031.5 L655.9 1028.0 L656.1 1025.6 L654.5 1027.4 L654.6 1027.1 L658.6 1029.4 L658.6 1022.8 L660.4 1027.4 L657.7 1022.7 L655.2 1021.5 L654.7 1024.9 L656.5 1022.7 L657.0 1023.1 L657.3 1024.0 L656.3 1018.2 L658.7 1019.3 L657.3 1015.6 L657.4 1014.9 L663.9 1018.0 L661.1 1018.7 L659.6 1018.8 L659.0 1012.0 L660.7 1013.6 L661.3 1015.5 L659.4 1010.1 L661.4 1009.9 L663.2 1011.3 L665.8 1008.5 L666.6 1009.3 L659.8 1007.2 L660.4 1007.2 L667.3 1006.3 L664.5 1008.9 L661.4 1007.0 L667.4 1003.1 L667.3 1005.6 L666.8 1005.4 L666.3 999.9 L662.1 1002.5 L667.0 1000.4 L662.1 1000.6 L665.7 998.7 L664.4 1000.3 L666.3 1000.4 L666.1 996.0 L664.6 997.7 L664.0 995.7 L667.6 996.6 L666.5 991.6 L668.2 990.3 L668.8 990.3 L668.7 995.0 L668.1 990.2 L672.8 989.3 L671.2 986.4 L670.0 992.0 L671.5 986.5 L668.3 987.6 L673.6 986.9 L671.3 987.1 L672.0 981.6 L672.1 985.3 L673.7 987.0 L668.9 981.0 L672.0 978.3 L672.7 980.0 L676.1 981.4 L672.0 983.5 L670.6 978.6 L670.9 977.0 L674.5 976.7 L676.5 978.4 L675.5 978.6 L674.2 972.6 L676.8 977.4 L677.3 973.3 L676.7 975.8 L675.8 975.3 L675.4 970.5 L677.1 971.7 L679.8 969.2 L676.8 968.1 L678.5 968.9 L677.8 967.7 L680.5 965.0 L678.1 966.4 L677.4 965.8 L679.2 966.7 L681.5 966.0 L680.9 965.5 L681.4 964.6 L681.2 961.4 L677.8 961.4 L683.3 960.0 L682.4 961.2 L679.1 955.5 L678.4 959.7 L684.3 958.3 L678.3 955.4 L682.1 951.6 L680.2 955.9 L679.6 956.0 L683.1 953.0 L684.0 954.4 L684.1 951.7 L685.2 953.7 L685.8 949.0 L680.3 947.3 L682.5 946.6 L684.7 951.2 L682.3 948.0 L686.6 944.2 L684.1 948.5 L686.6 947.4 L686.2 944.0 L682.4 941.7 L682.8 941.4 L686.0 943.3 L683.3 942.5 L688.5 938.6 L686.2 936.5 L685.5 938.6 L687.0 938.6 L685.7 938.1 L688.7 935.6 L686.7 937.5 L686.9 935.4 L684.5 932.9 L685.3 930.6 L685.5 933.8 L685.1 932.7 L689.1 932.3 L692.4 931.3 L688.1 928.1 L686.3 929.2 L686.9 929.3 L693.0 927.7 L692.7 925.8 L688.8 928.0 L693.8 924.2 L688.6 925.3 L693.3 920.2 L690.4 920.7 L690.3 923.3 L689.5 923.6 L688.3 920.4 L694.9 922.0 L695.0 919.1 L695.6 915.4 L690.3 917.6 L690.3 918.8 L695.0 917.1 L695.0 911.1 L693.7 911.0 L692.6 910.0 L693.8 911.3 L691.2 912.2 L693.5 908.8 L695.7 911.8 L699.0 909.2 L695.3 907.4 L699.0 908.4 L696.0 908.5 L699.0 908.7 L695.3 903.8 L700.8 904.6 L698.9 907.3 L695.5 901.3 L695.7 900.7 L698.6 904.1 L700.9 898.5 L697.1 897.3 L699.1 903.2 L700.9 895.9 L703.0 897.8 L701.2 894.4 L698.9 897.3 L696.7 896.6 L698.4 893.0 L697.5 894.9 L700.3 889.5 L699.7 890.7 L704.0 892.3 L704.8 891.6 L703.6 888.3 L704.0 893.0 L702.0 889.8 L704.9 889.9 L705.5 890.0 L703.4 889.1 L706.4 887.6 L705.9 882.4 L704.8 884.4 L705.4 882.2 L705.3 885.7 L707.2 885.0 L705.3 878.1 L708.8 881.3 L706.5 880.1 L709.6 876.2 L708.8 878.4 L708.0 880.0 L710.6 874.4 L708.2 872.0 L709.6 871.6 L707.7 871.5 L708.3 872.8 L711.4 872.2 L705.6 872.7 L706.4 869.2 L712.7 870.3 L709.8 871.3 L713.1 866.9 L710.6 864.7 L712.7 869.6 L709.3 865.3 L708.3 867.2 L709.9 867.7 L713.0 866.0 L710.0 862.0 L713.7 861.9 L712.7 861.4 L715.3 860.1 L715.5 860.6 L711.3 861.7 L712.1 855.6 L712.8 855.7 L713.0 860.1 L713.8 854.9 L718.0 856.5 L713.9 855.5 L714.5 853.9 L715.3 855.8 L716.0 849.1 L715.7 851.2 L713.7 848.6 L717.6 854.2 L716.5 851.2 L718.8 850.4 L718.0 848.0 L719.5 847.0 L719.5 1479.0 L720.3 1475.8 L721.1 1479.0 L721.9 1483.1 L722.7 1482.5 L723.5 1473.0 L724.3 1482.5 L725.1 1480.8 L725.9 1476.0 L726.7 1472.6 L727.5 1483.7 L728.3 1474.3 L729.1 1475.8 L729.9 1476.5 L730.7 1482.9 L731.5 1484.8 L732.3 1484.4 L733.1 1483.5 L733.9 1483.5 L734.7 1478.6 L735.5 1473.2 L736.3 1475.6 L737.1 1474.3 L737.9 1474.0 L738.7 1474.3 L739.5 1476.6 L740.3 1473.2 L741.1 1476.3 L741.9 1483.6 L742.7 1475.6 L743.5 1479.1 L744.3 1483.6 L745.1 1472.7 L745.9 1482.0 L746.7 1479.6 L747.5 1472.9 L748.4 1484.1 L749.2 1482.8 L750.0 1473.8 L750.8 1485.0 L751.6 1480.0 L752.4 1480.8 L753.2 1475.3 L754.0 1472.9 L754.8 1481.7 L755.6 1481.8 L756.4 1474.9 L757.2 1472.9 L758.0 1480.0 L758.8 1476.5 L759.6 1477.0 L760.4 1483.8 L761.2 1479.9 L762.0 1474.0 L762.8 1481.6 L763.6 1481.9 L764.4 1479.9 L765.2 1484.9 L766.0 1478.7 L766.8 1480.9 L767.6 1473.2 L768.4 1476.4 L769.2 1476.4 L770.0 1478.1 L770.8 1479.1 L771.6 1474.0 L772.4 1481.5 L773.2 1473.2 L774.0 1475.8 L774.8 1480.1 L775.6 1472.8 L776.4 1476.8 L777.2 1483.0 L778.0 1482.0 L778.8 1477.4 L779.6 1474.7 L780.4 1482.3 L781.2 1483.8 L782.0 1473.6 L782.8 1477.9 L783.6 1479.6 L784.4 1481.5 L785.2 1475.1 L786.0 1483.2 L786.8 1480.4 L787.6 1482.9 L788.4 1484.8 L789.2 1481.4 L790.0 1481.2 L790.8 1476.4 L791.6 1476.1 L792.4 1477.4 L793.2 1483.0 L794.0 1480.2 L794.8 1476.1 L795.6 1484.2 L796.4 1479.2 L797.2 1485.2 L798.0 1481.0 L798.8 1482.1 L799.6 1477.0 L800.4 1485.4 L801.2 1478.7 L802.0 1481.3 L802.8 1477.7 L803.6 1479.3 L804.4 1474.8 L805.2 1477.3 L806.1 1477.9 L806.9 1482.2 L807.7 1474.6 L808.5 1475.1 L809.3 1480.9 L810.1 1478.7 L810.9 1484.0 L811.7 1472.8 L812.5 1478.3 L813.3 1483.3 L814.1 1482.3 L814.9 1477.1 L815.7 1479.2 L816.5 1477.7 L817.3 1472.6 L818.1 1473.6 L818.9 1475.5 L819.7 1483.8 L820.5 1475.0 L821.3 1476.2 L822.1 1479.8 L822.9 1481.6 L823.7 1480.9 L824.5 1476.5 L825.3 1476.9 L826.1 1472.7 L826.9 1482.8 L827.7 1477.4 L828.5 1476.3 L829.3 1475.2 L830.1 1478.9 L830.9 1474.4 L831.7 1476.7 L832.5 1473.9 L833.3 1475.0 L834.1 1479.4 L834.9 1476.8 L835.7 1473.9 L836.5 1483.8 L837.3 1473.3 L838.1 1477.9 L838.9 1476.3 L839.7 1473.3 L840.5 1476.3 L841.3 1478.2 L842.1 1481.5 L842.9 1475.9 L843.7 1477.4 L844.5 1484.2 L845.3 1480.8 L846.1 1478.3 L846.9 1475.3 L847.7 1482.7 L848.5 1484.6 L849.3 1475.6 L850.1 1483.6 L850.9 1477.4 L851.7 1478.7 L852.5 1472.8 L853.3 1475.7 L854.1 1475.6 L854.9 1475.1 L855.7 1483.2 L856.5 1484.9 L857.3 1476.6 L858.1 1482.9 L858.9 1476.4 L859.7 1480.1 L860.5 1475.0 L861.3 1484.3 L862.1 1479.2 L863.0 1480.2 L863.8 1482.8 L864.6 1479.3 L865.4 1478.9 L866.2 1481.8 L867.0 1478.7 L867.8 1480.0 L868.6 1476.4 L869.4 1474.5 L870.2 1475.4 L871.0 1485.1 L871.8 1480.2 L872.6 1472.7 L873.4 1474.9 L874.2 1480.1 L875.0 1479.1 L875.8 1485.4 L876.6 1484.2 L877.4 1473.4 L878.2 1483.0 L879.0 1485.3 L879.8 1482.2 L880.6 1484.9 L881.4 1477.5 L882.2 1480.7 L883.0 1481.4 L883.8 1482.9 L884.6 1481.8 L885.4 1483.2 L886.2 1476.9 L887.0 1482.8 L887.8 1480.3 L888.6 1485.0 L889.4 1476.7 L890.2 1480.6 L891.0 1479.0 L893.0 1479.0 L893.0 1200.0 L900.0 1183.0 L900.3 1178.5 L902.2 1184.0 L899.6 1182.0 L903.5 1180.4 L902.7 1181.2 L900.1 1179.9 L899.9 1174.5 L901.1 1180.4 L901.4 1174.8 L903.4 1173.5 L903.1 1176.6 L901.3 1175.7 L900.4 1175.2 L904.0 1169.5 L902.8 1170.9 L898.2 1172.7 L904.8 1168.1 L899.1 1171.1 L901.7 1164.6 L899.2 1167.3 L902.2 1167.1 L900.3 1168.6 L898.7 1165.9 L901.0 1167.0 L901.2 1161.9 L902.5 1164.0 L899.3 1161.3 L900.8 1156.9 L899.7 1160.6 L904.3 1161.1 L900.5 1156.7 L899.2 1154.9 L904.2 1156.1 L903.1 1159.2 L904.9 1155.3 L903.3 1157.4 L902.0 1149.7 L899.5 1151.0 L904.8 1152.1 L906.0 1151.1 L903.4 1147.2 L902.0 1149.9 L905.5 1151.0 L902.7 1146.7 L905.4 1148.5 L906.6 1145.7 L908.1 1148.2 L903.0 1146.6 L905.9 1145.0 L909.5 1144.0 L905.8 1146.7 L909.3 1141.4 L908.4 1142.6 L906.7 1143.3 L906.2 1138.9 L905.2 1141.3 L908.3 1139.2 L905.9 1139.4 L909.6 1138.2 L908.9 1138.0 L909.3 1133.8 L914.0 1136.0 L911.8 1133.0 L912.4 1130.0 L911.3 1131.4 L911.7 1131.3 L913.6 1129.9 L909.4 1131.6 L916.5 1128.9 L911.4 1126.4 L912.1 1131.1 L916.5 1130.5 L917.1 1128.6 L914.6 1125.5 L916.2 1128.4 L914.9 1128.9 L913.3 1124.6 L918.3 1123.6 L919.7 1120.8 L919.6 1121.5 L922.0 1120.9 L920.2 1123.3 L920.9 1122.1 L923.9 1122.2 L919.8 1122.9 L925.5 1121.4 L926.2 1119.2 L921.9 1120.9 L923.2 1122.5 L928.8 1118.8 L924.0 1118.9 L925.2 1117.6 L929.8 1117.4 L931.5 1117.3 L930.5 1113.9 L928.3 1114.6 L929.6 1117.4 L934.9 1115.5 L930.2 1115.6 L930.7 1113.5 L933.1 1117.9 L930.5 1115.6 L934.2 1110.6 L931.6 1113.4 L936.7 1110.3 L938.8 1113.5 L936.5 1110.0 L939.5 1110.6 L940.4 1113.1 L942.8 1113.6 L942.5 1112.9 L941.7 1116.4 L940.4 1113.5 L944.8 1117.6 L946.7 1118.6 L944.4 1121.1 L941.8 1115.9 L944.4 1119.9 L944.1 1118.2 L944.7 1118.5 L949.0 1121.0 L947.9 1123.3 L945.6 1122.6 L949.1 1118.8 L947.6 1124.0 L949.2 1124.7 L950.4 1125.9 L953.1 1122.6 L950.9 1120.9 L951.7 1123.5 L952.4 1123.7 L952.9 1120.7 L958.4 1121.1 L955.5 1123.7 L956.8 1122.0 L954.0 1120.5 L954.8 1119.7 L960.3 1118.9 L954.8 1118.6 L960.2 1114.3 L960.0 1113.5 L961.9 1116.7 L960.0 1117.4 L962.9 1113.7 L957.8 1113.8 L960.4 1109.4 L964.2 1113.5 L964.3 1114.1 L960.9 1108.7 L964.6 1108.2 L960.9 1110.0 L961.6 1110.1 L965.4 1108.4 L968.5 1106.4 L969.8 1106.3 L966.2 1107.4 L968.2 1105.7 L971.4 1105.6 L966.8 1104.9 L969.2 1107.3 L969.2 1102.5 L971.8 1104.6 L972.6 1098.4 L972.2 1097.1 L969.9 1097.0 L970.3 1098.0 L970.3 1100.5 L973.9 1098.8 L972.7 1093.4 L972.3 1096.3 L972.5 1095.4 L975.1 1094.5 L971.6 1093.8 L975.9 1092.3 L974.5 1093.1 L975.0 1090.1 L977.0 1089.4 L977.4 1092.2 L978.5 1091.2 L975.0 1088.9 L977.6 1091.4 L975.6 1087.5 L975.0 1087.3 L980.1 1088.8 L978.8 1085.7 L977.8 1081.4 L978.4 1085.5 L981.5 1082.4 L979.4 1080.2 L981.5 1082.3 L979.5 1079.8 L983.0 1078.6 L979.6 1076.7 L985.7 1078.2 L985.4 1080.4 L984.2 1079.7 L979.9 1076.9 L984.4 1076.8 L981.6 1073.6 L981.3 1075.2 L983.1 1071.0 L981.5 1074.9 L985.8 1071.3 L985.2 1072.5 L983.8 1070.0 L988.1 1072.1 L983.3 1068.1 L989.1 1070.2 L986.0 1071.3 L988.5 1068.9 L984.3 1063.9 L983.7 1065.3 L986.5 1065.7 L988.8 1064.8 L991.7 1063.4 L990.8 1063.3 L992.2 1061.7 L988.5 1061.7 L989.3 1064.3 L991.8 1059.5 L987.0 1061.4 L991.0 1055.0 L992.8 1057.4 L989.8 1054.3 L987.3 1057.3 L989.4 1056.8 L994.7 1054.8 L995.5 1052.5 L992.8 1052.9 L993.8 1053.9 L995.1 1048.8 L995.8 1049.6 L993.9 1051.6 L991.2 1049.8 L995.4 1047.5 L993.3 1050.9 L994.0 1048.7 L993.3 1044.0 L998.4 1044.2 L995.7 1045.6 L997.9 1043.0 L995.3 1040.4 L992.6 1043.2 L996.8 1039.1 L999.9 1040.6 L999.0 1039.4 L999.2 1037.2 L994.6 1037.2 L1001.0 1039.5 L995.9 1037.1 L999.7 1039.5 L1001.6 1037.3 L996.5 1035.2 L995.7 1033.5 L998.0 1029.7 L997.1 1032.1 L1001.6 1029.9 L1001.0 1032.9 L1000.3 1032.1 L999.2 1026.1 L999.1 1029.6 L1004.8 1027.0 L1003.2 1026.5 L1002.6 1026.3 L1004.1 1025.0 L1001.9 1024.2 L1004.1 1020.6 L1004.4 1025.8 L1004.8 1021.9 L1003.9 1025.5 L1001.7 1019.5 L1004.2 1022.4 L1006.8 1021.9 L1001.6 1020.6 L1006.4 1016.0 L1005.3 1013.8 L1005.2 1016.0 L1008.8 1015.8 L1005.3 1013.1 L1002.2 1013.3 L1009.2 1015.4 L1007.2 1010.9 L1007.1 1015.5 L1004.0 1012.3 L1004.3 1012.5 L1007.5 1007.4 L1005.4 1011.5 L1007.6 1011.5 L1009.2 1010.0 L1006.3 1007.8 L1008.2 1007.0 L1007.8 1007.2 L1011.4 1002.7 L1008.3 1007.1 L1010.9 1003.6 L1010.1 998.3 L1013.0 999.5 L1011.6 1002.8 L1009.7 1000.5 L1014.0 1000.9 L1013.5 999.6 L1009.7 996.9 L1014.7 995.7 L1012.2 998.3 L1012.6 996.2 L1013.2 994.5 L1011.4 993.4 L1015.3 991.5 L1015.7 993.7 L1013.1 990.0 L1013.8 986.8 L1013.0 991.6 L1012.0 990.3 L1015.9 990.2 L1015.4 987.3 L1019.1 986.4 L1014.6 983.9 L1017.2 986.6 L1016.0 984.9 L1012.8 983.3 L1014.7 983.4 L1017.9 985.2 L1019.6 980.5 L1020.1 980.8 L1020.1 982.6 L1016.7 975.8 L1019.3 981.1 L1019.8 980.9 L1020.4 979.4 L1021.6 975.9 L1016.3 975.4 L1017.9 972.3 L1019.3 977.2 L1018.8 972.3 L1023.2 969.9 L1020.0 974.6 L1024.0 972.0 L1021.9 967.6 L1024.9 971.8 L1020.1 969.1 L1025.2 967.4 L1023.4 968.3 L1023.5 963.9 L1022.5 966.3 L1020.4 966.7 L1025.1 965.1 L1020.4 963.4 L1023.0 960.2 L1021.6 964.1 L1026.8 960.2 L1025.2 959.5 L1022.6 959.3 L1027.4 958.4 L1024.9 960.3 L1026.9 956.9 L1029.8 957.9 L1026.3 957.5 L1026.3 955.3 L1026.5 950.9 L1030.3 953.4 L1026.9 955.0 L1026.4 951.0 L1030.3 953.5 L1031.4 950.2 L1026.2 947.4 L1025.5 949.6 L1028.5 945.8 L1028.2 946.8 L1029.2 949.7 L1031.5 948.8 L1032.8 947.5 L1033.2 945.6 L1033.3 945.5 L1034.7 943.5 L1030.2 945.7 L1029.7 945.0 L1031.0 939.4 L1032.7 938.1 L1031.9 941.9 L1032.9 941.4 L1034.4 938.6 L1033.2 938.7 L1031.7 936.8 L1031.0 933.7 L1032.2 931.8 L1030.6 934.3 L1036.2 935.8 L1036.2 932.3 L1037.1 928.7 L1036.0 928.4 L1037.5 928.5 L1033.1 932.3 L1033.4 929.3 L1031.6 928.2 L1038.0 927.0 L1038.1 924.7 L1036.8 922.6 L1039.8 922.8 L1033.1 923.6 L1038.8 921.9 L1036.8 918.3 L1036.6 920.4 L1039.6 922.9 L1035.4 920.2 L1039.4 920.1 L1036.5 918.4 L1038.4 916.8 L1038.0 919.0 L1037.9 917.5 L1038.2 911.9 L1038.5 911.5 L1040.5 910.5 L1039.9 909.1 L1039.4 912.3 L1040.6 909.8 L1041.6 909.4 L1041.7 911.3 L1041.9 911.7 L1038.6 908.7 L1037.9 906.7 L1042.1 903.1 L1038.6 902.8 L1039.1 904.8 L1043.1 901.9 L1041.2 900.3 L1041.2 898.9 L1039.0 902.6 L1045.3 898.6 L1044.2 897.5 L1044.4 901.0 L1040.0 897.3 L1040.5 895.4 L1045.5 898.3 L1044.2 900.0 L1042.9 895.1 L1041.7 893.1 L1045.1 893.0 L1043.7 896.0 L1041.6 892.4 L1048.7 893.4 L1046.0 888.6 L1045.2 886.9 L1049.7 889.8 L1050.3 889.4 L1046.3 889.6 L1049.5 888.5 L1049.1 888.2 L1046.4 887.3 L1048.4 883.4 L1048.4 884.5 L1045.3 885.2 L1047.3 886.0 L1046.1 881.1 L1051.7 880.6 L1050.1 877.6 L1048.0 881.6 L1053.2 876.8 L1049.7 877.4 L1046.9 876.8 L1050.1 873.7 L1049.3 875.7 L1052.3 873.3 L1048.6 876.0 L1048.2 872.2 L1052.1 875.6 L1050.0 868.7 L1052.1 874.8 L1053.1 867.5 L1053.1 867.3 L1055.0 871.7 L1052.5 871.0 L1052.3 868.6 L1051.6 863.5 L1053.1 863.2 L1055.5 868.1 L1050.9 863.4 L1056.9 860.7 L1053.3 862.7 L1058.7 861.9 L1053.1 860.2 L1053.1 860.0 L1058.8 861.7 L1055.6 861.8 L1055.4 858.0 L1055.4 857.4 L1055.5 856.8 L1058.8 855.4 L1055.8 855.3 L1056.4 851.2 L1058.9 852.0 L1060.4 853.6 L1056.6 849.8 L1058.4 848.5 L1059.9 848.0 L1060.8 845.8 L1058.6 849.0 L1057.6 849.7 L1060.0 847.0 L1063.5 846.0 L1063.5 1479.0 L1064.3 1474.9 L1065.1 1480.1 L1065.9 1474.0 L1066.7 1474.7 L1067.5 1477.9 L1068.3 1485.5 L1069.1 1477.5 L1069.9 1485.1 L1070.7 1481.2 L1071.5 1480.9 L1072.3 1484.4 L1073.1 1480.1 L1073.9 1482.1 L1074.7 1478.6 L1075.5 1482.8 L1076.3 1483.9 L1077.1 1472.5 L1077.9 1484.6 L1078.7 1472.9 L1079.5 1480.8 L1080.3 1473.4 L1081.1 1482.3 L1081.9 1478.1 L1082.7 1474.3 L1083.5 1483.5 L1084.3 1475.7 L1085.1 1484.2 L1085.9 1477.5 L1086.7 1479.8 L1087.5 1478.3 L1088.3 1482.4 L1089.1 1477.1 L1089.9 1479.2 L1090.7 1475.5 L1091.5 1476.9 L1092.3 1473.9 L1093.1 1475.9 L1093.9 1476.1 L1094.7 1481.5 L1095.5 1474.4 L1096.3 1474.5 L1097.1 1485.1 L1097.9 1480.8 L1098.7 1473.6 L1099.5 1483.7 L1100.3 1482.4 L1101.1 1480.4 L1101.9 1485.0 L1102.7 1479.4 L1103.5 1474.3 L1104.3 1472.7 L1105.1 1473.7 L1105.9 1478.5 L1106.7 1479.7 L1107.5 1483.3 L1108.3 1473.4 L1109.1 1473.4 L1109.9 1473.7 L1110.7 1477.2 L1111.5 1484.7 L1112.3 1482.6 L1113.1 1473.1 L1113.9 1480.2 L1114.7 1474.9 L1115.5 1475.4 L1116.3 1476.7 L1117.1 1475.7 L1117.9 1476.3 L1118.7 1475.4 L1119.5 1477.0 L1120.3 1480.2 L1121.1 1479.8 L1121.9 1482.0 L1122.7 1476.1 L1123.5 1472.9 L1124.3 1479.9 L1125.1 1476.6 L1125.9 1475.2 L1126.7 1477.8 L1127.5 1484.8 L1128.3 1480.3 L1129.1 1481.8 L1129.9 1473.1 L1130.7 1479.6 L1131.5 1481.6 L1132.3 1483.7 L1133.1 1482.4 L1133.9 1473.2 L1134.7 1485.3 L1135.5 1472.7 L1136.3 1482.5 L1137.1 1478.6 L1137.9 1484.6 L1138.7 1484.8 L1139.5 1482.2 L1140.3 1473.6 L1141.1 1480.9 L1141.9 1474.0 L1142.7 1478.0 L1143.5 1474.2 L1144.3 1476.4 L1145.1 1473.2 L1145.9 1479.5 L1146.7 1473.7 L1147.5 1475.7 L1148.3 1482.6 L1149.1 1476.3 L1149.9 1480.0 L1150.8 1483.7 L1151.6 1480.8 L1152.4 1483.1 L1153.2 1484.6 L1154.0 1475.7 L1154.8 1474.9 L1155.6 1485.4 L1156.4 1484.4 L1157.2 1476.7 L1158.0 1484.5 L1158.8 1473.6 L1159.6 1475.5 L1160.4 1483.7 L1161.2 1473.9 L1162.0 1483.7 L1162.8 1475.4 L1163.6 1482.5 L1164.4 1474.2 L1165.2 1479.0 L1166.0 1480.0 L1166.8 1479.8 L1167.6 1483.7 L1168.4 1473.0 L1169.2 1481.7 L1170.0 1483.6 L1170.8 1479.3 L1171.6 1475.6 L1172.4 1482.9 L1173.2 1478.1 L1174.0 1475.9 L1174.8 1482.6 L1175.6 1482.4 L1176.4 1483.2 L1177.2 1478.9 L1178.0 1472.7 L1178.8 1472.8 L1179.6 1479.7 L1180.4 1473.0 L1181.2 1480.6 L1182.0 1474.2 L1182.8 1482.6 L1183.6 1472.8 L1184.4 1481.5 L1185.2 1475.4 L1186.0 1485.5 L1186.8 1478.7 L1187.6 1479.2 L1188.4 1483.5 L1189.2 1476.2 L1190.0 1485.1 L1190.8 1476.3 L1191.6 1473.0 L1192.4 1476.1 L1193.2 1477.3 L1194.0 1480.3 L1194.8 1473.4 L1195.6 1484.3 L1196.4 1482.6 L1197.2 1482.2 L1198.0 1485.3 L1198.8 1473.2 L1199.6 1481.4 L1200.4 1483.6 L1201.2 1474.8 L1202.0 1477.9 L1202.8 1475.1 L1203.6 1484.5 L1204.4 1478.6 L1205.2 1483.3 L1206.0 1475.8 L1206.8 1480.3 L1207.6 1482.2 L1208.4 1476.9 L1209.2 1476.0 L1210.0 1473.6 L1210.8 1480.7 L1211.6 1477.8 L1212.4 1475.1 L1213.2 1476.7 L1214.0 1476.6 L1214.8 1474.1 L1215.6 1480.2 L1216.4 1474.5 L1217.2 1475.3 L1218.0 1477.2 L1218.8 1485.4 L1219.6 1481.7 L1220.4 1475.3 L1221.2 1483.5 L1222.0 1484.7 L1222.8 1476.8 L1223.6 1482.9 L1224.4 1480.7 L1225.2 1479.7 L1226.0 1484.3 L1226.8 1481.2 L1227.6 1480.9 L1228.4 1484.7 L1229.2 1478.4 L1230.0 1473.9 L1230.8 1472.6 L1231.6 1481.9 L1232.4 1478.6 L1233.2 1483.9 L1234.0 1485.1 L1234.8 1475.8 L1235.6 1475.1 L1236.4 1480.0 L1237.2 1472.8 L1238.0 1479.0 L1240.0 1479.0 L1240.0 1223.0 L1247.0 1207.0 L1248.3 1206.8 L1245.3 1206.2 L1246.9 1203.0 L1249.4 1200.8 L1248.0 1200.1 L1247.6 1198.7 L1246.2 1200.4 L1248.5 1204.3 L1251.0 1200.0 L1251.1 1201.1 L1250.0 1200.7 L1250.2 1196.6 L1251.5 1196.1 L1246.5 1194.1 L1248.0 1192.8 L1251.1 1197.6 L1249.6 1196.4 L1250.5 1194.4 L1253.6 1190.5 L1251.7 1193.5 L1250.1 1191.9 L1252.7 1187.9 L1248.2 1188.9 L1252.6 1190.8 L1249.1 1188.0 L1251.2 1187.3 L1249.4 1183.7 L1253.8 1185.7 L1253.8 1186.5 L1252.5 1183.1 L1255.6 1181.1 L1252.9 1179.3 L1250.3 1178.1 L1252.9 1180.7 L1251.1 1180.2 L1254.9 1181.3 L1256.0 1178.0 L1256.4 1178.7 L1256.8 1176.5 L1255.7 1179.2 L1253.1 1173.5 L1255.2 1173.8 L1256.6 1176.9 L1256.2 1169.5 L1255.2 1174.2 L1256.0 1168.6 L1257.6 1167.7 L1258.2 1166.2 L1260.2 1171.0 L1258.4 1169.7 L1262.1 1168.5 L1261.0 1168.4 L1260.9 1168.7 L1263.8 1166.6 L1260.7 1162.1 L1258.3 1166.0 L1264.3 1160.3 L1260.4 1164.8 L1261.6 1159.9 L1262.1 1160.0 L1263.7 1161.8 L1261.3 1161.6 L1265.0 1160.0 L1262.5 1161.2 L1263.4 1156.1 L1266.6 1158.3 L1267.6 1160.9 L1269.6 1157.4 L1267.7 1155.1 L1272.3 1156.5 L1272.3 1156.7 L1270.0 1152.9 L1274.7 1157.9 L1271.0 1155.5 L1274.8 1156.3 L1275.6 1154.8 L1276.6 1156.0 L1276.2 1154.1 L1274.3 1150.7 L1277.9 1150.8 L1277.1 1153.0 L1282.2 1153.5 L1277.8 1152.0 L1282.2 1152.5 L1281.7 1147.6 L1278.9 1152.3 L1279.3 1150.4 L1281.7 1152.7 L1280.2 1149.6 L1282.9 1149.0 L1281.9 1150.0 L1284.0 1149.4 L1288.4 1153.0 L1284.6 1152.0 L1286.0 1149.7 L1291.1 1153.1 L1288.5 1150.1 L1290.5 1150.2 L1292.3 1151.4 L1294.5 1148.5 L1292.8 1153.1 L1291.0 1149.8 L1294.8 1150.1 L1297.0 1146.9 L1300.5 1150.4 L1295.3 1152.0 L1299.3 1147.6 L1296.5 1149.3 L1302.2 1147.4 L1297.6 1149.5 L1300.5 1150.9 L1302.4 1148.3 L1305.2 1152.5 L1305.8 1147.3 L1301.6 1151.5 L1302.4 1147.8 L1308.0 1147.3 L1308.9 1144.9 L1309.8 1149.1 L1304.8 1149.0 L1306.2 1144.3 L1309.1 1147.4 L1310.7 1148.0 L1308.8 1144.5 L1311.5 1139.8 L1308.7 1144.2 L1312.0 1140.7 L1312.8 1144.9 L1315.3 1138.9 L1313.6 1142.8 L1311.5 1137.4 L1317.1 1139.3 L1314.5 1136.5 L1314.1 1138.3 L1314.4 1140.4 L1316.4 1135.7 L1314.8 1134.2 L1315.0 1138.3 L1315.2 1135.6 L1316.5 1137.2 L1317.3 1134.7 L1318.8 1128.9 L1320.0 1130.2 L1317.5 1134.4 L1318.7 1126.9 L1320.6 1132.6 L1320.7 1128.7 L1321.9 1125.9 L1323.5 1124.4 L1321.0 1123.1 L1325.3 1124.5 L1325.0 1122.4 L1324.5 1123.2 L1323.3 1124.6 L1319.6 1121.7 L1321.6 1125.4 L1324.4 1122.1 L1325.5 1117.0 L1323.0 1117.6 L1325.5 1118.7 L1325.8 1120.3 L1322.7 1117.9 L1325.2 1114.0 L1326.6 1114.4 L1324.6 1116.6 L1326.5 1110.7 L1328.0 1110.5 L1325.9 1115.1 L1329.4 1109.9 L1327.5 1109.9 L1331.0 1109.8 L1331.7 1108.4 L1326.5 1109.9 L1329.9 1110.4 L1330.2 1109.9 L1327.1 1105.7 L1330.3 1102.8 L1326.7 1104.8 L1327.8 1104.2 L1329.7 1106.3 L1330.3 1105.2 L1329.1 1103.4 L1330.6 1099.1 L1328.9 1099.0 L1331.0 1103.8 L1330.2 1097.9 L1330.6 1099.4 L1335.4 1097.7 L1334.1 1096.2 L1332.5 1098.7 L1336.4 1094.9 L1332.6 1093.8 L1333.6 1092.0 L1332.3 1092.8 L1336.8 1092.9 L1339.0 1091.9 L1335.5 1094.0 L1334.8 1093.4 L1337.1 1090.4 L1335.5 1087.0 L1338.9 1085.2 L1333.8 1086.0 L1337.4 1085.9 L1336.2 1084.4 L1337.0 1086.1 L1337.8 1082.6 L1336.3 1086.5 L1337.4 1080.7 L1337.3 1084.8 L1338.7 1079.6 L1337.9 1080.6 L1337.4 1078.7 L1338.4 1082.3 L1339.4 1079.3 L1343.6 1074.5 L1342.0 1077.6 L1342.2 1074.1 L1343.8 1078.1 L1344.8 1071.8 L1340.6 1076.7 L1342.8 1076.6 L1345.7 1075.2 L1342.7 1073.9 L1344.2 1067.1 L1341.3 1069.3 L1342.5 1068.1 L1344.5 1067.6 L1341.2 1068.8 L1342.9 1065.6 L1347.7 1065.1 L1343.9 1065.6 L1346.0 1061.4 L1347.9 1065.5 L1349.0 1065.6 L1350.5 1062.9 L1348.7 1058.2 L1349.7 1059.1 L1346.1 1057.1 L1349.7 1060.5 L1349.4 1059.4 L1347.6 1054.8 L1346.0 1059.8 L1350.7 1054.6 L1352.9 1055.2 L1350.1 1054.8 L1350.7 1051.7 L1348.5 1052.9 L1349.9 1049.2 L1353.6 1053.7 L1354.7 1052.4 L1348.0 1048.9 L1352.2 1052.7 L1352.1 1045.3 L1354.0 1047.3 L1354.1 1045.4 L1351.4 1048.0 L1354.8 1046.2 L1354.2 1046.3 L1350.7 1044.7 L1355.0 1042.9 L1351.0 1042.5 L1352.6 1043.1 L1351.3 1043.1 L1357.5 1039.2 L1356.8 1037.8 L1355.3 1038.1 L1355.6 1039.7 L1357.0 1036.8 L1357.4 1033.2 L1358.8 1037.9 L1359.3 1033.6 L1360.6 1034.6 L1361.3 1032.5 L1360.8 1033.5 L1355.7 1029.9 L1358.1 1031.6 L1359.1 1031.0 L1359.2 1026.7 L1360.4 1031.2 L1359.7 1030.6 L1359.3 1030.7 L1363.8 1027.4 L1358.9 1024.9 L1362.8 1026.8 L1360.2 1027.1 L1361.2 1027.5 L1359.8 1020.3 L1363.9 1023.1 L1364.0 1023.4 L1363.7 1019.9 L1363.8 1019.6 L1364.0 1019.6 L1363.0 1017.9 L1362.4 1021.5 L1361.9 1018.9 L1362.3 1019.2 L1362.1 1013.2 L1365.3 1016.2 L1362.3 1011.3 L1364.1 1013.2 L1361.6 1010.3 L1368.1 1011.1 L1363.7 1011.9 L1366.6 1009.1 L1367.7 1007.1 L1364.1 1011.2 L1365.6 1011.1 L1364.3 1004.9 L1366.7 1009.7 L1363.5 1004.5 L1369.7 1006.4 L1369.7 1005.5 L1368.4 1000.0 L1365.5 1003.3 L1365.1 1000.4 L1370.4 997.5 L1366.6 1002.7 L1368.3 998.4 L1368.4 996.6 L1371.3 995.2 L1368.5 997.0 L1368.4 998.1 L1371.0 993.6 L1367.6 993.8 L1369.2 993.4 L1372.9 995.3 L1370.7 994.6 L1373.8 992.9 L1368.4 993.3 L1375.4 990.8 L1374.7 987.2 L1370.3 990.3 L1371.3 990.6 L1374.3 985.9 L1369.7 986.1 L1373.9 982.7 L1372.7 987.9 L1371.7 985.0 L1373.0 983.5 L1373.4 981.1 L1373.3 983.5 L1374.6 982.6 L1376.3 978.7 L1372.5 978.4 L1377.5 977.7 L1377.0 980.3 L1379.1 976.9 L1375.8 972.1 L1374.6 976.1 L1377.1 970.8 L1373.7 972.1 L1376.0 971.6 L1379.0 974.7 L1376.6 971.3 L1375.9 974.1 L1380.5 971.9 L1381.1 966.7 L1378.0 966.2 L1375.6 969.1 L1382.6 967.9 L1380.8 967.5 L1379.2 961.7 L1378.7 962.9 L1377.3 962.6 L1377.8 962.0 L1379.2 964.9 L1381.9 963.5 L1382.3 957.8 L1379.6 958.9 L1382.5 961.4 L1382.7 958.6 L1384.2 960.2 L1380.0 956.7 L1380.9 955.2 L1383.1 958.0 L1380.8 952.0 L1381.2 957.1 L1380.9 950.5 L1386.6 952.9 L1381.9 952.4 L1384.8 951.2 L1387.2 952.3 L1384.8 952.1 L1382.6 950.2 L1383.1 948.2 L1387.4 946.1 L1387.5 948.0 L1387.6 948.3 L1386.6 941.1 L1382.5 943.3 L1387.5 939.7 L1384.0 940.0 L1387.0 937.7 L1385.7 942.5 L1390.9 938.3 L1390.0 938.0 L1386.9 935.0 L1388.0 939.9 L1387.7 934.9 L1389.3 938.8 L1389.6 933.9 L1390.1 936.1 L1392.3 934.7 L1390.5 935.4 L1386.6 931.0 L1387.5 932.0 L1390.8 930.2 L1394.7 930.1 L1391.7 926.2 L1394.8 927.4 L1394.4 925.1 L1393.3 926.8 L1389.6 923.0 L1392.0 929.0 L1394.5 926.2 L1395.5 923.6 L1389.7 923.8 L1393.8 924.4 L1392.8 924.0 L1391.2 919.5 L1391.8 918.5 L1391.6 919.2 L1395.9 916.1 L1391.4 915.7 L1393.7 920.2 L1394.5 917.6 L1395.5 913.8 L1393.2 911.6 L1397.1 915.2 L1392.9 911.4 L1397.8 912.2 L1399.9 910.7 L1397.6 906.8 L1400.6 908.6 L1396.3 910.5 L1395.5 906.2 L1397.4 909.2 L1401.3 906.1 L1400.6 905.0 L1401.4 903.2 L1397.3 905.7 L1400.0 900.8 L1401.7 905.5 L1402.5 902.8 L1401.6 902.2 L1401.7 902.8 L1397.2 901.7 L1398.6 902.4 L1403.4 901.1 L1399.5 897.7 L1402.5 894.5 L1401.4 896.7 L1399.5 896.2 L1399.7 891.5 L1400.3 895.1 L1398.8 891.8 L1401.4 893.3 L1401.9 891.7 L1402.1 892.6 L1404.5 888.2 L1404.2 889.8 L1402.1 889.1 L1406.1 886.6 L1403.5 890.3 L1402.8 885.7 L1405.0 889.0 L1402.3 887.2 L1408.6 882.8 L1405.6 881.5 L1403.0 884.3 L1407.9 879.9 L1403.2 879.7 L1406.0 880.0 L1408.3 880.0 L1408.3 1479.0 L1409.1 1478.9 L1409.9 1472.8 L1410.7 1482.4 L1411.5 1473.9 L1412.3 1484.2 L1413.1 1472.6 L1413.9 1479.9 L1414.7 1475.8 L1415.5 1481.4 L1416.3 1480.6 L1417.1 1482.2 L1417.9 1483.2 L1418.7 1485.3 L1419.5 1474.0 L1420.3 1475.5 L1421.1 1478.8 L1421.9 1484.6 L1422.7 1477.7 L1423.5 1475.2 L1424.3 1479.3 L1425.1 1476.6 L1426.0 1473.5 L1426.8 1483.0 L1427.6 1478.4 L1428.4 1483.5 L1429.2 1473.9 L1430.0 1476.9 L1430.8 1474.0 L1431.6 1483.5 L1432.4 1478.3 L1433.2 1480.4 L1434.0 1473.2 L1434.8 1478.2 L1435.6 1477.5 L1436.4 1481.7 L1437.2 1475.6 L1438.0 1485.3 L1438.8 1476.8 L1439.6 1479.2 L1440.4 1478.6 L1441.2 1477.0 L1442.0 1473.2 L1442.8 1473.0 L1443.6 1484.4 L1444.4 1485.2 L1445.2 1480.5 L1446.0 1474.2 L1446.8 1475.0 L1447.6 1476.7 L1448.4 1472.9 L1449.2 1476.9 L1450.0 1476.2 L1450.8 1476.7 L1451.6 1483.4 L1452.4 1479.8 L1453.2 1485.5 L1454.0 1476.5 L1454.8 1473.4 L1455.6 1482.4 L1456.4 1482.0 L1457.2 1483.1 L1458.0 1477.3 L1458.8 1483.1 L1459.6 1473.8 L1460.5 1481.9 L1461.3 1481.5 L1462.1 1479.9 L1462.9 1480.5 L1463.7 1478.5 L1464.5 1478.1 L1465.3 1478.7 L1466.1 1480.4 L1466.9 1483.5 L1467.7 1476.9 L1468.5 1479.7 L1469.3 1477.6 L1470.1 1474.7 L1470.9 1481.7 L1471.7 1472.6 L1472.5 1483.9 L1473.3 1473.1 L1474.1 1474.7 L1474.9 1482.2 L1475.7 1478.1 L1476.5 1476.4 L1477.3 1478.8 L1478.1 1484.6 L1478.9 1480.9 L1479.7 1477.2 L1480.5 1484.8 L1481.3 1475.7 L1482.1 1473.7 L1482.9 1482.0 L1483.7 1482.9 L1484.5 1482.8 L1485.3 1477.7 L1486.1 1481.4 L1486.9 1475.2 L1487.7 1476.0 L1488.5 1484.7 L1489.3 1483.6 L1490.1 1484.8 L1490.9 1479.7 L1491.7 1481.7 L1492.5 1477.2 L1493.3 1477.7 L1494.2 1484.6 L1495.0 1482.2 L1495.8 1484.7 L1496.6 1474.5 L1497.4 1477.9 L1498.2 1484.4 L1499.0 1484.6 L1499.8 1483.1 L1500.6 1484.0 L1501.4 1475.9 L1502.2 1481.8 L1503.0 1473.9 L1503.8 1478.5 L1504.6 1472.7 L1505.4 1478.1 L1506.2 1475.0 L1507.0 1477.8 L1507.8 1481.2 L1508.6 1481.3 L1509.4 1484.0 L1510.2 1484.6 L1511.0 1476.5 L1511.8 1476.8 L1512.6 1478.0 L1513.4 1475.8 L1514.2 1483.5 L1515.0 1482.8 L1515.8 1481.1 L1516.6 1480.9 L1517.4 1476.3 L1518.2 1476.1 L1519.0 1482.4 L1519.8 1473.7 L1520.6 1485.4 L1521.4 1474.4 L1522.2 1475.2 L1523.0 1482.4 L1523.8 1484.3 L1524.6 1474.5 L1525.4 1484.7 L1526.2 1479.1 L1527.0 1474.1 L1527.8 1479.6 L1528.7 1475.5 L1529.5 1480.9 L1530.3 1480.7 L1531.1 1483.4 L1531.9 1484.5 L1532.7 1483.7 L1533.5 1481.3 L1534.3 1482.0 L1535.1 1483.8 L1535.9 1483.4 L1536.7 1478.9 L1537.5 1484.7 L1538.3 1485.0 L1539.1 1475.1 L1539.9 1475.3 L1540.7 1480.5 L1541.5 1479.6 L1542.3 1478.0 L1543.1 1479.0 L1543.9 1475.2 L1544.7 1477.9 L1545.5 1480.2 L1546.3 1482.3 L1547.1 1481.7 L1547.9 1473.8 L1548.7 1475.2 L1549.5 1478.8 L1550.3 1482.5 L1551.1 1476.1 L1551.9 1482.1 L1552.7 1475.5 L1553.5 1476.4 L1554.3 1483.6 L1555.1 1475.1 L1555.9 1483.4 L1556.7 1479.7 L1557.5 1472.8 L1558.3 1478.6 L1559.1 1479.5 L1559.9 1474.1 L1560.7 1477.3 L1561.5 1478.8 L1562.3 1478.7 L1563.2 1484.5 L1564.0 1477.5 L1564.8 1484.2 L1565.6 1476.3 L1566.4 1482.2 L1567.2 1474.5 L1568.0 1480.1 L1568.8 1482.2 L1569.6 1483.3 L1570.4 1473.2 L1571.2 1482.2 L1572.0 1474.5 L1572.8 1485.1 L1573.6 1476.5 L1574.4 1483.6 L1575.2 1474.6 L1576.0 1485.3 L1576.8 1479.5 L1577.6 1475.4 L1578.4 1484.4 L1579.2 1482.8 L1580.0 1479.0 L1581.7 1479.0 L1581.7 1243.0 L1587.0 1227.0 L1584.1 1227.7 L1586.1 1223.9 L1587.3 1220.9 L1590.9 1225.1 L1587.3 1225.6 L1586.8 1219.7 L1591.5 1221.5 L1588.1 1222.8 L1588.2 1222.3 L1589.3 1220.7 L1591.3 1216.3 L1591.2 1216.9 L1592.2 1214.6 L1589.9 1212.0 L1591.3 1218.6 L1588.2 1216.6 L1590.1 1215.0 L1592.7 1215.0 L1591.5 1210.7 L1594.5 1211.7 L1593.0 1210.2 L1594.3 1209.1 L1590.2 1207.9 L1591.4 1205.2 L1591.7 1203.9 L1593.5 1206.0 L1595.2 1207.6 L1592.8 1204.2 L1590.2 1206.2 L1590.4 1200.2 L1596.2 1203.1 L1591.9 1203.6 L1592.9 1203.2 L1592.4 1203.0 L1595.3 1200.9 L1592.2 1198.6 L1598.0 1196.7 L1593.3 1199.6 L1596.6 1198.3 L1598.6 1195.4 L1596.7 1198.7 L1600.5 1192.4 L1600.9 1197.9 L1597.9 1191.5 L1597.4 1192.5 L1598.2 1193.8 L1598.5 1193.5 L1599.5 1192.1 L1603.9 1193.3 L1602.6 1192.4 L1606.6 1189.2 L1605.6 1187.8 L1604.0 1191.0 L1600.8 1187.0 L1605.6 1187.1 L1604.9 1186.5 L1608.1 1184.5 L1602.5 1183.2 L1604.2 1181.4 L1604.5 1185.6 L1608.3 1185.7 L1608.2 1184.0 L1608.3 1184.1 L1612.8 1182.0 L1608.7 1179.4 L1612.0 1176.8 L1610.0 1178.0 L1613.1 1179.1 L1614.1 1175.8 L1612.8 1179.2 L1615.8 1176.2 L1617.2 1180.5 L1617.1 1181.0 L1615.3 1176.2 L1619.9 1175.5 L1618.8 1175.4 L1617.3 1178.5 L1619.0 1173.4 L1619.9 1175.2 L1620.1 1175.0 L1623.7 1170.3 L1620.4 1170.8 L1623.6 1169.6 L1627.1 1171.4 L1622.1 1175.0 L1624.9 1175.2 L1624.8 1169.8 L1626.9 1169.8 L1628.3 1166.3 L1625.8 1169.8 L1627.7 1170.5 L1630.6 1173.8 L1629.2 1171.7 L1629.8 1172.7 L1633.9 1171.7 L1629.4 1171.0 L1632.0 1173.7 L1634.8 1167.3 L1632.8 1173.2 L1632.4 1172.8 L1634.2 1170.4 L1636.4 1171.6 L1639.2 1171.1 L1641.6 1174.3 L1638.9 1170.3 L1638.2 1173.7 L1641.8 1174.7 L1644.6 1173.1 L1643.1 1173.4 L1643.8 1173.2 L1643.5 1174.1 L1648.5 1172.6 L1647.6 1169.8 L1647.2 1170.0 L1650.7 1172.5 L1649.6 1173.5 L1646.3 1173.6 L1650.5 1172.7 L1648.8 1173.8 L1649.0 1170.3 L1651.3 1170.7 L1648.0 1169.4 L1651.9 1167.2 L1652.9 1165.7 L1648.7 1165.0 L1656.5 1165.6 L1654.0 1163.1 L1656.4 1166.5 L1656.3 1164.6 L1652.8 1160.2 L1653.3 1161.4 L1655.8 1164.6 L1659.4 1161.3 L1660.3 1159.6 L1656.0 1160.5 L1656.8 1156.4 L1656.8 1161.7 L1656.8 1160.7 L1656.0 1157.2 L1662.4 1154.9 L1658.8 1156.1 L1663.2 1156.4 L1662.7 1158.2 L1663.1 1155.5 L1661.5 1150.2 L1660.7 1153.2 L1661.0 1152.4 L1663.6 1152.3 L1662.5 1154.4 L1662.1 1147.8 L1663.0 1147.5 L1662.4 1147.1 L1664.6 1151.3 L1664.3 1147.7 L1662.9 1146.6 L1666.6 1145.8 L1669.2 1148.3 L1667.0 1147.3 L1668.3 1140.7 L1669.5 1144.9 L1671.5 1141.9 L1669.0 1142.1 L1667.8 1141.0 L1666.7 1138.7 L1670.9 1142.3 L1670.8 1135.6 L1673.5 1138.1 L1667.6 1137.0 L1668.9 1133.9 L1673.4 1137.8 L1673.0 1131.1 L1676.1 1134.6 L1671.6 1134.5 L1672.7 1133.0 L1675.1 1134.7 L1677.4 1130.5 L1676.7 1127.2 L1675.7 1132.1 L1678.4 1128.0 L1677.9 1129.3 L1680.3 1128.0 L1679.8 1126.7 L1680.3 1126.4 L1677.5 1123.3 L1680.6 1126.4 L1675.3 1124.2 L1679.4 1124.3 L1676.7 1123.7 L1676.9 1125.1 L1682.7 1121.3 L1680.9 1122.3 L1679.3 1120.3 L1677.1 1116.5 L1679.7 1115.6 L1682.5 1114.5 L1683.3 1118.0 L1684.1 1114.5 L1678.9 1111.6 L1682.2 1112.9 L1681.1 1110.4 L1682.6 1116.1 L1682.6 1111.4 L1685.5 1112.8 L1684.2 1108.0 L1679.6 1108.9 L1686.9 1109.3 L1684.6 1109.8 L1680.1 1105.0 L1685.1 1104.7 L1680.2 1105.9 L1685.1 1108.5 L1687.8 1103.8 L1684.2 1101.3 L1687.4 1099.6 L1683.7 1103.0 L1684.2 1100.8 L1684.7 1103.6 L1685.6 1103.0 L1684.8 1096.2 L1689.9 1096.5 L1684.9 1098.5 L1688.0 1092.9 L1686.9 1099.0 L1687.8 1091.0 L1686.2 1096.6 L1691.1 1094.6 L1685.3 1094.1 L1685.5 1089.8 L1687.8 1093.0 L1690.9 1092.2 L1687.9 1087.8 L1691.0 1087.7 L1688.5 1090.4 L1689.7 1088.7 L1691.9 1088.1 L1692.7 1085.0 L1694.1 1082.7 L1689.9 1080.2 L1688.7 1080.1 L1692.7 1084.6 L1694.9 1080.9 L1695.8 1080.2 L1691.2 1077.6 L1691.8 1075.4 L1695.3 1075.8 L1695.1 1075.6 L1694.3 1074.9 L1694.1 1078.8 L1694.7 1072.0 L1690.9 1075.3 L1695.4 1072.2 L1692.9 1070.3 L1698.3 1073.0 L1697.2 1068.8 L1696.7 1071.3 L1695.2 1073.8 L1698.4 1068.1 L1694.2 1068.6 L1696.9 1067.1 L1693.1 1068.4 L1698.8 1069.1 L1698.3 1062.1 L1700.6 1065.4 L1696.4 1062.1 L1694.1 1063.3 L1694.8 1063.3 L1697.6 1064.6 L1699.7 1059.5 L1697.5 1062.8 L1697.9 1061.2 L1700.8 1060.9 L1697.9 1059.9 L1698.1 1058.9 L1700.6 1055.7 L1700.2 1053.3 L1697.7 1057.3 L1699.7 1051.8 L1697.2 1052.3 L1703.8 1054.4 L1699.4 1052.2 L1699.4 1053.0 L1703.8 1047.2 L1700.3 1049.0 L1702.0 1049.7 L1704.2 1045.1 L1703.5 1045.3 L1704.7 1043.3 L1702.5 1045.4 L1704.1 1043.2 L1704.5 1047.2 L1707.5 1040.8 L1705.2 1044.9 L1703.1 1044.7 L1704.5 1044.6 L1703.2 1043.1 L1704.5 1042.2 L1709.0 1039.8 L1704.8 1039.8 L1707.6 1034.2 L1709.5 1035.6 L1706.9 1034.1 L1708.0 1037.3 L1706.0 1035.8 L1705.1 1033.5 L1709.2 1029.2 L1708.8 1029.3 L1711.8 1031.7 L1711.8 1027.9 L1706.1 1029.4 L1713.4 1028.3 L1712.7 1029.1 L1711.0 1030.0 L1708.2 1024.9 L1712.4 1026.5 L1709.8 1022.5 L1712.4 1021.6 L1715.4 1022.8 L1709.6 1023.5 L1712.6 1025.0 L1712.8 1017.4 L1709.6 1023.0 L1710.1 1019.3 L1713.1 1020.2 L1716.3 1016.7 L1713.2 1018.3 L1711.6 1018.2 L1715.2 1017.7 L1716.6 1015.9 L1716.7 1015.2 L1712.8 1010.7 L1714.1 1015.4 L1713.8 1014.9 L1718.0 1008.4 L1714.2 1010.4 L1718.8 1009.6 L1718.6 1009.6 L1718.7 1007.7 L1716.9 1004.4 L1716.7 1004.1 L1715.2 1005.7 L1719.0 1002.2 L1715.9 1001.6 L1720.5 1006.9 L1720.4 1002.1 L1718.2 1002.5 L1717.6 1001.0 L1721.5 999.5 L1720.6 998.9 L1717.0 1001.4 L1717.8 996.1 L1718.9 997.5 L1720.5 998.2 L1721.7 997.1 L1717.7 995.2 L1718.1 995.5 L1719.8 994.0 L1724.6 992.7 L1722.7 993.0 L1720.9 991.4 L1724.8 992.5 L1725.6 987.9 L1721.9 991.7 L1723.8 991.3 L1723.7 988.5 L1724.7 984.5 L1726.3 984.3 L1724.2 986.7 L1725.4 983.0 L1723.7 983.2 L1725.2 980.2 L1725.1 985.1 L1722.1 981.9 L1724.7 980.3 L1728.9 981.6 L1725.9 979.2 L1724.8 981.1 L1727.1 980.9 L1728.4 973.6 L1730.3 974.7 L1726.2 977.2 L1728.0 974.9 L1729.0 970.4 L1726.3 974.0 L1731.9 973.4 L1730.9 969.2 L1730.8 971.4 L1727.6 968.2 L1727.9 970.5 L1734.1 968.3 L1732.4 971.2 L1730.5 969.2 L1728.2 963.6 L1733.8 966.9 L1735.0 964.1 L1731.3 965.7 L1732.2 962.7 L1733.2 964.0 L1730.8 958.2 L1732.9 963.4 L1730.8 963.3 L1731.1 956.6 L1736.0 958.0 L1733.7 960.3 L1735.9 957.3 L1736.8 955.0 L1732.7 958.2 L1735.6 952.5 L1733.8 957.2 L1735.3 955.1 L1732.1 952.8 L1734.5 948.6 L1732.8 949.8 L1736.2 949.5 L1738.0 947.7 L1735.9 945.6 L1739.3 945.0 L1740.7 945.1 L1737.8 949.8 L1736.1 948.2 L1735.1 943.4 L1741.2 945.5 L1740.1 944.3 L1740.0 941.4 L1737.2 944.6 L1737.3 939.6 L1742.9 941.7 L1744.1 940.0 L1740.3 937.1 L1739.3 935.9 L1738.1 937.3 L1742.5 933.5 L1741.9 932.9 L1744.2 932.6 L1741.8 935.1 L1743.0 933.2 L1739.9 933.1 L1743.9 933.0 L1744.6 929.6 L1740.9 931.5 L1741.0 930.5 L1746.6 929.7 L1740.9 925.7 L1747.3 924.9 L1746.0 926.6 L1746.0 927.0 L1744.0 925.7 L1742.6 921.8 L1742.5 923.1 L1749.0 919.7 L1745.8 920.3 L1748.4 917.2 L1744.6 921.8 L1746.9 920.4 L1748.3 918.9 L1743.7 917.4 L1746.8 914.4 L1749.4 914.7 L1748.1 916.9 L1749.4 913.7 L1748.8 917.0 L1751.6 913.4 L1744.7 912.6 L1746.4 909.9 L1746.2 909.8 L1745.1 911.0 L1751.2 906.2 L1748.8 909.3 L1748.2 907.2 L1748.2 907.1 L1747.2 905.4 L1750.5 903.5 L1746.6 906.4 L1751.4 904.2 L1749.4 901.0 L1748.3 902.0 L1749.6 902.2 L1749.6 901.3 L1749.6 902.5 L1749.6 901.0 L1749.5 897.0 L1749.5 1479.0 L1750.3 1484.6 L1751.1 1484.1 L1751.9 1479.1 L1752.7 1484.8 L1753.5 1481.9 L1754.3 1484.2 L1755.1 1479.3 L1755.9 1473.5 L1756.7 1473.5 L1757.5 1483.4 L1758.3 1485.0 L1759.1 1477.9 L1759.9 1484.0 L1760.7 1484.3 L1761.5 1476.6 L1762.4 1482.4 L1763.2 1482.6 L1764.0 1481.2 L1764.8 1475.5 L1765.6 1473.2 L1766.4 1476.8 L1767.2 1476.0 L1768.0 1479.3 L1768.8 1477.1 L1769.6 1477.7 L1770.4 1476.6 L1771.2 1474.3 L1772.0 1476.1 L1772.8 1481.2 L1773.6 1476.2 L1774.4 1484.1 L1775.2 1483.8 L1776.0 1478.5 L1776.8 1476.3 L1777.6 1481.0 L1778.4 1484.1 L1779.2 1483.1 L1780.0 1475.2 L1780.8 1475.3 L1781.6 1473.1 L1782.4 1484.8 L1783.2 1476.1 L1784.0 1477.6 L1784.8 1482.5 L1785.6 1476.3 L1786.4 1481.9 L1787.3 1472.7 L1788.1 1477.8 L1788.9 1472.9 L1789.7 1483.2 L1790.5 1476.2 L1791.3 1483.1 L1792.1 1482.3 L1792.9 1473.9 L1793.7 1476.4 L1794.5 1482.8 L1795.3 1481.4 L1796.1 1478.0 L1796.9 1474.2 L1797.7 1474.7 L1798.5 1477.0 L1799.3 1478.9 L1800.1 1481.0 L1800.9 1483.8 L1801.7 1481.5 L1802.5 1479.7 L1803.3 1479.4 L1804.1 1480.5 L1804.9 1473.2 L1805.7 1473.1 L1806.5 1479.6 L1807.3 1478.1 L1808.1 1483.8 L1808.9 1475.5 L1809.7 1477.0 L1810.5 1475.8 L1811.3 1481.0 L1812.2 1482.9 L1813.0 1473.8 L1813.8 1477.5 L1814.6 1481.3 L1815.4 1482.1 L1816.2 1482.5 L1817.0 1474.6 L1817.8 1481.9 L1818.6 1478.4 L1819.4 1484.0 L1820.2 1475.0 L1821.0 1483.4 L1821.8 1484.4 L1822.6 1480.4 L1823.4 1474.7 L1824.2 1477.0 L1825.0 1477.3 L1825.8 1484.0 L1826.6 1474.7 L1827.4 1477.9 L1828.2 1477.3 L1829.0 1479.4 L1829.8 1482.0 L1830.6 1472.9 L1831.4 1475.5 L1832.2 1473.6 L1833.0 1478.9 L1833.8 1480.9 L1834.6 1482.7 L1835.4 1481.9 L1836.2 1474.6 L1837.1 1485.4 L1837.9 1472.7 L1838.7 1475.0 L1839.5 1480.7 L1840.3 1480.9 L1841.1 1477.6 L1841.9 1481.4 L1842.7 1478.4 L1843.5 1476.6 L1844.3 1476.6 L1845.1 1478.1 L1845.9 1473.9 L1846.7 1481.8 L1847.5 1474.7 L1848.3 1480.0 L1849.1 1484.6 L1849.9 1483.1 L1850.7 1483.1 L1851.5 1474.9 L1852.3 1483.0 L1853.1 1472.7 L1853.9 1475.4 L1854.7 1476.1 L1855.5 1481.3 L1856.3 1485.3 L1857.1 1475.3 L1857.9 1479.0 L1858.7 1476.2 L1859.5 1481.9 L1860.3 1472.6 L1861.2 1484.3 L1862.0 1476.4 L1862.8 1474.8 L1863.6 1483.2 L1864.4 1482.0 L1865.2 1482.7 L1866.0 1483.9 L1866.8 1478.4 L1867.6 1478.1 L1868.4 1482.8 L1869.2 1478.9 L1870.0 1475.7 L1870.8 1480.5 L1871.6 1478.2 L1872.4 1482.4 L1873.2 1483.8 L1874.0 1482.8 L1874.8 1473.4 L1875.6 1479.7 L1876.4 1478.3 L1877.2 1473.1 L1878.0 1476.2 L1878.8 1472.6 L1879.6 1481.7 L1880.4 1475.3 L1881.2 1474.8 L1882.0 1483.8 L1882.8 1476.0 L1883.6 1481.4 L1884.4 1481.1 L1885.2 1480.7 L1886.1 1473.5 L1886.9 1475.3 L1887.7 1483.2 L1888.5 1477.6 L1889.3 1476.4 L1890.1 1478.9 L1890.9 1473.0 L1891.7 1481.7 L1892.5 1482.5 L1893.3 1485.1 L1894.1 1476.6 L1894.9 1481.5 L1895.7 1484.7 L1896.5 1483.7 L1897.3 1478.5 L1898.1 1484.9 L1898.9 1479.6 L1899.7 1479.8 L1900.5 1480.0 L1901.3 1474.9 L1902.1 1477.6 L1902.9 1479.0 L1903.7 1482.7 L1904.5 1479.8 L1905.3 1477.0 L1906.1 1485.1 L1906.9 1473.5 L1907.7 1474.8 L1908.5 1477.0 L1909.3 1485.2 L1910.1 1478.6 L1911.0 1477.7 L1911.8 1483.2 L1912.6 1475.5 L1913.4 1482.9 L1914.2 1473.5 L1915.0 1480.2 L1915.8 1484.7 L1916.6 1480.3 L1917.4 1475.7 L1918.2 1475.3 L1919.0 1483.0 L1919.8 1476.0 L1920.6 1484.6 L1921.4 1478.1 L1922.2 1473.8 L1923.0 1479.0 L1925.0 1479.0 L1925.0 1350.0 L1928.0 1333.0 L1927.9 1328.8 L1931.5 1331.6 L1925.9 1330.7 L1931.7 1331.9 L1927.1 1331.1 L1925.7 1329.1 L1926.6 1327.6 L1931.8 1327.3 L1929.1 1328.0 L1927.9 1326.6 L1927.9 1325.7 L1929.8 1326.6 L1933.0 1324.4 L1929.4 1319.6 L1928.7 1324.0 L1929.5 1318.0 L1930.9 1317.0 L1932.4 1321.6 L1930.7 1321.0 L1932.8 1315.1 L1932.8 1313.9 L1930.2 1317.6 L1928.9 1316.8 L1930.9 1316.6 L1929.6 1311.7 L1931.3 1313.4 L1930.8 1310.2 L1931.2 1312.0 L1927.9 1309.2 L1930.4 1311.3 L1932.3 1305.2 L1933.5 1309.1 L1931.5 1304.8 L1934.7 1304.5 L1931.8 1303.0 L1931.9 1306.5 L1931.1 1306.3 L1930.8 1303.0 L1935.0 1302.9 L1929.7 1303.2 L1934.7 1301.7 L1933.9 1300.7 L1932.6 1298.2 L1935.9 1295.2 L1935.0 1295.1 L1937.8 1297.5 L1935.5 1297.2 L1935.2 1291.1 L1935.6 1295.1 L1934.8 1292.2 L1938.7 1291.7 L1935.7 1295.4 L1934.8 1291.1 L1937.9 1287.9 L1938.7 1288.3 L1935.4 1290.8 L1935.9 1291.3 L1941.9 1286.6 L1942.6 1286.2 L1939.5 1283.3 L1938.4 1288.7 L1942.1 1283.1 L1938.9 1287.0 L1943.0 1285.3 L1938.5 1281.1 L1943.3 1281.6 L1939.1 1278.7 L1943.3 1282.8 L1943.1 1279.5 L1945.2 1279.2 L1940.9 1277.8 L1942.0 1274.7 L1942.1 1276.3 L1945.0 1278.3 L1948.2 1273.7 L1945.2 1278.7 L1945.6 1273.6 L1944.2 1276.7 L1947.7 1271.0 L1945.0 1270.8 L1944.8 1271.5 L1945.3 1270.1 L1952.7 1271.0 L1952.1 1268.6 L1949.4 1267.0 L1953.6 1267.9 L1951.3 1269.6 L1953.2 1266.7 L1954.1 1271.1 L1953.2 1268.9 L1953.0 1263.2 L1955.3 1263.9 L1952.2 1265.1 L1953.1 1265.2 L1956.7 1264.1 L1955.7 1267.2 L1959.5 1262.5 L1959.6 1263.5 L1955.3 1263.9 L1957.9 1264.2 L1959.7 1262.0 L1956.6 1259.1 L1960.3 1256.4 L1960.2 1256.5 L1962.9 1260.5 L1964.4 1256.3 L1964.0 1256.3 L1964.1 1254.2 L1966.1 1258.4 L1966.6 1260.6 L1966.1 1256.4 L1968.9 1253.3 L1965.4 1254.0 L1971.0 1254.5 L1967.7 1255.8 L1969.2 1254.2 L1967.8 1254.1 L1974.2 1254.8 L1975.7 1254.5 L1970.8 1251.0 L1972.1 1249.8 L1974.1 1256.0 L1972.2 1250.2 L1974.1 1253.8 L1974.6 1248.8 L1975.5 1249.2 L1982.1 1250.5 L1981.0 1249.9 L1978.0 1250.8 L1982.1 1246.5 L1980.7 1251.6 L1979.4 1249.4 L1982.3 1251.1 L1984.3 1248.2 L1986.7 1246.9 L1987.9 1249.8 L1985.0 1248.7 L1988.4 1248.2 L1984.2 1247.0 L1986.9 1246.3 L1991.0 1243.4 L1990.7 1248.4 L1990.2 1245.1 L1994.5 1245.1 L1994.2 1245.6 L1992.1 1241.9 L1993.6 1246.2 L1995.7 1242.5 L1995.0 1246.6 L1996.2 1245.7 L1997.3 1242.5 L1996.0 1245.5 L2000.0 1240.6 L1997.7 1239.0 L1997.5 1243.9 L1997.8 1242.8 L2002.1 1242.0 L1999.6 1236.6 L1998.3 1238.1 L2003.0 1239.9 L2000.1 1234.8 L2000.1 1236.0 L2001.1 1233.3 L2005.9 1235.0 L2006.6 1232.0 L2004.2 1230.5 L2006.0 1230.7 L2003.6 1227.5 L2003.6 1232.7 L2006.8 1228.7 L2005.0 1225.5 L2004.5 1231.8 L2005.7 1228.0 L2004.0 1224.9 L2005.6 1223.5 L2005.6 1226.0 L2007.1 1226.3 L2012.5 1222.5 L2008.7 1220.7 L2008.6 1221.2 L2013.7 1224.0 L2012.5 1225.0 L2011.8 1220.9 L2011.1 1217.5 L2013.5 1218.6 L2014.2 1221.2 L2013.1 1221.2 L2015.8 1218.0 L2010.8 1219.2 L2016.3 1216.9 L2011.4 1216.6 L2012.5 1214.7 L2018.1 1214.1 L2012.4 1215.8 L2016.3 1208.4 L2012.9 1208.9 L2011.8 1211.6 L2012.3 1209.9 L2018.5 1208.7 L2017.9 1207.6 L2018.4 1210.3 L2020.8 1207.4 L2020.8 1205.0 L2020.8 1203.3 L2017.7 1200.9 L2021.9 1201.8 L2019.9 1204.9 L2021.1 1203.5 L2016.0 1202.9 L2022.8 1203.0 L2017.9 1198.1 L2019.8 1196.6 L2022.7 1198.6 L2017.4 1196.6 L2021.9 1194.5 L2021.3 1197.2 L2023.8 1193.1 L2019.4 1195.2 L2025.6 1192.4 L2023.9 1195.3 L2025.2 1194.4 L2022.5 1189.8 L2025.0 1193.1 L2024.2 1189.9 L2021.9 1186.4 L2021.7 1188.8 L2028.8 1187.4 L2022.8 1183.7 L2028.3 1184.6 L2023.8 1185.4 L2024.6 1187.2 L2023.6 1182.2 L2022.8 1183.9 L2024.3 1181.4 L2027.2 1181.5 L2027.8 1180.2 L2027.7 1176.2 L2026.3 1177.8 L2026.6 1178.0 L2027.1 1175.0 L2029.9 1176.2 L2032.0 1176.1 L2029.0 1174.1 L2033.1 1174.4 L2028.8 1175.5 L2028.8 1169.4 L2029.2 1171.4 L2031.2 1169.4 L2030.6 1169.4 L2032.5 1172.0 L2032.0 1167.2 L2035.4 1167.6 L2032.5 1167.1 L2029.7 1168.9 L2032.3 1165.3 L2033.3 1168.2 L2035.5 1165.9 L2035.4 1160.6 L2036.9 1162.8 L2032.1 1162.4 L2037.2 1159.2 L2036.8 1162.7 L2031.9 1159.0 L2034.2 1162.0 L2034.5 1160.2 L2037.3 1157.2 L2036.1 1158.4 L2038.7 1158.9 L2035.6 1155.8 L2034.8 1152.0 L2040.0 1151.9 L2037.2 1152.5 L2035.8 1151.0 L2040.1 1154.0 L2040.4 1149.5 L2036.3 1148.0 L2035.9 1151.8 L2037.9 1147.2 L2039.2 1147.4 L2036.2 1145.9 L2037.6 1145.7 L2037.8 1143.1 L2039.3 1145.7 L2040.2 1140.9 L2043.2 1143.6 L2037.2 1144.6 L2043.7 1141.2 L2038.4 1143.5 L2038.9 1139.8 L2043.1 1141.3 L2043.1 1135.8 L2040.4 1136.5 L2042.6 1139.7 L2044.5 1138.9 L2045.5 1136.9 L2042.0 1138.3 L2041.1 1130.9 L2043.5 1129.8 L2041.3 1133.0 L2042.8 1128.5 L2042.2 1132.8 L2046.6 1131.7 L2041.8 1130.9 L2042.9 1131.4 L2044.3 1126.8 L2046.9 1127.9 L2045.9 1125.9 L2047.2 1127.5 L2044.6 1124.2 L2048.3 1124.6 L2043.1 1122.9 L2048.6 1124.2 L2046.3 1121.3 L2046.6 1120.7 L2048.6 1118.1 L2049.0 1121.5 L2048.1 1117.1 L2046.1 1116.6 L2047.1 1119.1 L2046.4 1114.5 L2047.1 1117.4 L2050.0 1112.7 L2049.1 1109.9 L2046.5 1115.5 L2047.7 1109.3 L2049.8 1115.5 L2049.6 1110.8 L2048.6 1113.1 L2051.5 1113.0 L2052.4 1105.9 L2047.8 1110.3 L2053.2 1109.6 L2053.2 1108.3 L2048.1 1104.7 L2052.7 1104.5 L2053.8 1101.7 L2049.1 1101.2 L2051.4 1100.0 L2054.0 1104.2 L2053.1 1100.8 L2052.5 1096.4 L2055.2 1096.9 L2053.4 1100.9 L2056.8 1095.5 L2051.4 1096.6 L2052.2 1098.4 L2057.3 1096.7 L2056.2 1092.0 L2054.7 1091.8 L2054.4 1090.2 L2054.4 1093.1 L2058.5 1089.7 L2056.9 1091.4 L2057.2 1088.6 L2055.4 1089.2 L2056.4 1086.7 L2057.1 1090.6 L2060.0 1085.4 L2054.4 1085.7 L2061.2 1084.2 L2056.0 1082.7 L2061.4 1086.5 L2058.8 1086.5 L2061.7 1084.2 L2057.4 1081.7 L2063.4 1080.8 L2057.2 1077.7 L2057.5 1082.0 L2060.1 1080.2 L2057.8 1076.9 L2061.4 1078.7 L2064.4 1075.5 L2058.9 1075.6 L2061.6 1071.4 L2058.9 1073.5 L2060.7 1076.9 L2063.0 1072.0 L2065.5 1074.1 L2059.4 1072.3 L2065.8 1071.9 L2064.2 1068.4 L2060.9 1067.7 L2062.4 1070.6 L2067.9 1067.1 L2064.6 1068.0 L2063.6 1062.8 L2067.5 1068.0 L2062.9 1065.0 L2065.2 1063.5 L2064.3 1063.0 L2069.2 1064.2 L2066.4 1057.6 L2068.7 1062.1 L2064.0 1061.4 L2063.3 1060.0 L2065.8 1061.1 L2066.5 1058.5 L2066.1 1056.9 L2067.9 1054.2 L2066.9 1052.1 L2070.8 1055.3 L2066.2 1055.9 L2072.1 1055.8 L2071.5 1049.9 L2068.0 1052.9 L2072.0 1051.0 L2067.1 1052.3 L2074.1 1049.3 L2067.0 1048.7 L2069.8 1051.1 L2069.4 1047.4 L2070.2 1048.4 L2073.4 1045.7 L2072.3 1045.1 L2073.2 1042.3 L2069.5 1041.9 L2072.3 1043.3 L2076.1 1039.1 L2070.8 1043.7 L2073.5 1043.2 L2070.6 1038.6 L2076.9 1039.5 L2073.9 1039.6 L2073.4 1039.6 L2072.3 1036.2 L2073.1 1037.7 L2073.1 1033.6 L2075.3 1030.7 L2078.1 1035.3 L2074.5 1030.5 L2079.1 1029.7 L2073.7 1028.8 L2076.4 1033.1 L2075.0 1031.5 L2077.7 1030.7 L2081.3 1026.9 L2075.5 1026.7 L2078.5 1025.2 L2079.5 1023.7 L2076.6 1024.5 L2076.0 1022.0 L2078.6 1019.3 L2077.1 1024.1 L2077.1 1022.2 L2083.3 1021.4 L2079.3 1017.9 L2080.6 1018.0 L2082.2 1016.9 L2081.0 1015.8 L2079.2 1020.2 L2081.6 1013.2 L2077.9 1013.7 L2084.5 1012.2 L2082.9 1017.6 L2080.0 1011.3 L2084.8 1014.2 L2085.2 1010.1 L2084.0 1013.4 L2084.9 1008.8 L2085.5 1010.5 L2081.5 1007.5 L2082.1 1007.8 L2082.5 1004.5 L2084.9 1008.1 L2085.5 1007.9 L2082.3 1006.5 L2086.3 1007.2 L2084.6 1005.9 L2086.3 1003.4 L2082.6 1001.2 L2084.4 997.9 L2087.1 999.8 L2086.0 1003.1 L2086.9 996.9 L2086.0 996.8 L2089.1 996.4 L2085.7 996.2 L2088.4 996.4 L2088.4 991.3 L2089.4 993.8 L2087.6 994.6 L2088.3 994.3 L2091.6 991.8 L2090.2 987.5 L2086.7 986.9 L2088.9 990.6 L2090.8 987.9 L2089.0 984.7 L2089.9 983.4 L2091.8 989.7 L2088.0 985.8 L2087.5 984.6 L2090.1 985.7 L2094.0 984.6 L2094.4 984.2 L2093.4 979.7 L2090.1 980.6 L2092.0 980.0 L2093.3 980.0 L2093.3 1479.0 L2094.1 1475.2 L2094.9 1474.0 L2095.7 1480.5 L2096.5 1484.2 L2097.3 1477.8 L2098.1 1484.4 L2098.9 1476.7 L2099.7 1481.3 L2100.5 1483.8 L2101.3 1474.8 L2102.1 1482.0 L2102.9 1476.2 L2103.7 1477.7 L2104.5 1474.4 L2105.4 1484.2 L2106.2 1476.3 L2107.0 1477.7 L2107.8 1483.5 L2108.6 1477.8 L2109.4 1480.0 L2110.2 1480.1 L2111.0 1482.8 L2111.8 1478.3 L2112.6 1484.0 L2113.4 1475.5 L2114.2 1485.4 L2115.0 1472.6 L2115.8 1483.1 L2116.6 1479.2 L2117.4 1483.9 L2118.2 1474.6 L2119.0 1473.7 L2119.8 1482.5 L2120.6 1477.9 L2121.4 1476.1 L2122.2 1483.5 L2123.0 1480.3 L2123.8 1475.2 L2124.6 1480.0 L2125.4 1480.3 L2126.2 1473.1 L2127.0 1479.3 L2127.8 1480.3 L2128.6 1474.9 L2129.5 1484.2 L2130.3 1477.4 L2131.1 1479.8 L2131.9 1476.6 L2132.7 1478.1 L2133.5 1485.2 L2134.3 1477.5 L2135.1 1478.6 L2135.9 1475.8 L2136.7 1477.8 L2137.5 1476.2 L2138.3 1485.0 L2139.1 1484.7 L2139.9 1474.4 L2140.7 1482.5 L2141.5 1484.1 L2142.3 1481.2 L2143.1 1484.7 L2143.9 1476.0 L2144.7 1484.4 L2145.5 1482.7 L2146.3 1481.3 L2147.1 1478.5 L2147.9 1481.9 L2148.7 1484.8 L2149.5 1474.8 L2150.3 1472.9 L2151.1 1480.8 L2151.9 1473.3 L2152.7 1484.2 L2153.6 1483.6 L2154.4 1485.5 L2155.2 1474.2 L2156.0 1478.1 L2156.8 1473.3 L2157.6 1481.6 L2158.4 1474.0 L2159.2 1473.9 L2160.0 1475.2 L2160.8 1474.6 L2161.6 1483.8 L2162.4 1484.5 L2163.2 1481.6 L2164.0 1481.6 L2164.8 1478.1 L2165.6 1475.1 L2166.4 1475.0 L2167.2 1473.6 L2168.0 1473.7 L2168.8 1476.2 L2169.6 1479.7 L2170.4 1473.4 L2171.2 1479.8 L2172.0 1479.0 L2172.8 1476.5 L2173.6 1473.5 L2174.4 1477.7 L2175.2 1483.6 L2176.0 1482.1 L2176.8 1481.7 L2177.7 1476.4 L2178.5 1474.7 L2179.3 1482.5 L2180.1 1473.6 L2180.9 1478.5 L2181.7 1477.2 L2182.5 1475.0 L2183.3 1473.2 L2184.1 1476.4 L2184.9 1479.9 L2185.7 1479.0 L2186.5 1483.1 L2187.3 1480.8 L2188.1 1485.0 L2188.9 1475.4 L2189.7 1476.4 L2190.5 1477.1 L2191.3 1474.4 L2192.1 1476.1 L2192.9 1479.0 L2193.7 1477.5 L2194.5 1476.3 L2195.3 1482.6 L2196.1 1482.0 L2196.9 1484.5 L2197.7 1479.6 L2198.5 1480.1 L2199.3 1480.3 L2200.1 1484.5 L2200.9 1476.8 L2201.8 1483.6 L2202.6 1479.1 L2203.4 1482.5 L2204.2 1482.7 L2205.0 1476.3 L2205.8 1480.2 L2206.6 1478.4 L2207.4 1474.6 L2208.2 1477.5 L2209.0 1484.9 L2209.8 1476.9 L2210.6 1474.2 L2211.4 1481.4 L2212.2 1478.6 L2213.0 1480.4 L2213.8 1474.2 L2214.6 1479.3 L2215.4 1478.3 L2216.2 1479.9 L2217.0 1478.7 L2217.8 1479.7 L2218.6 1485.4 L2219.4 1474.0 L2220.2 1473.2 L2221.0 1477.0 L2221.8 1474.0 L2222.6 1472.9 L2223.4 1482.2 L2224.2 1483.4 L2225.0 1472.6 L2225.8 1474.9 L2226.7 1475.3 L2227.5 1477.4 L2228.3 1485.4 L2229.1 1473.5 L2229.9 1477.6 L2230.7 1479.4 L2231.5 1475.1 L2232.3 1476.9 L2233.1 1481.7 L2233.9 1481.4 L2234.7 1482.8 L2235.5 1481.6 L2236.3 1476.9 L2237.1 1474.3 L2237.9 1472.7 L2238.7 1481.2 L2239.5 1482.9 L2240.3 1481.6 L2241.1 1480.3 L2241.9 1477.8 L2242.7 1473.1 L2243.5 1478.3 L2244.3 1474.0 L2245.1 1476.3 L2245.9 1482.5 L2246.7 1480.1 L2247.5 1484.1 L2248.3 1483.7 L2249.1 1481.9 L2249.9 1484.7 L2250.8 1474.5 L2251.6 1482.1 L2252.4 1480.7 L2253.2 1479.7 L2254.0 1474.1 L2254.8 1479.0 L2255.6 1484.3 L2256.4 1481.8 L2257.2 1484.6 L2258.0 1482.6 L2258.8 1473.4 L2259.6 1477.7 L2260.4 1483.5 L2261.2 1481.9 L2262.0 1479.0" stroke="#000" stroke-width="6.5"/>
</g>
<rect x="379" y="50.4" width="1885.4" height="1518.6" fill="none" stroke="#000" stroke-width="7.8"/>
<g style="font-size:64px">
<text x="345" y="1488.0" text-anchor="end">0.0</text><text x="308" y="1288.5" text-anchor="end">2.0×10</text><text transform="translate(309.5,1263.7) scale(0.93,1.05)" style="font-size:45px">-8</text><text x="308" y="1086.0" text-anchor="end">4.0×10</text><text transform="translate(309.5,1061.2) scale(0.93,1.05)" style="font-size:45px">-8</text><text x="308" y="883.5" text-anchor="end">6.0×10</text><text transform="translate(309.5,858.7) scale(0.93,1.05)" style="font-size:45px">-8</text><text x="308" y="681.0" text-anchor="end">8.0×10</text><text transform="translate(309.5,656.2) scale(0.93,1.05)" style="font-size:45px">-8</text><text x="308" y="478.5" text-anchor="end">1.0×10</text><text transform="translate(309.5,453.7) scale(0.93,1.05)" style="font-size:45px">-7</text><text x="308" y="276.0" text-anchor="end">1.2×10</text><text transform="translate(309.5,251.2) scale(0.93,1.05)" style="font-size:45px">-7</text><text x="308" y="73.5" text-anchor="end">1.4×10</text><text transform="translate(309.5,48.7) scale(0.93,1.05)" style="font-size:45px">-7</text>
<text x="378.5" y="1653" text-anchor="middle" style="font-size:67px">0</text><text x="664.2" y="1653" text-anchor="middle" style="font-size:67px">50</text><text x="949.9" y="1653" text-anchor="middle" style="font-size:67px">100</text><text x="1235.6" y="1653" text-anchor="middle" style="font-size:67px">150</text><text x="1521.3" y="1653" text-anchor="middle" style="font-size:67px">200</text><text x="1807.0" y="1653" text-anchor="middle" style="font-size:67px">250</text><text x="2092.7" y="1653" text-anchor="middle" style="font-size:67px">300</text>
</g>
<text x="1323" y="1722" text-anchor="middle" style="font-size:80px">Time (s)</text>
<g style="font-size:81px">
<text transform="rotate(-90)" x="-1197" y="101.5" textLength="455" lengthAdjust="spacing">Photocurrent</text>
<text transform="rotate(-90)" x="-723.8" y="101.5">(</text>
<text transform="rotate(-90) translate(-693.9,101.5) scale(0.83,1)">A</text>
<text transform="rotate(-90) translate(-637.2,101.5) scale(0.85,1)">/</text>
<text transform="rotate(-90) translate(-616.2,101.5) scale(0.89,1)">c</text>
<text transform="rotate(-90) translate(-579.3,101.5) scale(0.86,1)">m</text>
<text transform="rotate(-90)" x="-517.9" y="67" style="font-size:78.5px">-</text>
<text transform="rotate(-90) translate(-487.8,67) scale(0.86,1)" style="font-size:78.5px">2</text>
<text transform="rotate(-90)" x="-449.6" y="101.5">)</text>
</g>
<g stroke-width="7">
<line x1="1620.5" y1="114.6" x2="1803.7" y2="114.6" stroke="#0000ff"/>
<line x1="1620.5" y1="231.2" x2="1803.7" y2="231.2" stroke="#ff0000"/>
<line x1="1620.5" y1="329.7" x2="1803.7" y2="329.7" stroke="#000"/>
</g>
<g style="font-size:79.5px">
<text x="1822" y="140.8">g-C<tspan dy="21" style="font-size:51px">3</tspan><tspan dy="-21">N</tspan><tspan dy="21" style="font-size:51px">4</tspan></text>
<text x="1822" y="256.6">CM-10</text>
<text x="1822" y="355.9">MIL-53(Fe)</text>
</g>
</svg>
</body></html>
